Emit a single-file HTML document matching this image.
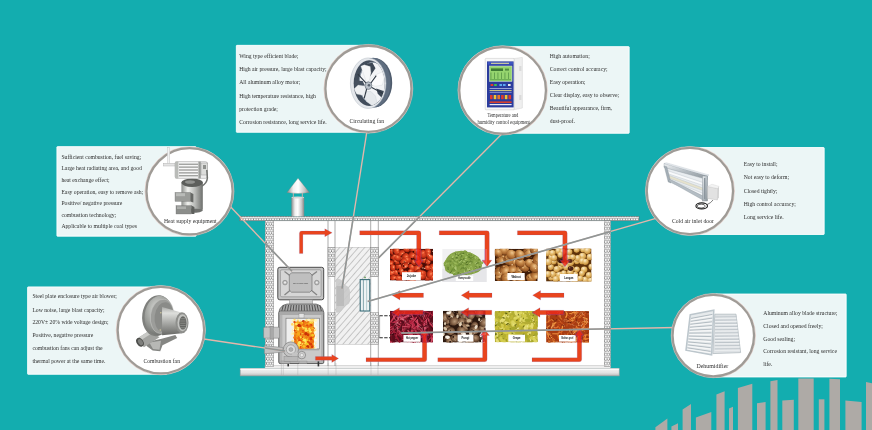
<!DOCTYPE html><html><head><meta charset="utf-8"><title>Drying room</title><style>html,body{margin:0;padding:0;background:#13adaf;overflow:hidden}svg{display:block;will-change:transform}text{font-family:"Liberation Serif",serif;fill:#2e2e2e}.s{font-family:"Liberation Sans",sans-serif;font-weight:bold;fill:#111}</style></head><body>
<svg width="872" height="430" viewBox="0 0 872 430">
<defs>
<pattern id="hc" width="2.6" height="4.5" patternUnits="userSpaceOnUse"><rect width="2.6" height="4.5" fill="#6a6a6a"/><circle cx="1.3" cy="1.125" r="1.1" fill="#fff"/><circle cx="0" cy="3.375" r="1.1" fill="#fff"/><circle cx="2.6" cy="3.375" r="1.1" fill="#fff"/></pattern>
<pattern id="diag" width="4.7" height="4.7" patternUnits="userSpaceOnUse" patternTransform="rotate(-49)"><rect width="4.7" height="4.7" fill="#f1f1f1"/><line x1="0" y1="0.3" x2="4.7" y2="0.3" stroke="#8f8f8f" stroke-width="0.55"/></pattern>
<linearGradient id="cyl" x1="0" x2="1" y1="0" y2="0"><stop offset="0" stop-color="#8a8a8a"/><stop offset=".28" stop-color="#f0f0f0"/><stop offset=".5" stop-color="#ffffff"/><stop offset=".8" stop-color="#c4c4c4"/><stop offset="1" stop-color="#858585"/></linearGradient>
<linearGradient id="cylv" x1="0" x2="0" y1="0" y2="1"><stop offset="0" stop-color="#9a9a9a"/><stop offset=".35" stop-color="#f2f2f2"/><stop offset="1" stop-color="#8a8a8a"/></linearGradient>
<linearGradient id="base" x1="0" x2="0" y1="0" y2="1"><stop offset="0" stop-color="#f4f4f4"/><stop offset=".6" stop-color="#e2e2e2"/><stop offset="1" stop-color="#b9b9b9"/></linearGradient>
<clipPath id="bld"><rect x="265" y="216" width="346" height="152"/></clipPath>
</defs>
<rect width="872" height="430" fill="#13adaf"/>
<polygon points="655.4,430 655.4,427.2 667.4,418.4 667.4,430" fill="#aeaaa6"/>
<polygon points="671.4,430 671.4,426.4 678,423.2 678,430" fill="#aeaaa6"/>
<polygon points="682.6,430 682.6,409.4 691,404 691,430" fill="#aeaaa6"/>
<polygon points="695.9,430 695.9,417.4 711.3,412 711.3,430" fill="#aeaaa6"/>
<polygon points="716.4,430 716.4,394.5 724.6,391.3 724.6,430" fill="#aeaaa6"/>
<polygon points="729,430 729,408.6 733,406.7 733,430" fill="#aeaaa6"/>
<polygon points="737.9,430 737.9,388 752.3,383.8 752.3,430" fill="#aeaaa6"/>
<polygon points="757,430 757,403.3 765.6,402 765.6,430" fill="#aeaaa6"/>
<polygon points="770.4,430 770.4,381.2 777.5,380 777.5,430" fill="#aeaaa6"/>
<polygon points="782.3,430 782.3,400.6 793.8,399.8 793.8,430" fill="#aeaaa6"/>
<polygon points="798.3,430 798.3,378.5 813.7,378.5 813.7,430" fill="#aeaaa6"/>
<polygon points="818.8,430 818.8,399.3 824.4,399.3 824.4,430" fill="#aeaaa6"/>
<polygon points="829.4,430 829.4,378.8 840,379.3 840,430" fill="#aeaaa6"/>
<polygon points="845.4,430 845.4,400.6 861.6,402 861.6,430" fill="#aeaaa6"/>
<polygon points="866,430 866,382 872,383.3 872,430" fill="#aeaaa6"/>
<rect x="236.35" y="45.35" width="139.1" height="86.89999999999999" rx="0.5" fill="#ecf6f6" stroke="#fff" stroke-width="0.9"/>
<rect x="500.45" y="46.650000000000006" width="128.7" height="86.6" rx="0.5" fill="#ecf6f6" stroke="#fff" stroke-width="0.9"/>
<rect x="56.95" y="146.64999999999998" width="139.1" height="89.5" rx="0.5" fill="#ecf6f6" stroke="#fff" stroke-width="0.9"/>
<rect x="27.65" y="286.95" width="139.1" height="87.3" rx="0.5" fill="#ecf6f6" stroke="#fff" stroke-width="0.9"/>
<rect x="690.45" y="147.54999999999998" width="133.7" height="86.89999999999999" rx="0.5" fill="#ecf6f6" stroke="#fff" stroke-width="0.9"/>
<rect x="715.45" y="294.05" width="130.7" height="82.89999999999999" rx="0.5" fill="#ecf6f6" stroke="#fff" stroke-width="0.9"/>
<text x="239.2" y="58.4" font-size="5.7">Wing type efficient blade;</text>
<text x="239.2" y="71.3" font-size="5.7">High air pressure, large blast capacity;</text>
<text x="239.2" y="84.1" font-size="5.7">All aluminum alloy motor;</text>
<text x="239.2" y="97.5" font-size="5.7">High temperature resistance, high</text>
<text x="239.2" y="110.7" font-size="5.7">protection grade;</text>
<text x="239.2" y="123.5" font-size="5.7">Corrosion resistance, long service life.</text>
<text x="549.8" y="57.6" font-size="5.7">High automation;</text>
<text x="549.8" y="70.7" font-size="5.7">Correct control accuracy;</text>
<text x="549.8" y="83.9" font-size="5.7">Easy operation;</text>
<text x="549.8" y="96.9" font-size="5.7">Clear display, easy to observe;</text>
<text x="549.8" y="110.1" font-size="5.7">Beautiful appearance, firm,</text>
<text x="549.8" y="122.9" font-size="5.7">dust-proof.</text>
<text x="61.4" y="158.5" font-size="5.7">Sufficient combustion, fuel saving;</text>
<text x="61.4" y="170.3" font-size="5.7">Large heat radiating area, and good</text>
<text x="61.4" y="181.8" font-size="5.7">heat exchange effect;</text>
<text x="61.4" y="193.6" font-size="5.7">Easy operation, easy to remove ash;</text>
<text x="61.4" y="205.1" font-size="5.7">Positive/ negative pressure</text>
<text x="61.4" y="216.8" font-size="5.7">combustion technology;</text>
<text x="61.4" y="228.3" font-size="5.7">Applicable to multiple coal types</text>
<text x="32.4" y="298.2" font-size="5.7">Steel plate enclosure type air blower;</text>
<text x="32.4" y="312.1" font-size="5.7">Low noise, large blast capacity;</text>
<text x="32.4" y="324.3" font-size="5.7">220V± 20% wide voltage design;</text>
<text x="32.4" y="336.9" font-size="5.7">Positive, negative pressure</text>
<text x="32.4" y="350.4" font-size="5.7">combustion fans can adjust the</text>
<text x="32.4" y="363" font-size="5.7">thermal power at the same time.</text>
<text x="743.7" y="166.1" font-size="5.7">Easy to install;</text>
<text x="743.7" y="179.4" font-size="5.7">Not easy to deform;</text>
<text x="743.7" y="192.5" font-size="5.7">Closed tightly;</text>
<text x="743.7" y="205.8" font-size="5.7">High control accuracy;</text>
<text x="743.7" y="218.8" font-size="5.7">Long service life.</text>
<text x="763.3" y="314.7" font-size="5.7">Aluminum alloy blade structure;</text>
<text x="763.3" y="327.7" font-size="5.7">Closed and opened freely;</text>
<text x="763.3" y="340.8" font-size="5.7">Good sealing;</text>
<text x="763.3" y="353.4" font-size="5.7">Corrosion resistant, long service</text>
<text x="763.3" y="366.4" font-size="5.7">life.</text>
<g id="building">
<rect x="265" y="220.5" width="345.5" height="146.5" fill="#fff"/>
<rect x="265" y="365.6" width="345.5" height="2.8" fill="#eee" stroke="#aaa" stroke-width="0.4"/>
<rect x="240.2" y="368.3" width="379" height="7.6" fill="url(#base)" stroke="#9c9c9c" stroke-width="0.6"/>
<rect x="240.5" y="368.6" width="378.4" height="1.4" fill="#fafafa"/>
<line x1="281.4" y1="363" x2="281.4" y2="375.6" stroke="#aaa" stroke-width="0.4"/>
<line x1="283.3" y1="363" x2="283.3" y2="375.6" stroke="#aaa" stroke-width="0.4"/>
<line x1="297.8" y1="363" x2="297.8" y2="375.6" stroke="#aaa" stroke-width="0.4"/>
<line x1="328.2" y1="363" x2="328.2" y2="375.6" stroke="#aaa" stroke-width="0.4"/>
<line x1="336" y1="363" x2="336" y2="375.6" stroke="#aaa" stroke-width="0.4"/>
<line x1="371" y1="363" x2="371" y2="375.6" stroke="#aaa" stroke-width="0.4"/>
<line x1="378" y1="363" x2="378" y2="375.6" stroke="#aaa" stroke-width="0.4"/>
<rect x="239.8" y="216.3" width="399.2" height="4.5" fill="url(#hc)" stroke="#666" stroke-width="0.5"/>
<rect x="265.2" y="220.8" width="8.6" height="145.4" fill="url(#hc)" stroke="#777" stroke-width="0.4"/>
<rect x="604.4" y="220.8" width="6" height="145.6" fill="url(#hc)" stroke="#777" stroke-width="0.4"/>
<line x1="328" y1="220.8" x2="328" y2="366" stroke="#747474" stroke-width="0.6"/>
<line x1="335" y1="220.8" x2="335" y2="366" stroke="#747474" stroke-width="0.6"/>
<line x1="370.7" y1="220.8" x2="370.7" y2="366" stroke="#747474" stroke-width="0.6"/>
<line x1="378.3" y1="220.8" x2="378.3" y2="366" stroke="#747474" stroke-width="0.6"/>
<rect x="335" y="247.2" width="35.7" height="97.1" fill="url(#diag)" stroke="#aaa" stroke-width="0.4"/>
<rect x="328" y="247.2" width="7" height="29.6" fill="url(#hc)" stroke="#777" stroke-width="0.4"/>
<rect x="328" y="312.8" width="7" height="31.5" fill="url(#hc)" stroke="#777" stroke-width="0.4"/>
<rect x="370.7" y="247.2" width="7.6" height="29.6" fill="url(#hc)" stroke="#777" stroke-width="0.4"/>
<rect x="370.7" y="312.8" width="7.6" height="31.5" fill="url(#hc)" stroke="#777" stroke-width="0.4"/>
<rect x="328.4" y="278" width="1.6" height="34.6" fill="#fff" stroke="#999" stroke-width="0.3"/>
<path d="M336 279 Q341 277.5 343 283 L346 285.5 Q350 287 350 292 L350 300 Q350 304 346 305.5 L343 308 Q341 313.5 336 312.5 Z" fill="#c9c9c9" opacity="0.9"/>
<path d="M336.5 286 L344 286 L344 306 L336.5 306 Z" fill="#b8b8b8" opacity="0.8"/>
<rect x="360.2" y="279.6" width="9.6" height="31.4" fill="#eef3f4" stroke="#3a6c78" stroke-width="1.1"/>
<line x1="363.4" y1="280" x2="363.4" y2="311" stroke="#3f7480" stroke-width="0.6"/><line x1="366.6" y1="280" x2="366.6" y2="311" stroke="#7fa9b1" stroke-width="0.5"/>
<circle cx="365" cy="277.4" r="0.9" fill="#6a9b5a"/>
<line x1="379.6" y1="315.7" x2="379.6" y2="337.8" stroke="#777" stroke-width="0.6"/>
<line x1="379.4" y1="315.7" x2="390.4" y2="315.7" stroke="#2a2a2a" stroke-width="1.1" stroke-dasharray="3.4 1.4"/><line x1="379.4" y1="337.8" x2="390.4" y2="337.8" stroke="#2a2a2a" stroke-width="1.1" stroke-dasharray="3.4 1.4"/>
<rect x="291.4" y="197.4" width="12.8" height="19" fill="url(#cyl)"/>
<ellipse cx="297.8" cy="197.5" rx="6.4" ry="0.9" fill="#d9d9d9"/>
<rect x="292.8" y="192.6" width="1.1" height="5" fill="#b5b0aa"/><rect x="301.8" y="192.6" width="1.1" height="5" fill="#b5b0aa"/>
<path d="M298 178.3 L309.4 192.4 Q298 194.6 287 192.4 Z" fill="url(#cyl)" stroke="#8a7f78" stroke-width="0.3"/>
<g id="furnace">
<rect x="277.8" y="267.3" width="45.9" height="32.5" rx="2" fill="#c4c4c4" stroke="#4a4a4a" stroke-width="1"/>
<rect x="280.4" y="269.8" width="40.7" height="27" rx="1.5" fill="#d6d6d6" stroke="#777" stroke-width="0.5"/>
<line x1="284.5" y1="271.5" x2="290.5" y2="276" stroke="#858585" stroke-width="1.3"/>
<line x1="317" y1="271.5" x2="311" y2="276" stroke="#858585" stroke-width="1.3"/>
<line x1="284.5" y1="295" x2="290.5" y2="290" stroke="#858585" stroke-width="1.3"/>
<line x1="317" y1="295" x2="311" y2="290" stroke="#858585" stroke-width="1.3"/>
<polygon points="291.5,272.8 309.8,272.8 312,275 312,290 309.8,292.2 291.5,292.2 289.3,290 289.3,275" fill="#bfbfbf" stroke="#666" stroke-width="0.6"/>
<circle cx="285" cy="282.6" r="2.3" fill="#bdbdbd" stroke="#6f6f6f" stroke-width="0.5"/><circle cx="285" cy="282.6" r="1" fill="#eee"/>
<circle cx="316.8" cy="282.6" r="2.3" fill="#bdbdbd" stroke="#6f6f6f" stroke-width="0.5"/><circle cx="316.8" cy="282.6" r="1" fill="#eee"/>
<text x="293.2" y="283.8" font-size="2.4" class="s" style="fill:#555" textLength="15" lengthAdjust="spacingAndGlyphs">BAOYUXIONG</text>
<rect x="289.5" y="299.8" width="23.2" height="4.4" fill="#c9c9c9" stroke="#7a7a7a" stroke-width="0.4"/>
<path d="M279 311.6 Q280 305.5 287 304 L316 304 Q322.5 305.5 323.6 311.6 Z" fill="#a8a8a8" stroke="#444" stroke-width="0.6"/>
<line x1="283.4" y1="305" x2="281.86" y2="310.8" stroke="#3c3c3c" stroke-width="0.8"/>
<line x1="286" y1="305" x2="284.68" y2="310.8" stroke="#3c3c3c" stroke-width="0.8"/>
<line x1="288.6" y1="305" x2="287.5" y2="310.8" stroke="#3c3c3c" stroke-width="0.8"/>
<line x1="291.2" y1="305" x2="290.32" y2="310.8" stroke="#3c3c3c" stroke-width="0.8"/>
<line x1="293.8" y1="305" x2="293.14" y2="310.8" stroke="#3c3c3c" stroke-width="0.8"/>
<line x1="296.4" y1="305" x2="295.96" y2="310.8" stroke="#3c3c3c" stroke-width="0.8"/>
<line x1="299" y1="305" x2="298.78" y2="310.8" stroke="#3c3c3c" stroke-width="0.8"/>
<line x1="301.6" y1="305" x2="301.6" y2="310.8" stroke="#3c3c3c" stroke-width="0.8"/>
<line x1="304.2" y1="305" x2="304.42" y2="310.8" stroke="#3c3c3c" stroke-width="0.8"/>
<line x1="306.8" y1="305" x2="307.24" y2="310.8" stroke="#3c3c3c" stroke-width="0.8"/>
<line x1="309.4" y1="305" x2="310.06" y2="310.8" stroke="#3c3c3c" stroke-width="0.8"/>
<line x1="312" y1="305" x2="312.88" y2="310.8" stroke="#3c3c3c" stroke-width="0.8"/>
<line x1="314.6" y1="305" x2="315.7" y2="310.8" stroke="#3c3c3c" stroke-width="0.8"/>
<line x1="317.2" y1="305" x2="318.52" y2="310.8" stroke="#3c3c3c" stroke-width="0.8"/>
<line x1="319.8" y1="305" x2="321.34" y2="310.8" stroke="#3c3c3c" stroke-width="0.8"/>
<rect x="278.8" y="311.2" width="45" height="52.4" rx="1.5" fill="#b4b4b4" stroke="#4a4a4a" stroke-width="0.9"/><rect x="282.4" y="315" width="38.6" height="46" fill="#cacaca"/>
<rect x="279.6" y="311.4" width="43.6" height="3.6" fill="#a9a9a9"/>
<rect x="299" y="313.6" width="5" height="4.4" fill="#e4e4e4" stroke="#777" stroke-width="0.3"/>
<rect x="286" y="318.2" width="33.3" height="30.7" fill="#efefef" stroke="#6f6f6f" stroke-width="0.6"/>
<clipPath id="fw"><rect x="286.4" y="318.6" width="32.5" height="30"/></clipPath><g clip-path="url(#fw)">
<circle cx="315.45" cy="338.06" r="1.45" fill="#fff3c0"/>
<circle cx="293.75" cy="344.37" r="1.42" fill="#fff3c0"/>
<circle cx="293.03" cy="330.78" r="0.78" fill="#ffe890"/>
<circle cx="293.1" cy="320.38" r="0.85" fill="#ffd868"/>
<circle cx="292.37" cy="324.63" r="1.19" fill="#ffe890"/>
<circle cx="292.57" cy="323.83" r="0.87" fill="#ffe890"/>
<circle cx="314.15" cy="345.3" r="0.86" fill="#ffe890"/>
<circle cx="294.61" cy="325.27" r="1.41" fill="#fffbe6"/>
<circle cx="313.75" cy="320.63" r="0.82" fill="#fff3c0"/>
<circle cx="293.61" cy="329.62" r="1.27" fill="#fff3c0"/>
<circle cx="314.6" cy="328.99" r="0.95" fill="#ffd868"/>
<circle cx="292.15" cy="333.7" r="1.48" fill="#fff3c0"/>
<circle cx="315.58" cy="347.53" r="0.71" fill="#ffd868"/>
<circle cx="293.22" cy="330.62" r="1.27" fill="#ffe890"/>
<circle cx="294.51" cy="323.45" r="1.45" fill="#fffbe6"/>
<circle cx="315.39" cy="334.86" r="0.79" fill="#fffbe6"/>
<circle cx="293.17" cy="344.93" r="1.48" fill="#ffe890"/>
<circle cx="315.78" cy="329.88" r="0.97" fill="#fff3c0"/>
<circle cx="314.13" cy="329.06" r="1.34" fill="#ffe890"/>
<circle cx="315.99" cy="340.91" r="0.83" fill="#fff3c0"/>
<circle cx="313.39" cy="322.35" r="1.29" fill="#fffbe6"/>
<circle cx="315.06" cy="343.96" r="0.82" fill="#fff3c0"/>
<circle cx="315.56" cy="343.25" r="0.8" fill="#ffe890"/>
<circle cx="313.59" cy="338.28" r="1.05" fill="#ffe890"/>
<circle cx="314.1" cy="321.7" r="1.06" fill="#ffe890"/>
<circle cx="315.89" cy="348.3" r="1.25" fill="#fffbe6"/>
<circle cx="314.57" cy="333.89" r="1.42" fill="#fff3c0"/>
<circle cx="293.69" cy="330.93" r="1.1" fill="#fffbe6"/>
<circle cx="314.04" cy="325.22" r="1.33" fill="#fffbe6"/>
<circle cx="315.18" cy="321.83" r="1.23" fill="#fffbe6"/>
<circle cx="315.56" cy="330.54" r="0.91" fill="#fffbe6"/>
<circle cx="315.05" cy="347.75" r="1.16" fill="#fff3c0"/>
<circle cx="314.18" cy="333.75" r="0.92" fill="#fffbe6"/>
<circle cx="314.24" cy="343.68" r="1.22" fill="#ffd868"/>
<circle cx="294.35" cy="330.15" r="1.25" fill="#fffbe6"/>
<circle cx="293.43" cy="347.74" r="0.83" fill="#fffbe6"/>
<circle cx="314.06" cy="347.18" r="0.76" fill="#ffd868"/>
<circle cx="314.12" cy="324.98" r="1.14" fill="#fffbe6"/>
<circle cx="292.53" cy="340.89" r="1.17" fill="#ffe890"/>
<circle cx="293.7" cy="326.35" r="0.73" fill="#ffd868"/>
<circle cx="292.15" cy="348.41" r="0.81" fill="#fffbe6"/>
<circle cx="313.82" cy="348.07" r="0.73" fill="#ffd868"/>
<circle cx="293.59" cy="330.18" r="0.89" fill="#fffbe6"/>
<circle cx="315.87" cy="320.02" r="1.38" fill="#fff3c0"/>
<circle cx="315.9" cy="339.98" r="1.14" fill="#fffbe6"/>
<circle cx="315.87" cy="322.75" r="0.93" fill="#fffbe6"/>
<circle cx="314.4" cy="343.74" r="1.15" fill="#fffbe6"/>
<circle cx="293.61" cy="333.56" r="1.15" fill="#ffe890"/>
<circle cx="292.95" cy="348.07" r="1.41" fill="#fff3c0"/>
<circle cx="314.83" cy="331.07" r="1.19" fill="#ffe890"/>
<circle cx="314.46" cy="329.44" r="1.48" fill="#ffd868"/>
<circle cx="314.34" cy="328.45" r="1.38" fill="#ffe890"/>
<circle cx="315.3" cy="337.28" r="0.94" fill="#fffbe6"/>
<circle cx="315.85" cy="332.05" r="0.95" fill="#fffbe6"/>
<circle cx="292.33" cy="324.16" r="1.2" fill="#ffd868"/>
<circle cx="294.11" cy="327.12" r="1.36" fill="#fff3c0"/>
<circle cx="313.96" cy="333.93" r="1.08" fill="#fff3c0"/>
<circle cx="315.58" cy="327.12" r="1.28" fill="#fffbe6"/>
<circle cx="314.7" cy="328.5" r="1.39" fill="#fff3c0"/>
<circle cx="292.81" cy="320.47" r="1.13" fill="#fffbe6"/>
<circle cx="306.81" cy="321.06" r="0.72" fill="#ffe890"/>
<circle cx="301.12" cy="321.09" r="1.11" fill="#fff3c0"/>
<circle cx="293.06" cy="320.71" r="1.18" fill="#fff3c0"/>
<circle cx="312.98" cy="320.69" r="0.71" fill="#ffe890"/>
<circle cx="306.39" cy="320.98" r="1.37" fill="#ffd868"/>
<circle cx="303.84" cy="321.42" r="0.97" fill="#ffe890"/>
<circle cx="308.35" cy="321.04" r="1.33" fill="#ffe890"/>
<circle cx="311.68" cy="319.73" r="1.29" fill="#ffd868"/>
<circle cx="310.53" cy="320.76" r="1.15" fill="#ffe890"/>
<circle cx="313.49" cy="319.89" r="1.03" fill="#ffd868"/>
<circle cx="313" cy="321.55" r="1.08" fill="#ffe890"/>
<circle cx="306.18" cy="321.22" r="0.75" fill="#fff3c0"/>
<circle cx="299.01" cy="319.77" r="0.74" fill="#fff3c0"/>
<circle cx="300.49" cy="320.46" r="0.75" fill="#ffe890"/>
<circle cx="308.78" cy="319.7" r="1.29" fill="#fff3c0"/>
<circle cx="306.83" cy="321.25" r="0.78" fill="#fff3c0"/>
<circle cx="315.37" cy="321.01" r="1.01" fill="#fff3c0"/>
<circle cx="306.74" cy="320.43" r="0.81" fill="#ffd868"/>
<circle cx="297.8" cy="320.71" r="1.16" fill="#ffd868"/>
<circle cx="294.62" cy="319.72" r="1.1" fill="#ffd868"/>
<rect x="294.2" y="321.6" width="19.6" height="27.6" fill="#f3961c"/>
<circle cx="306.42" cy="332.72" r="0.71" fill="#ee6a12"/>
<circle cx="305.96" cy="330.38" r="1.24" fill="#ffe860"/>
<circle cx="296.91" cy="347.12" r="1.02" fill="#c83006"/>
<circle cx="304.11" cy="339.21" r="1.7" fill="#f07a14"/>
<circle cx="298.52" cy="336.94" r="0.77" fill="#e24a0c"/>
<circle cx="308.91" cy="328.69" r="1.27" fill="#fbe04a"/>
<circle cx="311.12" cy="344.14" r="1.2" fill="#d93a08"/>
<circle cx="308.18" cy="326.6" r="1.42" fill="#ee6a12"/>
<circle cx="294.9" cy="337.59" r="1.65" fill="#f07a14"/>
<circle cx="298.88" cy="338.17" r="1.66" fill="#f58a18"/>
<circle cx="296.31" cy="348.48" r="1.28" fill="#f07a14"/>
<circle cx="295.25" cy="341.83" r="0.87" fill="#d93a08"/>
<circle cx="298.57" cy="340.6" r="0.83" fill="#f58a18"/>
<circle cx="296.94" cy="344.49" r="1.39" fill="#ffe860"/>
<circle cx="299.88" cy="344.92" r="1.72" fill="#ffe860"/>
<circle cx="301.61" cy="343.81" r="1.49" fill="#ffe860"/>
<circle cx="309.97" cy="339.68" r="1.18" fill="#ffe860"/>
<circle cx="305.82" cy="336.04" r="1.33" fill="#fbe04a"/>
<circle cx="296.1" cy="332.63" r="0.74" fill="#e24a0c"/>
<circle cx="303.8" cy="327.06" r="1.73" fill="#ffe860"/>
<circle cx="303.42" cy="321.61" r="1.68" fill="#c83006"/>
<circle cx="300.54" cy="347.32" r="1.21" fill="#e24a0c"/>
<circle cx="297.32" cy="325.92" r="1.11" fill="#d93a08"/>
<circle cx="303.41" cy="345.84" r="1.31" fill="#ee6a12"/>
<circle cx="297.37" cy="329.34" r="1.02" fill="#e24a0c"/>
<circle cx="311.77" cy="322.52" r="1.08" fill="#ffe860"/>
<circle cx="295.35" cy="330.42" r="0.72" fill="#f58a18"/>
<circle cx="312.73" cy="334.76" r="0.83" fill="#ffe860"/>
<circle cx="307.42" cy="329.72" r="1.5" fill="#fbe04a"/>
<circle cx="308.21" cy="322.54" r="1.33" fill="#ee6a12"/>
<circle cx="312.07" cy="338.83" r="1.48" fill="#f9a81c"/>
<circle cx="301.28" cy="326.75" r="0.77" fill="#f58a18"/>
<circle cx="298.91" cy="326.16" r="1.44" fill="#f7c325"/>
<circle cx="302.64" cy="339.62" r="1.77" fill="#f7c325"/>
<circle cx="303.08" cy="334.49" r="1.45" fill="#fbe04a"/>
<circle cx="304.95" cy="322.85" r="1.79" fill="#f07a14"/>
<circle cx="312.61" cy="337.37" r="1.49" fill="#e24a0c"/>
<circle cx="303.83" cy="346.68" r="1.73" fill="#f7c325"/>
<circle cx="306.83" cy="340.65" r="1.25" fill="#f7c325"/>
<circle cx="310.54" cy="322.94" r="1.19" fill="#f7c325"/>
<circle cx="312.82" cy="346.01" r="0.91" fill="#f07a14"/>
<circle cx="297.89" cy="339.47" r="0.96" fill="#ffe860"/>
<circle cx="295.9" cy="343.66" r="1.78" fill="#fbe04a"/>
<circle cx="310.99" cy="338.29" r="0.94" fill="#f7c325"/>
<circle cx="301.21" cy="333.91" r="1.17" fill="#d93a08"/>
<circle cx="296.8" cy="336.17" r="0.71" fill="#f9a81c"/>
<circle cx="311.67" cy="340.81" r="1.8" fill="#f07a14"/>
<circle cx="300.31" cy="324.83" r="0.8" fill="#f9a81c"/>
<circle cx="300.33" cy="344.46" r="0.84" fill="#ee6a12"/>
<circle cx="307.86" cy="334.76" r="1.58" fill="#c83006"/>
<circle cx="299.61" cy="340.19" r="1.24" fill="#e24a0c"/>
<circle cx="298.12" cy="322.94" r="1.01" fill="#ffe860"/>
<circle cx="295.61" cy="346.31" r="1.55" fill="#d93a08"/>
<circle cx="305.1" cy="342.59" r="1.69" fill="#fbe04a"/>
<circle cx="302.87" cy="337.63" r="1.6" fill="#f7c325"/>
<circle cx="307.94" cy="341.91" r="0.99" fill="#d93a08"/>
<circle cx="300.5" cy="337.28" r="1.04" fill="#fbe04a"/>
<circle cx="307.45" cy="328.93" r="1.01" fill="#ee6a12"/>
<circle cx="308.68" cy="336.73" r="0.73" fill="#ee6a12"/>
<circle cx="296.75" cy="323.01" r="1.09" fill="#f9a81c"/>
<circle cx="306.2" cy="348.08" r="0.95" fill="#d93a08"/>
<circle cx="298.14" cy="325.1" r="1.09" fill="#fbe04a"/>
<circle cx="310.41" cy="337.91" r="1.5" fill="#ee6a12"/>
<circle cx="306.08" cy="329.08" r="1.39" fill="#fbe04a"/>
<circle cx="312.6" cy="334.05" r="1.57" fill="#ee6a12"/>
<circle cx="302.94" cy="330.9" r="0.95" fill="#c83006"/>
<circle cx="302.85" cy="333.71" r="1.54" fill="#fbe04a"/>
<circle cx="313.21" cy="336.46" r="1.36" fill="#ee6a12"/>
<circle cx="310.87" cy="325.14" r="1.45" fill="#e24a0c"/>
<circle cx="294.84" cy="348.89" r="1.33" fill="#f58a18"/>
<circle cx="301.14" cy="341.27" r="1.21" fill="#e24a0c"/>
<circle cx="298.14" cy="329.33" r="1.32" fill="#ffe860"/>
<circle cx="309.59" cy="342.93" r="1.1" fill="#e24a0c"/>
<circle cx="307.2" cy="344.32" r="1.7" fill="#f7c325"/>
<circle cx="302.06" cy="338.85" r="0.86" fill="#e24a0c"/>
<circle cx="294.94" cy="335.27" r="0.89" fill="#ee6a12"/>
<circle cx="299.72" cy="342.63" r="1.71" fill="#ffe860"/>
<circle cx="303.41" cy="334.91" r="1.29" fill="#ee6a12"/>
<circle cx="301.58" cy="343.93" r="0.71" fill="#f07a14"/>
<circle cx="306.37" cy="338.49" r="1.59" fill="#f7c325"/>
<circle cx="294.73" cy="330.45" r="1.04" fill="#d93a08"/>
<circle cx="304.89" cy="335.58" r="1.46" fill="#f58a18"/>
<circle cx="310.18" cy="349.01" r="1.72" fill="#f07a14"/>
<circle cx="304.72" cy="340.3" r="1.58" fill="#ffe860"/>
<circle cx="294.6" cy="348.34" r="1.55" fill="#e24a0c"/>
<circle cx="295.72" cy="329.53" r="0.8" fill="#ffe860"/>
<circle cx="311.11" cy="338.64" r="1.74" fill="#d93a08"/>
<circle cx="312.41" cy="330.16" r="1" fill="#e24a0c"/>
<circle cx="308.97" cy="323.61" r="1.44" fill="#f9a81c"/>
<circle cx="307.68" cy="346.63" r="1.62" fill="#c83006"/>
<circle cx="298.29" cy="338.65" r="1.27" fill="#ee6a12"/>
<circle cx="313.3" cy="328.27" r="1.3" fill="#d93a08"/>
<circle cx="307.35" cy="348.64" r="1.12" fill="#f07a14"/>
<circle cx="312.04" cy="346.7" r="1.37" fill="#d93a08"/>
<circle cx="310.73" cy="330.65" r="1.68" fill="#ffe860"/>
<circle cx="296.16" cy="328.55" r="1.02" fill="#f9a81c"/>
<circle cx="295.73" cy="343.84" r="1.75" fill="#ee6a12"/>
<circle cx="309.22" cy="339.26" r="0.95" fill="#ee6a12"/>
<circle cx="306.48" cy="337.5" r="1.4" fill="#f07a14"/>
<circle cx="302.37" cy="341.91" r="1.17" fill="#f07a14"/>
<circle cx="298.99" cy="338.23" r="1.16" fill="#ee6a12"/>
<circle cx="313.14" cy="338.49" r="0.91" fill="#f7c325"/>
<circle cx="299.99" cy="325.76" r="1.31" fill="#c83006"/>
<circle cx="297.93" cy="326.73" r="1.35" fill="#ffe860"/>
<circle cx="295.4" cy="341.94" r="1.23" fill="#f07a14"/>
<circle cx="300.44" cy="348.31" r="1.64" fill="#d93a08"/>
<circle cx="298.69" cy="347.46" r="1.47" fill="#f58a18"/>
<circle cx="294.23" cy="345.03" r="1.44" fill="#ee6a12"/>
<circle cx="297.18" cy="324.19" r="1.38" fill="#ee6a12"/>
<circle cx="302.85" cy="337.64" r="1.06" fill="#fbe04a"/>
<circle cx="312.31" cy="341.5" r="1.75" fill="#ee6a12"/>
<circle cx="310.16" cy="331.79" r="0.92" fill="#ffe860"/>
<circle cx="303.19" cy="332.05" r="1.45" fill="#ee6a12"/>
<circle cx="312.65" cy="328.46" r="1.21" fill="#f7c325"/>
<circle cx="305.9" cy="324.88" r="1.11" fill="#f7c325"/>
<circle cx="313.07" cy="335.42" r="1.74" fill="#ee6a12"/>
<circle cx="312.58" cy="335.29" r="1.48" fill="#f7c325"/>
<circle cx="303.59" cy="324.86" r="1.09" fill="#e24a0c"/>
<circle cx="301.69" cy="347.22" r="1.02" fill="#f58a18"/>
<circle cx="309.22" cy="339.53" r="0.8" fill="#ee6a12"/>
<circle cx="300.8" cy="329.86" r="1.63" fill="#f07a14"/>
<circle cx="298.52" cy="333.66" r="1.78" fill="#f9a81c"/>
<circle cx="295.64" cy="340.19" r="1" fill="#ee6a12"/>
<circle cx="302.68" cy="337.04" r="0.9" fill="#d93a08"/>
<circle cx="299" cy="345.47" r="1.2" fill="#fbe04a"/>
<circle cx="294.3" cy="344.22" r="1.54" fill="#ffe860"/>
<circle cx="294.62" cy="344.22" r="1.32" fill="#d93a08"/>
<circle cx="295.74" cy="345.82" r="1.77" fill="#e24a0c"/>
<circle cx="302.88" cy="348.78" r="1.22" fill="#ee6a12"/>
<circle cx="305.93" cy="348.28" r="1.62" fill="#f58a18"/>
<circle cx="295.24" cy="335.77" r="1.13" fill="#f07a14"/>
<circle cx="305.83" cy="333.73" r="1.69" fill="#c83006"/>
<circle cx="294.91" cy="339.34" r="0.73" fill="#d93a08"/>
<circle cx="310.34" cy="344.27" r="1.18" fill="#d93a08"/>
<circle cx="310.19" cy="322.02" r="0.88" fill="#ffe860"/>
<circle cx="309.51" cy="325.74" r="1.16" fill="#ee6a12"/>
<circle cx="298.45" cy="349.34" r="1.16" fill="#f9a81c"/>
<circle cx="301.32" cy="325.49" r="0.7" fill="#ee6a12"/>
<circle cx="309.06" cy="343.06" r="0.78" fill="#d93a08"/>
<circle cx="302.23" cy="322.6" r="0.86" fill="#f7c325"/>
<circle cx="303.88" cy="342.45" r="1.05" fill="#f58a18"/>
<circle cx="298.84" cy="325.4" r="1.71" fill="#c83006"/>
<circle cx="297.82" cy="322.47" r="1.17" fill="#f9a81c"/>
<circle cx="307.02" cy="325.26" r="1.07" fill="#e24a0c"/>
<circle cx="304.36" cy="325.84" r="1.77" fill="#f07a14"/>
<circle cx="296.38" cy="324.11" r="1.41" fill="#ffe860"/>
<circle cx="311.97" cy="330.07" r="1.3" fill="#f58a18"/>
<circle cx="298.92" cy="348.55" r="1.33" fill="#f9a81c"/>
<circle cx="294.45" cy="322.09" r="1.12" fill="#e24a0c"/>
<circle cx="308.03" cy="335.02" r="0.71" fill="#e24a0c"/>
</g>
<rect x="286.8" y="349.6" width="32.4" height="0.6" fill="#8a8a8a"/>
<rect x="287.4" y="361.4" width="1.6" height="5" fill="#333"/><rect x="317.6" y="361.4" width="1.6" height="5" fill="#333"/>
<rect x="281" y="361" width="9" height="2.6" fill="#b5b5b5" stroke="#777" stroke-width="0.3"/><rect x="299" y="361" width="8" height="2.6" fill="#b5b5b5" stroke="#777" stroke-width="0.3"/>
<rect x="263.6" y="327.2" width="16" height="11" rx="1" fill="#c4c4c4" stroke="#777" stroke-width="0.5"/>
<rect x="270" y="326.4" width="3.2" height="12.6" fill="#a9a9a9" stroke="#777" stroke-width="0.3"/>
<polygon points="264.4,345.6 283,347.6 283,352 264.4,353.8" fill="#c2c2c2" stroke="#808080" stroke-width="0.5"/>
<circle cx="290.9" cy="349.5" r="7.6" fill="#c4c4c4" stroke="#7b7b7b" stroke-width="0.7"/>
<circle cx="290.9" cy="349.5" r="4.6" fill="#dcdcdc" stroke="#8a8a8a" stroke-width="0.6"/>
<circle cx="290.9" cy="349.5" r="2" fill="#b0b0b0" stroke="#808080" stroke-width="0.4"/>
<rect x="292" y="352.6" width="10" height="4.6" fill="#c4c4c4"/>
<circle cx="301.8" cy="355.1" r="3.8" fill="#cdcdcd" stroke="#7b7b7b" stroke-width="0.7"/>
<circle cx="301.8" cy="355.1" r="1.7" fill="#ececec" stroke="#8a8a8a" stroke-width="0.4"/>
<rect x="284" y="356.6" width="14" height="4.6" fill="#b9b9b9" stroke="#808080" stroke-width="0.4"/>
</g>
<path d="M299.4 253.6 L299.4 233.3 Q299.4 231 301.7 231 L324.8 231 L324.8 228.7 L332.2 232.7 L324.8 236.7 L324.8 234.5 L302.9 234.5 L302.9 253.6 Z" fill="#e9441d" stroke="#5a5ad0" stroke-opacity="0.45" stroke-width="0.35"/>
<path d="M359.7 230.7 L418.7 230.7 Q421 230.7 421 233 L421 260.2 L423 260.2 L418.8 266.8 L414.7 260.2 L416.6 260.2 L416.6 234.9 L359.7 234.9 Z" fill="#e9441d" stroke="#5a5ad0" stroke-opacity="0.45" stroke-width="0.35"/>
<path d="M439.2 230.7 L487 230.7 Q489.3 230.7 489.3 233 L489.3 260.2 L491.8 260.2 L487.05 266.8 L482 260.2 L484.8 260.2 L484.8 234.9 L439.2 234.9 Z" fill="#e9441d" stroke="#5a5ad0" stroke-opacity="0.45" stroke-width="0.35"/>
<path d="M517.4 230.7 L564.9 230.7 Q567.2 230.7 567.2 233 L567.2 260.2 L570 260.2 L564.95 266.8 L560 260.2 L562.7 260.2 L562.7 234.9 L517.4 234.9 Z" fill="#e9441d" stroke="#5a5ad0" stroke-opacity="0.45" stroke-width="0.35"/>
<polygon points="392,295.3 400,290.5 400,293.1 423.5,293.1 423.5,297.5 400,297.5 400,300.1" fill="#e9441d" stroke="#5a5ad0" stroke-opacity="0.45" stroke-width="0.35"/>
<polygon points="391.4,312.5 399.4,307.7 399.4,310.3 423.3,310.3 423.3,314.7 399.4,314.7 399.4,317.3" fill="#e9441d" stroke="#5a5ad0" stroke-opacity="0.45" stroke-width="0.35"/>
<polygon points="461.2,295.3 469.2,290.5 469.2,293.1 492,293.1 492,297.5 469.2,297.5 469.2,300.1" fill="#e9441d" stroke="#5a5ad0" stroke-opacity="0.45" stroke-width="0.35"/>
<polygon points="460.6,312.5 468.6,307.7 468.6,310.3 491.8,310.3 491.8,314.7 468.6,314.7 468.6,317.3" fill="#e9441d" stroke="#5a5ad0" stroke-opacity="0.45" stroke-width="0.35"/>
<polygon points="532.6,295.3 540.6,290.5 540.6,293.1 564,293.1 564,297.5 540.6,297.5 540.6,300.1" fill="#e9441d" stroke="#5a5ad0" stroke-opacity="0.45" stroke-width="0.35"/>
<polygon points="532,312.5 540,307.7 540,310.3 563.8,310.3 563.8,314.7 540,314.7 540,317.3" fill="#e9441d" stroke="#5a5ad0" stroke-opacity="0.45" stroke-width="0.35"/>
<path d="M366 357.8 L422.3 357.8 L422.3 335.4 L419.9 335.4 L424.55 329.6 L429 335.4 L426.8 335.4 L426.8 359.4 Q426.8 361.7 424.5 361.7 L366 361.7 Z" fill="#e9441d" stroke="#5a5ad0" stroke-opacity="0.45" stroke-width="0.35"/>
<path d="M437.8 357.8 L482.6 357.8 L482.6 335.4 L480.3 335.4 L484.85 329.6 L489.5 335.4 L487.1 335.4 L487.1 359.4 Q487.1 361.7 484.8 361.7 L437.8 361.7 Z" fill="#e9441d" stroke="#5a5ad0" stroke-opacity="0.45" stroke-width="0.35"/>
<path d="M532 357.8 L577.2 357.8 L577.2 335.4 L574.7 335.4 L579.45 329.6 L583.8 335.4 L581.7 335.4 L581.7 359.4 Q581.7 361.7 579.4 361.7 L532 361.7 Z" fill="#e9441d" stroke="#5a5ad0" stroke-opacity="0.45" stroke-width="0.35"/>
<polygon points="315.4,356.6 331.8,356.6 331.8,354.4 338.6,358.4 331.8,362.4 331.8,360.2 315.4,360.2" fill="#e9441d" stroke="#5a5ad0" stroke-opacity="0.45" stroke-width="0.35"/>
<defs>
<radialGradient id="g_juj" cx=".38" cy=".32" r=".75"><stop offset="0" stop-color="#ff9a6a"/><stop offset=".25" stop-color="#e8502a"/><stop offset=".7" stop-color="#b82a12"/><stop offset="1" stop-color="#4a0c05"/></radialGradient>
<radialGradient id="g_wal" cx=".4" cy=".3" r=".78"><stop offset="0" stop-color="#f0c890"/><stop offset=".35" stop-color="#c98c4c"/><stop offset=".75" stop-color="#9a5a26"/><stop offset="1" stop-color="#3c1a06"/></radialGradient>
<radialGradient id="g_lon" cx=".4" cy=".3" r=".78"><stop offset="0" stop-color="#fbeccc"/><stop offset=".35" stop-color="#e9c47c"/><stop offset=".75" stop-color="#cf9a44"/><stop offset="1" stop-color="#6a3a0c"/></radialGradient>
<radialGradient id="g_fun" cx=".45" cy=".4" r=".7"><stop offset="0" stop-color="#b89878"/><stop offset=".5" stop-color="#7e5c42"/><stop offset="1" stop-color="#2e190e"/></radialGradient>
</defs>
<clipPath id="c_jujube"><rect x="390" y="248.7" width="43" height="31.9"/></clipPath><g clip-path="url(#c_jujube)">
<rect x="390" y="248.7" width="43" height="31.9" fill="#4a0d06"/>
<ellipse cx="419.11" cy="265.77" rx="3.69" ry="2.95" fill="url(#g_juj)" transform="rotate(25.62 419.11 265.77)"/>
<ellipse cx="427.17" cy="252.23" rx="4.41" ry="3.53" fill="url(#g_juj)" transform="rotate(105.41 427.17 252.23)"/>
<ellipse cx="393.39" cy="276.86" rx="3.9" ry="3.12" fill="url(#g_juj)" transform="rotate(164.32 393.39 276.86)"/>
<ellipse cx="424.61" cy="260.69" rx="4.15" ry="3.32" fill="url(#g_juj)" transform="rotate(36.88 424.61 260.69)"/>
<ellipse cx="396.67" cy="273.15" rx="3.87" ry="3.1" fill="url(#g_juj)" transform="rotate(29.94 396.67 273.15)"/>
<ellipse cx="422.58" cy="273.85" rx="4.29" ry="3.43" fill="url(#g_juj)" transform="rotate(14.72 422.58 273.85)"/>
<ellipse cx="432.97" cy="277.72" rx="3.65" ry="2.92" fill="url(#g_juj)" transform="rotate(2.9 432.97 277.72)"/>
<ellipse cx="393.49" cy="256.26" rx="4.47" ry="3.57" fill="url(#g_juj)" transform="rotate(111.8 393.49 256.26)"/>
<ellipse cx="426.64" cy="277.92" rx="3.83" ry="3.07" fill="url(#g_juj)" transform="rotate(45.53 426.64 277.92)"/>
<ellipse cx="406.51" cy="278.41" rx="3.79" ry="3.03" fill="url(#g_juj)" transform="rotate(22.34 406.51 278.41)"/>
<ellipse cx="414.4" cy="276.86" rx="4.4" ry="3.52" fill="url(#g_juj)" transform="rotate(168.89 414.4 276.86)"/>
<ellipse cx="422.05" cy="276.96" rx="3.9" ry="3.12" fill="url(#g_juj)" transform="rotate(8.8 422.05 276.96)"/>
<ellipse cx="392.07" cy="252.2" rx="3.26" ry="2.6" fill="url(#g_juj)" transform="rotate(59.21 392.07 252.2)"/>
<ellipse cx="413.28" cy="250.09" rx="4.42" ry="3.54" fill="url(#g_juj)" transform="rotate(64.78 413.28 250.09)"/>
<ellipse cx="431.44" cy="267.58" rx="4.2" ry="3.36" fill="url(#g_juj)" transform="rotate(129.88 431.44 267.58)"/>
<ellipse cx="428" cy="255.45" rx="3.29" ry="2.63" fill="url(#g_juj)" transform="rotate(74.05 428 255.45)"/>
<ellipse cx="427.91" cy="261.49" rx="3.49" ry="2.79" fill="url(#g_juj)" transform="rotate(105.98 427.91 261.49)"/>
<ellipse cx="406.62" cy="249.75" rx="3.32" ry="2.66" fill="url(#g_juj)" transform="rotate(35.4 406.62 249.75)"/>
<ellipse cx="398.63" cy="266.06" rx="4.49" ry="3.59" fill="url(#g_juj)" transform="rotate(96.02 398.63 266.06)"/>
<ellipse cx="430.85" cy="258.01" rx="3.74" ry="2.99" fill="url(#g_juj)" transform="rotate(42.13 430.85 258.01)"/>
<ellipse cx="416.17" cy="268.18" rx="4.39" ry="3.51" fill="url(#g_juj)" transform="rotate(126.61 416.17 268.18)"/>
<ellipse cx="411.74" cy="254.94" rx="4.3" ry="3.44" fill="url(#g_juj)" transform="rotate(147.48 411.74 254.94)"/>
<ellipse cx="411.36" cy="267.6" rx="3.86" ry="3.09" fill="url(#g_juj)" transform="rotate(73.37 411.36 267.6)"/>
<ellipse cx="417.31" cy="251.85" rx="3.85" ry="3.08" fill="url(#g_juj)" transform="rotate(21.27 417.31 251.85)"/>
<ellipse cx="401.15" cy="252.91" rx="3.79" ry="3.03" fill="url(#g_juj)" transform="rotate(158.04 401.15 252.91)"/>
<ellipse cx="405.88" cy="274.17" rx="3.67" ry="2.94" fill="url(#g_juj)" transform="rotate(56.79 405.88 274.17)"/>
<ellipse cx="400.73" cy="271.69" rx="3.9" ry="3.12" fill="url(#g_juj)" transform="rotate(78.87 400.73 271.69)"/>
<ellipse cx="411.25" cy="271.8" rx="3.48" ry="2.79" fill="url(#g_juj)" transform="rotate(9.84 411.25 271.8)"/>
<ellipse cx="404.89" cy="256.65" rx="4.12" ry="3.29" fill="url(#g_juj)" transform="rotate(134.48 404.89 256.65)"/>
<ellipse cx="390.72" cy="271.52" rx="4.44" ry="3.55" fill="url(#g_juj)" transform="rotate(162.69 390.72 271.52)"/>
<ellipse cx="392.6" cy="267.8" rx="3.47" ry="2.78" fill="url(#g_juj)" transform="rotate(85.14 392.6 267.8)"/>
<ellipse cx="411.77" cy="279.67" rx="4.29" ry="3.43" fill="url(#g_juj)" transform="rotate(175.86 411.77 279.67)"/>
<ellipse cx="418.54" cy="272.39" rx="3.68" ry="2.95" fill="url(#g_juj)" transform="rotate(139.52 418.54 272.39)"/>
<ellipse cx="413.89" cy="262.63" rx="3.3" ry="2.64" fill="url(#g_juj)" transform="rotate(44.1 413.89 262.63)"/>
<ellipse cx="390.32" cy="262.35" rx="3.37" ry="2.7" fill="url(#g_juj)" transform="rotate(177.92 390.32 262.35)"/>
<ellipse cx="417.58" cy="262.02" rx="3.83" ry="3.06" fill="url(#g_juj)" transform="rotate(58.42 417.58 262.02)"/>
<ellipse cx="399.53" cy="279.04" rx="4.08" ry="3.26" fill="url(#g_juj)" transform="rotate(23.63 399.53 279.04)"/>
<ellipse cx="397.37" cy="261.85" rx="3.98" ry="3.19" fill="url(#g_juj)" transform="rotate(10.47 397.37 261.85)"/>
<ellipse cx="407.75" cy="260.5" rx="4.18" ry="3.34" fill="url(#g_juj)" transform="rotate(12.39 407.75 260.5)"/>
<ellipse cx="422.64" cy="255.13" rx="4.16" ry="3.33" fill="url(#g_juj)" transform="rotate(39 422.64 255.13)"/>
<ellipse cx="428.09" cy="268.07" rx="3.39" ry="2.71" fill="url(#g_juj)" transform="rotate(21.81 428.09 268.07)"/>
<ellipse cx="396" cy="250.88" rx="4.25" ry="3.4" fill="url(#g_juj)" transform="rotate(102.94 396 250.88)"/>
<ellipse cx="402.98" cy="261.58" rx="4.26" ry="3.41" fill="url(#g_juj)" transform="rotate(133.26 402.98 261.58)"/>
<ellipse cx="421.92" cy="252.54" rx="3.3" ry="2.64" fill="url(#g_juj)" transform="rotate(144.1 421.92 252.54)"/>
<ellipse cx="404.77" cy="265.53" rx="3.69" ry="2.95" fill="url(#g_juj)" transform="rotate(157.53 404.77 265.53)"/>
<ellipse cx="397.92" cy="258.27" rx="3.74" ry="2.99" fill="url(#g_juj)" transform="rotate(26.84 397.92 258.27)"/>
<ellipse cx="429.56" cy="274.2" rx="4.15" ry="3.32" fill="url(#g_juj)" transform="rotate(111.48 429.56 274.2)"/>
<ellipse cx="416.6" cy="257.74" rx="3.31" ry="2.65" fill="url(#g_juj)" transform="rotate(63.31 416.6 257.74)"/>
<circle cx="412.05" cy="279.67" r="0.67" fill="#f89068"/>
<circle cx="403.67" cy="264.45" r="0.43" fill="#ffc8a8"/>
<circle cx="429.7" cy="255.51" r="0.66" fill="#ffc8a8"/>
<circle cx="404.06" cy="248.87" r="0.57" fill="#f89068"/>
<circle cx="396.17" cy="278.37" r="0.48" fill="#f89068"/>
<circle cx="393.37" cy="267.37" r="0.34" fill="#ffc8a8"/>
<circle cx="394.55" cy="252.64" r="0.44" fill="#f89068"/>
<circle cx="410.52" cy="273.89" r="0.48" fill="#ffc8a8"/>
<circle cx="393.75" cy="271.52" r="0.55" fill="#f89068"/>
<circle cx="413.87" cy="276.85" r="0.59" fill="#ffb48a"/>
<circle cx="430.89" cy="268.46" r="0.43" fill="#ffb48a"/>
<circle cx="408.59" cy="249.56" r="0.36" fill="#f89068"/>
<circle cx="432.45" cy="251.23" r="0.5" fill="#ffc8a8"/>
<circle cx="404.37" cy="278.31" r="0.38" fill="#ffb48a"/>
<circle cx="421.95" cy="260.62" r="0.46" fill="#ffc8a8"/>
<circle cx="391.12" cy="250.22" r="0.5" fill="#f89068"/>
<circle cx="408.89" cy="275.89" r="0.66" fill="#f89068"/>
<circle cx="402.48" cy="269.93" r="0.5" fill="#ffb48a"/>
<circle cx="405.37" cy="266.67" r="0.53" fill="#ffc8a8"/>
<circle cx="401.69" cy="258.11" r="0.5" fill="#f89068"/>
<circle cx="426.65" cy="262.31" r="0.39" fill="#ffc8a8"/>
<circle cx="424.71" cy="268.33" r="0.7" fill="#ffc8a8"/>
<circle cx="422.9" cy="267.89" r="0.68" fill="#ffc8a8"/>
<circle cx="398.09" cy="252.58" r="0.41" fill="#ffb48a"/>
<circle cx="414.25" cy="262.24" r="0.63" fill="#f89068"/>
<circle cx="410.08" cy="272.06" r="0.46" fill="#ffc8a8"/>
<circle cx="395.21" cy="261.3" r="0.48" fill="#f89068"/>
<circle cx="411.83" cy="277.56" r="0.41" fill="#ffb48a"/>
<circle cx="403.84" cy="251.91" r="0.34" fill="#f89068"/>
<circle cx="408.41" cy="263.17" r="0.64" fill="#f89068"/>
<circle cx="416.43" cy="273.2" r="0.52" fill="#2c0603"/>
<circle cx="400.62" cy="263.36" r="0.67" fill="#2c0603"/>
<circle cx="403.57" cy="266.12" r="0.78" fill="#2c0603"/>
<circle cx="393.91" cy="252.95" r="0.74" fill="#3a0804"/>
<circle cx="394.81" cy="263.07" r="0.8" fill="#3a0804"/>
<circle cx="398.73" cy="268.88" r="0.47" fill="#3a0804"/>
<circle cx="406.26" cy="280.2" r="0.62" fill="#3a0804"/>
<circle cx="408.91" cy="268.74" r="0.74" fill="#2c0603"/>
<circle cx="398.89" cy="273.22" r="0.86" fill="#2c0603"/>
<circle cx="398.4" cy="269.53" r="0.69" fill="#3a0804"/>
<circle cx="391.74" cy="255.85" r="0.7" fill="#3a0804"/>
<circle cx="413.34" cy="251.86" r="0.85" fill="#2c0603"/>
<circle cx="424.08" cy="263.48" r="0.8" fill="#3a0804"/>
<circle cx="404.25" cy="261.87" r="0.54" fill="#2c0603"/>
<circle cx="426.28" cy="258.57" r="0.47" fill="#3a0804"/>
<circle cx="406.59" cy="280.59" r="0.48" fill="#3a0804"/>
<circle cx="411.61" cy="258.73" r="0.71" fill="#2c0603"/>
<circle cx="391.71" cy="259.78" r="0.77" fill="#2c0603"/>
</g>
<rect x="402" y="272.2" width="18.8" height="8" fill="#fff"/>
<text x="406.75" y="277.2" font-size="2.9" class="s" textLength="9.3" lengthAdjust="spacingAndGlyphs">Jujube</text>
<clipPath id="c_honey"><rect x="442.2" y="248.9" width="44.6" height="33.1"/></clipPath><g clip-path="url(#c_honey)">
<rect x="442.2" y="248.9" width="44.6" height="33.1" fill="#f1f1f2"/>
<rect x="442.2" y="268.76" width="44.6" height="13.24" fill="#e6e6e9"/>
<path d="M444.4 266 Q445 256 453 252.6 Q460 249.6 466 251.4 Q476 253 480.6 260 Q483.4 266 480.4 270.6 Q474 275.6 462 275 Q449 275 445.4 270.6 Z" fill="#86a347"/>
<circle cx="478.49" cy="266.33" r="1.15" fill="#92b052"/>
<circle cx="466.5" cy="270.42" r="1.07" fill="#92b052"/>
<circle cx="474.99" cy="266.88" r="1.57" fill="#86a347"/>
<circle cx="463.33" cy="252.91" r="1.39" fill="#86a347"/>
<circle cx="460.75" cy="273.57" r="1.45" fill="#92b052"/>
<circle cx="464.85" cy="258.28" r="1.15" fill="#86a347"/>
<circle cx="465.94" cy="251.84" r="1.18" fill="#86a347"/>
<circle cx="446.22" cy="261.3" r="1.25" fill="#86a347"/>
<circle cx="471.95" cy="255.31" r="1.36" fill="#86a347"/>
<circle cx="447.38" cy="267.3" r="0.91" fill="#7a9a3e"/>
<circle cx="445.25" cy="263.42" r="1.68" fill="#92b052"/>
<circle cx="458.66" cy="263.87" r="1.63" fill="#86a347"/>
<circle cx="452.14" cy="269.3" r="1.51" fill="#7a9a3e"/>
<circle cx="466.37" cy="256.72" r="1.63" fill="#92b052"/>
<circle cx="445.32" cy="262.97" r="1.12" fill="#86a347"/>
<circle cx="454.4" cy="255.12" r="1.33" fill="#86a347"/>
<circle cx="453.11" cy="256.78" r="1.12" fill="#92b052"/>
<circle cx="477.74" cy="270.74" r="1.09" fill="#7a9a3e"/>
<circle cx="454.13" cy="262.39" r="1.27" fill="#92b052"/>
<circle cx="468.4" cy="256.96" r="0.91" fill="#7a9a3e"/>
<circle cx="448.41" cy="269.96" r="1.21" fill="#92b052"/>
<circle cx="448.24" cy="263.33" r="1.22" fill="#92b052"/>
<circle cx="460.99" cy="259.48" r="1.11" fill="#7a9a3e"/>
<circle cx="459.78" cy="267.01" r="1.11" fill="#86a347"/>
<circle cx="464.66" cy="252.51" r="1.37" fill="#7a9a3e"/>
<circle cx="464.96" cy="271.39" r="1.04" fill="#92b052"/>
<circle cx="466.34" cy="252.34" r="1.02" fill="#7a9a3e"/>
<circle cx="472.97" cy="257.35" r="1.3" fill="#92b052"/>
<circle cx="456.07" cy="268.38" r="1.4" fill="#86a347"/>
<circle cx="454.4" cy="273.96" r="1.68" fill="#7a9a3e"/>
<circle cx="447.81" cy="261.43" r="1.3" fill="#7a9a3e"/>
<circle cx="464.8" cy="251.66" r="1.47" fill="#86a347"/>
<circle cx="455.8" cy="252.81" r="1.29" fill="#86a347"/>
<circle cx="471.57" cy="255.08" r="1.14" fill="#7a9a3e"/>
<circle cx="474.1" cy="272.11" r="1.1" fill="#92b052"/>
<circle cx="479.66" cy="263.49" r="0.91" fill="#86a347"/>
<circle cx="469.8" cy="270.45" r="1.66" fill="#92b052"/>
<circle cx="471.05" cy="273.35" r="1.06" fill="#86a347"/>
<circle cx="473.5" cy="259.45" r="1.24" fill="#86a347"/>
<circle cx="457.32" cy="265.82" r="1.66" fill="#7a9a3e"/>
<circle cx="481.89" cy="262.77" r="1.51" fill="#92b052"/>
<circle cx="463.24" cy="266.15" r="1.48" fill="#7a9a3e"/>
<circle cx="444.62" cy="264.96" r="0.99" fill="#7a9a3e"/>
<circle cx="449.62" cy="261.15" r="1.13" fill="#7a9a3e"/>
<circle cx="471.13" cy="270.19" r="1.33" fill="#86a347"/>
<circle cx="462.29" cy="266.74" r="1.1" fill="#86a347"/>
<circle cx="466.78" cy="253.34" r="1.17" fill="#86a347"/>
<circle cx="469.73" cy="253.95" r="1.68" fill="#86a347"/>
<circle cx="479.56" cy="265.31" r="1.52" fill="#86a347"/>
<circle cx="479.95" cy="266.61" r="0.93" fill="#7a9a3e"/>
<path d="M454.3 269.16l1.58 0.03" stroke="#c2d88c" stroke-width="0.48" stroke-linecap="round"/>
<path d="M471.26 268.33l1.56 0.82" stroke="#a4c262" stroke-width="0.41" stroke-linecap="round"/>
<path d="M456.57 254.5l-0.22 2.13" stroke="#a4c262" stroke-width="0.57" stroke-linecap="round"/>
<path d="M469.09 266.46l0.2 1.23" stroke="#96b654" stroke-width="0.77" stroke-linecap="round"/>
<path d="M455.68 266.67l0.6 2.01" stroke="#c2d88c" stroke-width="0.63" stroke-linecap="round"/>
<path d="M477.6 264.62l-0.91 1.21" stroke="#96b654" stroke-width="0.5" stroke-linecap="round"/>
<path d="M456.32 254.65l1.48 0.06" stroke="#688a32" stroke-width="0.74" stroke-linecap="round"/>
<path d="M461.7 273.15l-0.06 1.61" stroke="#a4c262" stroke-width="0.52" stroke-linecap="round"/>
<path d="M470.23 266.03l0.21 1.68" stroke="#96b654" stroke-width="0.8" stroke-linecap="round"/>
<path d="M459.13 252.72l-0.79 1.5" stroke="#a4c262" stroke-width="0.75" stroke-linecap="round"/>
<path d="M457.45 261.67l0.37 1.08" stroke="#688a32" stroke-width="0.75" stroke-linecap="round"/>
<path d="M469.37 263.03l-1 0.91" stroke="#a4c262" stroke-width="0.74" stroke-linecap="round"/>
<path d="M463.67 273.45l-0.57 1.46" stroke="#456220" stroke-width="0.76" stroke-linecap="round"/>
<path d="M460.47 274.71l-0.25 1.39" stroke="#b4cf78" stroke-width="0.61" stroke-linecap="round"/>
<path d="M474.86 256.7l0.85 0.99" stroke="#96b654" stroke-width="0.47" stroke-linecap="round"/>
<path d="M459.04 255.08l-1.05 0.62" stroke="#456220" stroke-width="0.68" stroke-linecap="round"/>
<path d="M457.27 273.62l-0.48 1.3" stroke="#5e7f2c" stroke-width="0.61" stroke-linecap="round"/>
<path d="M452.3 264.35l0.31 2.09" stroke="#b4cf78" stroke-width="0.56" stroke-linecap="round"/>
<path d="M456.18 268.7l-1.12 1.04" stroke="#a4c262" stroke-width="0.53" stroke-linecap="round"/>
<path d="M473.73 258.73l-1.49 1.56" stroke="#688a32" stroke-width="0.52" stroke-linecap="round"/>
<path d="M458.96 261.83l0.94 1.71" stroke="#b4cf78" stroke-width="0.5" stroke-linecap="round"/>
<path d="M452.19 266.12l1.04 0.4" stroke="#b4cf78" stroke-width="0.68" stroke-linecap="round"/>
<path d="M467.24 261.76l-1.3 0.92" stroke="#5e7f2c" stroke-width="0.72" stroke-linecap="round"/>
<path d="M465.4 273.43l0.98 1.43" stroke="#557628" stroke-width="0.5" stroke-linecap="round"/>
<path d="M462.03 273.71l-0.61 1.63" stroke="#688a32" stroke-width="0.56" stroke-linecap="round"/>
<path d="M452.4 260.62l1.55 1.5" stroke="#b4cf78" stroke-width="0.53" stroke-linecap="round"/>
<path d="M459.17 260.49l1.32 0.15" stroke="#557628" stroke-width="0.64" stroke-linecap="round"/>
<path d="M471.26 263.06l-1.57 0.38" stroke="#c2d88c" stroke-width="0.56" stroke-linecap="round"/>
<path d="M461.41 274.01l0.14 1.38" stroke="#b4cf78" stroke-width="0.46" stroke-linecap="round"/>
<path d="M454.48 272.66l-1.76 0.25" stroke="#96b654" stroke-width="0.72" stroke-linecap="round"/>
<path d="M451.32 271.47l-1.26 1.74" stroke="#456220" stroke-width="0.74" stroke-linecap="round"/>
<path d="M461.69 255.3l0.02 1.86" stroke="#456220" stroke-width="0.56" stroke-linecap="round"/>
<path d="M479.39 268.38l1.47 0.88" stroke="#688a32" stroke-width="0.56" stroke-linecap="round"/>
<path d="M461.71 267.28l-0.12 1.33" stroke="#557628" stroke-width="0.48" stroke-linecap="round"/>
<path d="M465.72 259.43l-1.5 0.62" stroke="#c2d88c" stroke-width="0.71" stroke-linecap="round"/>
<path d="M461.7 257.82l0.45 1" stroke="#a4c262" stroke-width="0.8" stroke-linecap="round"/>
<path d="M472.47 255.73l0.35 1.27" stroke="#96b654" stroke-width="0.42" stroke-linecap="round"/>
<path d="M463.22 254.69l1.17 0.43" stroke="#96b654" stroke-width="0.71" stroke-linecap="round"/>
<path d="M471.27 257.51l1.41 0.11" stroke="#688a32" stroke-width="0.66" stroke-linecap="round"/>
<path d="M453.37 267.31l-0.65 1.71" stroke="#5e7f2c" stroke-width="0.46" stroke-linecap="round"/>
<path d="M464.39 266.29l1.34 1.16" stroke="#557628" stroke-width="0.5" stroke-linecap="round"/>
<path d="M455.43 268.16l1.13 1.86" stroke="#c2d88c" stroke-width="0.67" stroke-linecap="round"/>
<path d="M478.31 268.34l0.15 1.03" stroke="#a4c262" stroke-width="0.68" stroke-linecap="round"/>
<path d="M463.62 267.77l1.47 0.07" stroke="#a4c262" stroke-width="0.67" stroke-linecap="round"/>
<path d="M467.29 258.66l-0.28 1.37" stroke="#96b654" stroke-width="0.65" stroke-linecap="round"/>
<path d="M465.41 265.53l-1.83 0.97" stroke="#a4c262" stroke-width="0.49" stroke-linecap="round"/>
<path d="M453.56 268.96l1.54 1.21" stroke="#688a32" stroke-width="0.71" stroke-linecap="round"/>
<path d="M454.89 254.47l1.29 0.82" stroke="#b4cf78" stroke-width="0.43" stroke-linecap="round"/>
<path d="M456.42 270.2l-0.15 2.18" stroke="#96b654" stroke-width="0.41" stroke-linecap="round"/>
<path d="M473.44 256.21l-0.54 0.92" stroke="#456220" stroke-width="0.46" stroke-linecap="round"/>
<path d="M469.35 268.35l0.83 1.15" stroke="#a4c262" stroke-width="0.64" stroke-linecap="round"/>
<path d="M448.78 261.29l0.91 1.07" stroke="#688a32" stroke-width="0.56" stroke-linecap="round"/>
<path d="M458.41 272.6l-0.58 1.56" stroke="#557628" stroke-width="0.64" stroke-linecap="round"/>
<path d="M452.73 266.93l-0.75 1.43" stroke="#96b654" stroke-width="0.61" stroke-linecap="round"/>
<path d="M465.7 253.09l1.88 0.88" stroke="#688a32" stroke-width="0.64" stroke-linecap="round"/>
<path d="M477.91 257.57l-0.99 0.81" stroke="#96b654" stroke-width="0.58" stroke-linecap="round"/>
<path d="M455.55 273.17l2.12 0.41" stroke="#c2d88c" stroke-width="0.49" stroke-linecap="round"/>
<path d="M471.52 267.19l1.16 0.83" stroke="#a4c262" stroke-width="0.6" stroke-linecap="round"/>
<path d="M459.64 273.57l-1.08 1.46" stroke="#688a32" stroke-width="0.49" stroke-linecap="round"/>
<path d="M468.99 256.3l0.59 1.14" stroke="#557628" stroke-width="0.67" stroke-linecap="round"/>
<path d="M476.25 266.45l-1.14 0" stroke="#456220" stroke-width="0.43" stroke-linecap="round"/>
<path d="M461.97 264.25l-2.02 0.73" stroke="#5e7f2c" stroke-width="0.56" stroke-linecap="round"/>
<path d="M457.11 268.16l-0.18 1.08" stroke="#688a32" stroke-width="0.44" stroke-linecap="round"/>
<path d="M451.37 255.09l-0.07 1" stroke="#a4c262" stroke-width="0.41" stroke-linecap="round"/>
<path d="M455.2 272.05l-1.84 1" stroke="#c2d88c" stroke-width="0.62" stroke-linecap="round"/>
<path d="M472.05 262.51l-0.49 1" stroke="#688a32" stroke-width="0.59" stroke-linecap="round"/>
<path d="M461.11 273.08l-1.38 1.48" stroke="#5e7f2c" stroke-width="0.68" stroke-linecap="round"/>
<path d="M462.39 268.48l-1.99 0.72" stroke="#5e7f2c" stroke-width="0.62" stroke-linecap="round"/>
<path d="M469.49 270.1l-0.36 1.07" stroke="#688a32" stroke-width="0.57" stroke-linecap="round"/>
<path d="M480.1 259.85l-1.48 0.05" stroke="#456220" stroke-width="0.48" stroke-linecap="round"/>
<path d="M459.86 256.66l1.52 1.08" stroke="#5e7f2c" stroke-width="0.64" stroke-linecap="round"/>
<path d="M458.04 265.03l1.49 0.33" stroke="#5e7f2c" stroke-width="0.54" stroke-linecap="round"/>
<path d="M463.22 258.97l-0.72 1.17" stroke="#557628" stroke-width="0.65" stroke-linecap="round"/>
<path d="M473.03 257.6l0.93 1.04" stroke="#5e7f2c" stroke-width="0.41" stroke-linecap="round"/>
<path d="M459.1 272.49l-1.81 0.93" stroke="#557628" stroke-width="0.53" stroke-linecap="round"/>
<path d="M466.15 268.76l-0.26 2.15" stroke="#456220" stroke-width="0.69" stroke-linecap="round"/>
<path d="M448.75 262.41l1.81 0.43" stroke="#96b654" stroke-width="0.56" stroke-linecap="round"/>
<path d="M458.27 256.39l-0.2 1.62" stroke="#96b654" stroke-width="0.57" stroke-linecap="round"/>
<path d="M475.22 256.7l0.14 1.95" stroke="#b4cf78" stroke-width="0.69" stroke-linecap="round"/>
<path d="M470.48 261.15l1.12 0.95" stroke="#456220" stroke-width="0.41" stroke-linecap="round"/>
<path d="M463.34 273.46l-1.28 0.11" stroke="#557628" stroke-width="0.7" stroke-linecap="round"/>
<path d="M454.35 261.5l-1.11 0.38" stroke="#557628" stroke-width="0.44" stroke-linecap="round"/>
<path d="M466.77 271.19l-0.63 1.74" stroke="#96b654" stroke-width="0.76" stroke-linecap="round"/>
<path d="M470.75 261.13l1.86 0.76" stroke="#5e7f2c" stroke-width="0.62" stroke-linecap="round"/>
<path d="M466.9 257.03l-1.47 0.41" stroke="#b4cf78" stroke-width="0.79" stroke-linecap="round"/>
<path d="M463.61 266.24l0.15 1.51" stroke="#688a32" stroke-width="0.76" stroke-linecap="round"/>
<path d="M471.83 254.83l-2.05 0.58" stroke="#688a32" stroke-width="0.52" stroke-linecap="round"/>
<path d="M460.96 266.11l-0.22 1.46" stroke="#96b654" stroke-width="0.47" stroke-linecap="round"/>
<path d="M446.84 263.52l-1.3 1.09" stroke="#b4cf78" stroke-width="0.5" stroke-linecap="round"/>
<path d="M478.92 265.28l0.71 1.27" stroke="#688a32" stroke-width="0.47" stroke-linecap="round"/>
<path d="M456.46 253.58l-0.96 1.04" stroke="#c2d88c" stroke-width="0.49" stroke-linecap="round"/>
<path d="M479.93 260.95l-1.19 0.78" stroke="#b4cf78" stroke-width="0.42" stroke-linecap="round"/>
<path d="M475.4 267.07l1.18 1.85" stroke="#b4cf78" stroke-width="0.52" stroke-linecap="round"/>
<path d="M476.46 257.1l1.36 1.51" stroke="#b4cf78" stroke-width="0.54" stroke-linecap="round"/>
<path d="M463.75 253.25l-0.97 0.31" stroke="#456220" stroke-width="0.79" stroke-linecap="round"/>
<path d="M465.52 266.37l-1.5 0.22" stroke="#b4cf78" stroke-width="0.53" stroke-linecap="round"/>
<path d="M479.26 266.09l0.38 1.38" stroke="#557628" stroke-width="0.77" stroke-linecap="round"/>
<path d="M457.49 273.03l-1.61 0.18" stroke="#5e7f2c" stroke-width="0.57" stroke-linecap="round"/>
<path d="M452.96 269.68l-1.63 1.15" stroke="#5e7f2c" stroke-width="0.64" stroke-linecap="round"/>
<path d="M460.28 255.06l-0.54 1.16" stroke="#a4c262" stroke-width="0.61" stroke-linecap="round"/>
<path d="M469.58 269.36l-1.08 0.32" stroke="#c2d88c" stroke-width="0.72" stroke-linecap="round"/>
<path d="M452.86 264.22l-1.24 0.12" stroke="#688a32" stroke-width="0.5" stroke-linecap="round"/>
<path d="M469.82 266.67l0.94 0.73" stroke="#688a32" stroke-width="0.59" stroke-linecap="round"/>
<path d="M451.86 258.53l1.24 0.15" stroke="#557628" stroke-width="0.68" stroke-linecap="round"/>
<path d="M460.71 259.38l0.94 0.66" stroke="#456220" stroke-width="0.7" stroke-linecap="round"/>
<path d="M464.57 270.9l-0.73 2.01" stroke="#688a32" stroke-width="0.53" stroke-linecap="round"/>
<path d="M467.66 253.43l-1.89 0.22" stroke="#a4c262" stroke-width="0.41" stroke-linecap="round"/>
<path d="M469.91 257.44l0.66 1.4" stroke="#5e7f2c" stroke-width="0.76" stroke-linecap="round"/>
<path d="M471.57 266.25l-1.55 0.91" stroke="#b4cf78" stroke-width="0.61" stroke-linecap="round"/>
<path d="M463.15 267.59l1.02 1.13" stroke="#456220" stroke-width="0.79" stroke-linecap="round"/>
<path d="M466.35 254.98l1.51 0.85" stroke="#688a32" stroke-width="0.61" stroke-linecap="round"/>
<path d="M454.5 263.57l1.25 0.02" stroke="#96b654" stroke-width="0.63" stroke-linecap="round"/>
<path d="M463.7 258.96l0.49 1.02" stroke="#456220" stroke-width="0.6" stroke-linecap="round"/>
<path d="M457.18 257.64l-1.53 0.32" stroke="#557628" stroke-width="0.59" stroke-linecap="round"/>
<path d="M452.5 265.98l1.97 0.26" stroke="#5e7f2c" stroke-width="0.43" stroke-linecap="round"/>
<path d="M466.21 265.43l-1.89 0.72" stroke="#a4c262" stroke-width="0.46" stroke-linecap="round"/>
<path d="M457.33 256.99l-1.21 1.49" stroke="#557628" stroke-width="0.71" stroke-linecap="round"/>
<path d="M469.54 270.81l0.01 1.04" stroke="#456220" stroke-width="0.71" stroke-linecap="round"/>
<path d="M467.9 254.29l1.81 0.26" stroke="#557628" stroke-width="0.47" stroke-linecap="round"/>
<path d="M450.42 260.8l0.59 0.93" stroke="#456220" stroke-width="0.42" stroke-linecap="round"/>
<path d="M458.95 263.64l1.61 0.65" stroke="#557628" stroke-width="0.51" stroke-linecap="round"/>
<path d="M446.47 264.06l-1.54 0.37" stroke="#96b654" stroke-width="0.56" stroke-linecap="round"/>
<path d="M469.71 259.15l0.59 0.96" stroke="#688a32" stroke-width="0.74" stroke-linecap="round"/>
<path d="M475.05 261.42l-0.26 1.94" stroke="#a4c262" stroke-width="0.48" stroke-linecap="round"/>
<path d="M455.27 263.15l1.76 0.94" stroke="#a4c262" stroke-width="0.77" stroke-linecap="round"/>
<path d="M455.38 253.64l0.12 1.71" stroke="#456220" stroke-width="0.66" stroke-linecap="round"/>
<path d="M467.65 264.54l-1.82 0.32" stroke="#456220" stroke-width="0.75" stroke-linecap="round"/>
<path d="M477.38 269.37l0.73 1.25" stroke="#b4cf78" stroke-width="0.48" stroke-linecap="round"/>
<path d="M447.63 269.19l1.38 0.72" stroke="#557628" stroke-width="0.65" stroke-linecap="round"/>
<path d="M448.29 267.24l-0.24 1.93" stroke="#456220" stroke-width="0.45" stroke-linecap="round"/>
<path d="M457.79 259.53l-2 0.48" stroke="#b4cf78" stroke-width="0.46" stroke-linecap="round"/>
<path d="M453.03 256.42l-0.72 1.39" stroke="#c2d88c" stroke-width="0.68" stroke-linecap="round"/>
<path d="M470.22 261.35l-1.06 1.1" stroke="#456220" stroke-width="0.52" stroke-linecap="round"/>
<path d="M458.38 263.22l2.1 0.48" stroke="#688a32" stroke-width="0.47" stroke-linecap="round"/>
<path d="M460.37 262.06l1.81 1.06" stroke="#c2d88c" stroke-width="0.63" stroke-linecap="round"/>
<path d="M472.44 254.57l1.19 0.5" stroke="#a4c262" stroke-width="0.54" stroke-linecap="round"/>
<path d="M467.53 268.73l-0.24 1.19" stroke="#c2d88c" stroke-width="0.56" stroke-linecap="round"/>
<path d="M462.21 273.47l1.19 0.37" stroke="#b4cf78" stroke-width="0.72" stroke-linecap="round"/>
<path d="M461.85 260.29l-1.19 0.94" stroke="#b4cf78" stroke-width="0.76" stroke-linecap="round"/>
<path d="M469.81 261.56l-1.44 0.18" stroke="#688a32" stroke-width="0.75" stroke-linecap="round"/>
<path d="M477.53 258.71l-1.35 1.43" stroke="#96b654" stroke-width="0.56" stroke-linecap="round"/>
<path d="M448.03 267.33l0.17 1.16" stroke="#688a32" stroke-width="0.55" stroke-linecap="round"/>
<path d="M453.31 259.45l1.64 1.44" stroke="#5e7f2c" stroke-width="0.44" stroke-linecap="round"/>
<path d="M462.73 262.09l-1.52 1.41" stroke="#557628" stroke-width="0.69" stroke-linecap="round"/>
<path d="M462.09 254.38l1.03 0.28" stroke="#b4cf78" stroke-width="0.65" stroke-linecap="round"/>
<path d="M463.15 261.23l1.76 0.38" stroke="#b4cf78" stroke-width="0.65" stroke-linecap="round"/>
<path d="M472.31 269.43l0.54 2.11" stroke="#b4cf78" stroke-width="0.53" stroke-linecap="round"/>
<path d="M468.44 263.51l0.54 0.89" stroke="#688a32" stroke-width="0.79" stroke-linecap="round"/>
<path d="M455.86 258.82l-1.56 0.33" stroke="#96b654" stroke-width="0.58" stroke-linecap="round"/>
<path d="M469.46 257.2l-1.38 0.39" stroke="#557628" stroke-width="0.42" stroke-linecap="round"/>
<path d="M464.56 272.82l-0.35 1.06" stroke="#b4cf78" stroke-width="0.45" stroke-linecap="round"/>
<path d="M455.52 255.83l1.92 0.44" stroke="#b4cf78" stroke-width="0.53" stroke-linecap="round"/>
<path d="M446.11 259.94l-1.25 1.2" stroke="#a4c262" stroke-width="0.73" stroke-linecap="round"/>
<path d="M464.58 270.98l-0.41 1.14" stroke="#c2d88c" stroke-width="0.72" stroke-linecap="round"/>
<path d="M478.15 264.08l-1.11 1.52" stroke="#b4cf78" stroke-width="0.53" stroke-linecap="round"/>
<path d="M450.94 261.59l-1.33 1.28" stroke="#5e7f2c" stroke-width="0.53" stroke-linecap="round"/>
<path d="M455.32 265.52l-1.66 0.77" stroke="#a4c262" stroke-width="0.53" stroke-linecap="round"/>
<path d="M464.87 258.23l-2.02 0.67" stroke="#688a32" stroke-width="0.71" stroke-linecap="round"/>
<path d="M461.31 253.08l-1.08 1.52" stroke="#456220" stroke-width="0.52" stroke-linecap="round"/>
<path d="M461.94 262.23l-1.22 0.34" stroke="#688a32" stroke-width="0.68" stroke-linecap="round"/>
<path d="M471.19 270.12l0.67 1.19" stroke="#c2d88c" stroke-width="0.41" stroke-linecap="round"/>
<path d="M467.16 261.79l-1.23 0.26" stroke="#688a32" stroke-width="0.43" stroke-linecap="round"/>
<path d="M469.2 271.47l-0.75 1.53" stroke="#688a32" stroke-width="0.46" stroke-linecap="round"/>
<path d="M480.38 265.56l-2.19 0.12" stroke="#a4c262" stroke-width="0.55" stroke-linecap="round"/>
<path d="M471 257.91l0.54 1.21" stroke="#557628" stroke-width="0.55" stroke-linecap="round"/>
<path d="M474.41 256.25l-0.84 0.84" stroke="#557628" stroke-width="0.45" stroke-linecap="round"/>
<path d="M478.12 262.84l-2.05 0.53" stroke="#456220" stroke-width="0.62" stroke-linecap="round"/>
<path d="M450.27 264.55l0.26 1.25" stroke="#557628" stroke-width="0.69" stroke-linecap="round"/>
<path d="M463.85 263.28l1.96 0.81" stroke="#688a32" stroke-width="0.48" stroke-linecap="round"/>
<path d="M459.25 262.51l-0.74 1.35" stroke="#b4cf78" stroke-width="0.59" stroke-linecap="round"/>
<path d="M478.12 268.02l0.99 0.67" stroke="#557628" stroke-width="0.57" stroke-linecap="round"/>
<path d="M456.68 257.07l0.54 1.25" stroke="#456220" stroke-width="0.43" stroke-linecap="round"/>
<path d="M454.58 269.51l-0.6 1" stroke="#557628" stroke-width="0.53" stroke-linecap="round"/>
<path d="M456.91 259.94l-1.18 0.7" stroke="#b4cf78" stroke-width="0.41" stroke-linecap="round"/>
<path d="M470.49 270.86l0.92 1.09" stroke="#96b654" stroke-width="0.69" stroke-linecap="round"/>
<path d="M476.51 262.28l-1.12 1.3" stroke="#c2d88c" stroke-width="0.63" stroke-linecap="round"/>
<path d="M465.94 258.73l1.04 1.03" stroke="#c2d88c" stroke-width="0.43" stroke-linecap="round"/>
<path d="M456.16 267.13l-1.89 0.78" stroke="#b4cf78" stroke-width="0.6" stroke-linecap="round"/>
<path d="M465.18 267.03l0.18 1.32" stroke="#688a32" stroke-width="0.53" stroke-linecap="round"/>
<path d="M453.07 255.32l-0.81 1.79" stroke="#a4c262" stroke-width="0.6" stroke-linecap="round"/>
<path d="M476.81 267.72l-1.33 0.93" stroke="#5e7f2c" stroke-width="0.7" stroke-linecap="round"/>
<path d="M453.57 254.72l1.36 0.31" stroke="#a4c262" stroke-width="0.44" stroke-linecap="round"/>
<path d="M467.25 261.57l-1.08 1.46" stroke="#456220" stroke-width="0.74" stroke-linecap="round"/>
<path d="M454.89 260.97l1.02 0.38" stroke="#688a32" stroke-width="0.42" stroke-linecap="round"/>
<path d="M453.01 262.77l0.77 1.2" stroke="#688a32" stroke-width="0.47" stroke-linecap="round"/>
<path d="M468.09 253.2l-0.71 1.43" stroke="#a4c262" stroke-width="0.77" stroke-linecap="round"/>
<path d="M458.77 263.42l0.17 1.45" stroke="#5e7f2c" stroke-width="0.47" stroke-linecap="round"/>
<path d="M478.24 262.26l-0.01 1.55" stroke="#688a32" stroke-width="0.77" stroke-linecap="round"/>
<path d="M452.2 254.5l-1.63 1.36" stroke="#a4c262" stroke-width="0.51" stroke-linecap="round"/>
<path d="M474.92 260.59l-1.05 1.45" stroke="#96b654" stroke-width="0.65" stroke-linecap="round"/>
</g>
<rect x="455.8" y="275.6" width="17.4" height="5.4" fill="#fff"/>
<text x="458.3" y="279.3" font-size="2.9" class="s" textLength="12.4" lengthAdjust="spacingAndGlyphs">Honeysuckle</text>
<clipPath id="c_walnut"><rect x="494.8" y="248.8" width="42.9" height="32.2"/></clipPath><g clip-path="url(#c_walnut)">
<rect x="494.8" y="248.8" width="42.9" height="32.2" fill="#3e1b07"/>
<ellipse cx="531.19" cy="278.25" rx="5.2" ry="4.53" fill="url(#g_wal)" transform="rotate(27.81 531.19 278.25)"/>
<ellipse cx="500.53" cy="277.3" rx="5.04" ry="4.38" fill="url(#g_wal)" transform="rotate(3.16 500.53 277.3)"/>
<ellipse cx="501.35" cy="259.23" rx="5.44" ry="4.73" fill="url(#g_wal)" transform="rotate(156.05 501.35 259.23)"/>
<ellipse cx="504.17" cy="250.85" rx="4.98" ry="4.33" fill="url(#g_wal)" transform="rotate(21.43 504.17 250.85)"/>
<ellipse cx="497.85" cy="253.12" rx="4.63" ry="4.03" fill="url(#g_wal)" transform="rotate(44.6 497.85 253.12)"/>
<ellipse cx="515.57" cy="278.13" rx="5.28" ry="4.59" fill="url(#g_wal)" transform="rotate(87.91 515.57 278.13)"/>
<ellipse cx="527.68" cy="252.03" rx="5.79" ry="5.03" fill="url(#g_wal)" transform="rotate(114.43 527.68 252.03)"/>
<ellipse cx="499.05" cy="271.28" rx="5.1" ry="4.44" fill="url(#g_wal)" transform="rotate(143.11 499.05 271.28)"/>
<ellipse cx="513.76" cy="262.27" rx="4.79" ry="4.17" fill="url(#g_wal)" transform="rotate(48.8 513.76 262.27)"/>
<ellipse cx="518.08" cy="270.59" rx="5.01" ry="4.36" fill="url(#g_wal)" transform="rotate(121.03 518.08 270.59)"/>
<ellipse cx="535.08" cy="275.01" rx="4.76" ry="4.14" fill="url(#g_wal)" transform="rotate(173.27 535.08 275.01)"/>
<ellipse cx="523.99" cy="266.37" rx="5.92" ry="5.15" fill="url(#g_wal)" transform="rotate(46.1 523.99 266.37)"/>
<ellipse cx="511.76" cy="268.59" rx="4.87" ry="4.23" fill="url(#g_wal)" transform="rotate(158.84 511.76 268.59)"/>
<ellipse cx="529.63" cy="263.31" rx="5.13" ry="4.46" fill="url(#g_wal)" transform="rotate(22.83 529.63 263.31)"/>
<ellipse cx="508.41" cy="260.2" rx="5.51" ry="4.79" fill="url(#g_wal)" transform="rotate(61.14 508.41 260.2)"/>
<ellipse cx="511.77" cy="255.04" rx="5.68" ry="4.94" fill="url(#g_wal)" transform="rotate(37.69 511.77 255.04)"/>
<ellipse cx="534.64" cy="250.18" rx="5.42" ry="4.71" fill="url(#g_wal)" transform="rotate(63.34 534.64 250.18)"/>
<ellipse cx="505.59" cy="277.6" rx="5.61" ry="4.88" fill="url(#g_wal)" transform="rotate(94.37 505.59 277.6)"/>
<ellipse cx="519.94" cy="262.64" rx="5.2" ry="4.52" fill="url(#g_wal)" transform="rotate(46.87 519.94 262.64)"/>
<ellipse cx="536.97" cy="259.7" rx="5.35" ry="4.65" fill="url(#g_wal)" transform="rotate(119.92 536.97 259.7)"/>
<ellipse cx="520.74" cy="279.6" rx="5.07" ry="4.41" fill="url(#g_wal)" transform="rotate(69.23 520.74 279.6)"/>
<ellipse cx="504.33" cy="269.54" rx="5.23" ry="4.55" fill="url(#g_wal)" transform="rotate(139.54 504.33 269.54)"/>
<ellipse cx="534.08" cy="268.09" rx="5.09" ry="4.43" fill="url(#g_wal)" transform="rotate(42.62 534.08 268.09)"/>
<ellipse cx="519.58" cy="255.05" rx="5.54" ry="4.81" fill="url(#g_wal)" transform="rotate(58.91 519.58 255.05)"/>
<path d="M503.11 255.39q0.91 1.43 1.52 3.02" stroke="#6e3a14" stroke-width="0.46" fill="none" stroke-linecap="round"/>
<path d="M500.03 278.16q0.74 1.81 -0.31 3.46" stroke="#44200a" stroke-width="0.59" fill="none" stroke-linecap="round"/>
<path d="M537.27 265.15q0.71 1.06 1.93 1.46" stroke="#6e3a14" stroke-width="0.39" fill="none" stroke-linecap="round"/>
<path d="M505.08 258.49q0.74 0.28 1.4 0.71" stroke="#5a2c0e" stroke-width="0.52" fill="none" stroke-linecap="round"/>
<path d="M522.69 274.49q0.1 1.75 -0.23 3.47" stroke="#6e3a14" stroke-width="0.58" fill="none" stroke-linecap="round"/>
<path d="M500.67 278.63q-1.47 -0.56 -2.93 0.05" stroke="#5a2c0e" stroke-width="0.44" fill="none" stroke-linecap="round"/>
<path d="M512.69 281.01q1.12 0.34 1.79 1.3" stroke="#5a2c0e" stroke-width="0.58" fill="none" stroke-linecap="round"/>
<path d="M523.16 248.28q0.97 0.82 2.23 0.88" stroke="#5a2c0e" stroke-width="0.4" fill="none" stroke-linecap="round"/>
<path d="M508.15 263.2q-0.22 0.9 -0.36 1.82" stroke="#5a2c0e" stroke-width="0.45" fill="none" stroke-linecap="round"/>
<path d="M501.12 267.17q0.98 0.44 1.81 1.11" stroke="#6e3a14" stroke-width="0.5" fill="none" stroke-linecap="round"/>
<path d="M514.35 257.44q-0.93 1.32 -0.86 2.93" stroke="#5a2c0e" stroke-width="0.48" fill="none" stroke-linecap="round"/>
<path d="M499.76 262.83q-0.5 1.19 -1.47 2.05" stroke="#6e3a14" stroke-width="0.34" fill="none" stroke-linecap="round"/>
<path d="M526.83 250.44q-1.85 0.22 -2.53 1.95" stroke="#5a2c0e" stroke-width="0.44" fill="none" stroke-linecap="round"/>
<path d="M515.58 263.99q0.65 1.54 1.14 3.14" stroke="#5a2c0e" stroke-width="0.58" fill="none" stroke-linecap="round"/>
<path d="M532.59 249.41q-1.14 1.43 -0.9 3.25" stroke="#6e3a14" stroke-width="0.3" fill="none" stroke-linecap="round"/>
<path d="M501.96 267.07q1.36 -0.42 2.67 0.15" stroke="#6e3a14" stroke-width="0.51" fill="none" stroke-linecap="round"/>
<path d="M505.34 259.64q0.34 1.15 0.41 2.35" stroke="#5a2c0e" stroke-width="0.49" fill="none" stroke-linecap="round"/>
<path d="M498.36 270.71q-1.39 0.03 -2.64 0.62" stroke="#5a2c0e" stroke-width="0.32" fill="none" stroke-linecap="round"/>
<path d="M507.82 279.55q1.48 0 2.7 0.82" stroke="#5a2c0e" stroke-width="0.57" fill="none" stroke-linecap="round"/>
<path d="M507.31 258.08q0.62 1.08 1.1 2.23" stroke="#6e3a14" stroke-width="0.41" fill="none" stroke-linecap="round"/>
<path d="M525.73 263.15q-0.81 0.87 -0.69 2.05" stroke="#6e3a14" stroke-width="0.39" fill="none" stroke-linecap="round"/>
<path d="M525.44 281.94q-1.86 0.17 -2.66 1.85" stroke="#5a2c0e" stroke-width="0.43" fill="none" stroke-linecap="round"/>
<path d="M523.35 257.06q0.79 0.48 1.53 1.04" stroke="#6e3a14" stroke-width="0.4" fill="none" stroke-linecap="round"/>
<path d="M527.56 259.07q-0.91 1 -1.66 2.12" stroke="#44200a" stroke-width="0.42" fill="none" stroke-linecap="round"/>
<path d="M514.82 259.14q-0.84 -0.01 -1.55 0.46" stroke="#44200a" stroke-width="0.53" fill="none" stroke-linecap="round"/>
<path d="M503.71 273.93q-1.01 1.35 -2.37 2.33" stroke="#5a2c0e" stroke-width="0.33" fill="none" stroke-linecap="round"/>
<path d="M514.93 249.29q-0.39 1.24 -1.66 1.52" stroke="#5a2c0e" stroke-width="0.38" fill="none" stroke-linecap="round"/>
<path d="M508.93 248.68q0.77 0.52 1.7 0.61" stroke="#44200a" stroke-width="0.53" fill="none" stroke-linecap="round"/>
<path d="M527.85 275.82q-0.11 1.39 1.04 2.19" stroke="#5a2c0e" stroke-width="0.57" fill="none" stroke-linecap="round"/>
<path d="M527.64 271.8q0.79 0.91 0.79 2.11" stroke="#44200a" stroke-width="0.49" fill="none" stroke-linecap="round"/>
<path d="M535.27 260.67q1.01 0.25 1.38 1.22" stroke="#6e3a14" stroke-width="0.43" fill="none" stroke-linecap="round"/>
<path d="M501.58 263.99q0.99 0.36 2.01 0.1" stroke="#44200a" stroke-width="0.53" fill="none" stroke-linecap="round"/>
<path d="M520.25 271.25q-1.23 0.58 -2.48 0.04" stroke="#44200a" stroke-width="0.47" fill="none" stroke-linecap="round"/>
<path d="M496.89 254.92q-0.28 1.73 0.92 3.01" stroke="#5a2c0e" stroke-width="0.57" fill="none" stroke-linecap="round"/>
<path d="M529.82 267.13q-0.65 0.57 -0.77 1.42" stroke="#44200a" stroke-width="0.5" fill="none" stroke-linecap="round"/>
<path d="M526.56 265.61q1.2 0.72 1.97 1.87" stroke="#6e3a14" stroke-width="0.4" fill="none" stroke-linecap="round"/>
<path d="M503.13 261.7q0.32 1.18 1.49 1.56" stroke="#6e3a14" stroke-width="0.46" fill="none" stroke-linecap="round"/>
<path d="M502.79 257.32q0.81 0.87 0.47 2.01" stroke="#6e3a14" stroke-width="0.5" fill="none" stroke-linecap="round"/>
<path d="M495.82 281.68q-1.24 0.5 -2.56 0.61" stroke="#44200a" stroke-width="0.51" fill="none" stroke-linecap="round"/>
<path d="M506.43 276.14q-0.92 -0.01 -1.83 0.09" stroke="#6e3a14" stroke-width="0.32" fill="none" stroke-linecap="round"/>
<circle cx="499.61" cy="257.37" r="0.32" fill="#edc48c"/>
<circle cx="507.87" cy="249.45" r="0.68" fill="#edc48c"/>
<circle cx="499.32" cy="272.61" r="0.68" fill="#f4d4a4"/>
<circle cx="531.07" cy="257.39" r="0.31" fill="#f4d4a4"/>
<circle cx="523.15" cy="256.62" r="0.55" fill="#edc48c"/>
<circle cx="503.24" cy="256.31" r="0.8" fill="#edc48c"/>
<circle cx="532.4" cy="260.16" r="0.69" fill="#f4d4a4"/>
<circle cx="529.04" cy="259.96" r="0.31" fill="#f4d4a4"/>
<circle cx="496.96" cy="259.37" r="0.49" fill="#f4d4a4"/>
<circle cx="523.02" cy="267.82" r="0.76" fill="#edc48c"/>
<circle cx="512.13" cy="264.78" r="0.79" fill="#f4d4a4"/>
<circle cx="499.71" cy="277.43" r="0.41" fill="#edc48c"/>
<circle cx="528.93" cy="271.28" r="0.62" fill="#edc48c"/>
<circle cx="503.95" cy="266.42" r="0.58" fill="#edc48c"/>
<circle cx="534.79" cy="250.37" r="0.65" fill="#f4d4a4"/>
<circle cx="501.43" cy="272.93" r="0.45" fill="#f4d4a4"/>
<circle cx="522.27" cy="256.3" r="0.37" fill="#edc48c"/>
<circle cx="535.5" cy="268.37" r="0.67" fill="#f4d4a4"/>
<circle cx="517.25" cy="257.87" r="0.44" fill="#edc48c"/>
<circle cx="495.8" cy="266.9" r="0.52" fill="#f4d4a4"/>
<circle cx="514.13" cy="280.5" r="0.52" fill="#f4d4a4"/>
<circle cx="506.41" cy="258.5" r="0.34" fill="#edc48c"/>
<circle cx="530.93" cy="253.66" r="0.38" fill="#f4d4a4"/>
<circle cx="520.87" cy="269.56" r="0.34" fill="#f4d4a4"/>
</g>
<rect x="507.4" y="273" width="17.3" height="7.1" fill="#fff"/>
<text x="511.4" y="277.55" font-size="2.9" class="s" textLength="9.3" lengthAdjust="spacingAndGlyphs">Walnut</text>
<clipPath id="c_longan"><rect x="546.1" y="248.6" width="45.4" height="33"/></clipPath><g clip-path="url(#c_longan)">
<rect x="546.1" y="248.6" width="45.4" height="33" fill="#5e330b"/>
<circle cx="584.14" cy="269.73" r="3.34" fill="url(#g_lon)"/>
<circle cx="560.44" cy="267.03" r="2.94" fill="url(#g_lon)"/>
<circle cx="551.48" cy="277.55" r="3.28" fill="url(#g_lon)"/>
<circle cx="550.79" cy="267.12" r="3.09" fill="url(#g_lon)"/>
<circle cx="571.75" cy="268.99" r="2.98" fill="url(#g_lon)"/>
<circle cx="574.99" cy="280.42" r="3.4" fill="url(#g_lon)"/>
<circle cx="559.18" cy="274.89" r="3.42" fill="url(#g_lon)"/>
<circle cx="563.88" cy="273.22" r="2.93" fill="url(#g_lon)"/>
<circle cx="552.79" cy="274.42" r="3.35" fill="url(#g_lon)"/>
<circle cx="582" cy="273.44" r="2.93" fill="url(#g_lon)"/>
<circle cx="560.71" cy="262.69" r="3.3" fill="url(#g_lon)"/>
<circle cx="582.57" cy="256.32" r="3.53" fill="url(#g_lon)"/>
<circle cx="570.49" cy="262.85" r="3.55" fill="url(#g_lon)"/>
<circle cx="562.74" cy="263.94" r="2.95" fill="url(#g_lon)"/>
<circle cx="585.22" cy="279.93" r="3.49" fill="url(#g_lon)"/>
<circle cx="558.43" cy="251.01" r="3.17" fill="url(#g_lon)"/>
<circle cx="576.9" cy="269.38" r="2.92" fill="url(#g_lon)"/>
<circle cx="577.01" cy="261.26" r="3.05" fill="url(#g_lon)"/>
<circle cx="553.79" cy="261.67" r="3.06" fill="url(#g_lon)"/>
<circle cx="566.37" cy="267.15" r="3.28" fill="url(#g_lon)"/>
<circle cx="562.69" cy="251.88" r="3.15" fill="url(#g_lon)"/>
<circle cx="589.99" cy="256.95" r="3.42" fill="url(#g_lon)"/>
<circle cx="576.77" cy="249.87" r="3.06" fill="url(#g_lon)"/>
<circle cx="547.07" cy="252.98" r="3.52" fill="url(#g_lon)"/>
<circle cx="591.53" cy="266.76" r="3.12" fill="url(#g_lon)"/>
<circle cx="551.57" cy="257.2" r="3.14" fill="url(#g_lon)"/>
<circle cx="548.44" cy="262.05" r="3.56" fill="url(#g_lon)"/>
<circle cx="575.33" cy="274.78" r="2.98" fill="url(#g_lon)"/>
<circle cx="577.84" cy="258.34" r="3.28" fill="url(#g_lon)"/>
<circle cx="583.28" cy="249.6" r="3.04" fill="url(#g_lon)"/>
<circle cx="587.46" cy="250.71" r="3.49" fill="url(#g_lon)"/>
<circle cx="568.9" cy="257.24" r="3.51" fill="url(#g_lon)"/>
<circle cx="569.25" cy="252.12" r="3.21" fill="url(#g_lon)"/>
<circle cx="570.28" cy="272.26" r="3.22" fill="url(#g_lon)"/>
<circle cx="560.41" cy="254.95" r="3" fill="url(#g_lon)"/>
<circle cx="590.87" cy="280.45" r="3.32" fill="url(#g_lon)"/>
<circle cx="572.72" cy="257.26" r="3.07" fill="url(#g_lon)"/>
<circle cx="560.96" cy="278.2" r="3.12" fill="url(#g_lon)"/>
<circle cx="582.41" cy="261.28" r="3.32" fill="url(#g_lon)"/>
<circle cx="547.95" cy="274.23" r="3.35" fill="url(#g_lon)"/>
<circle cx="552.51" cy="253.13" r="3.15" fill="url(#g_lon)"/>
<circle cx="585.6" cy="261.89" r="3.16" fill="url(#g_lon)"/>
<circle cx="554.12" cy="258.04" r="3.1" fill="url(#g_lon)"/>
<circle cx="555.89" cy="279.21" r="3.17" fill="url(#g_lon)"/>
<circle cx="568.23" cy="278.43" r="3.37" fill="url(#g_lon)"/>
<circle cx="556.76" cy="269.26" r="3.25" fill="url(#g_lon)"/>
<circle cx="589" cy="275.14" r="3.13" fill="url(#g_lon)"/>
<circle cx="580.35" cy="278.48" r="2.99" fill="url(#g_lon)"/>
<ellipse cx="561.6" cy="261.1" rx="3.6" ry="2.2" fill="#3a160c"/><ellipse cx="570.6" cy="268.6" rx="2.8" ry="2.4" fill="#4a2014"/><ellipse cx="570.1" cy="261.1" rx="2.6" ry="2" fill="#5a2a14"/><circle cx="569.7" cy="267.8" r="0.7" fill="#a87858"/>
</g>
<rect x="560" y="274" width="17.6" height="7" fill="#fff"/>
<text x="564.15" y="278.5" font-size="2.9" class="s" textLength="9.3" lengthAdjust="spacingAndGlyphs">Longan</text>
<clipPath id="c_pepper"><rect x="390" y="310.8" width="43" height="31.6"/></clipPath><g clip-path="url(#c_pepper)">
<rect x="390" y="310.8" width="43" height="31.6" fill="#5a0d1c"/>
<path d="M395.47 329.25q-2.57 4.24 -7.32 5.66" stroke="#9a1a32" stroke-width="1.18" fill="none" stroke-linecap="round"/>
<path d="M420.75 310.95q-3.29 2.87 -7.45 4.18" stroke="#9a1a32" stroke-width="1.25" fill="none" stroke-linecap="round"/>
<path d="M391.52 331.3q-2.73 2.68 -3.8 6.35" stroke="#a51e38" stroke-width="1.07" fill="none" stroke-linecap="round"/>
<path d="M410 326.99q5.38 1.45 8.63 5.99" stroke="#74101f" stroke-width="1.1" fill="none" stroke-linecap="round"/>
<path d="M393.39 328.84q-3.02 0.22 -5.26 2.26" stroke="#d04e66" stroke-width="1.14" fill="none" stroke-linecap="round"/>
<path d="M391.89 312.85q2.73 4.05 7.35 5.61" stroke="#8c162c" stroke-width="1.5" fill="none" stroke-linecap="round"/>
<path d="M411.79 318.72q3.84 0.42 6.04 3.59" stroke="#c83a54" stroke-width="1.23" fill="none" stroke-linecap="round"/>
<path d="M398.5 315.86q-1.65 2.92 -0.89 6.19" stroke="#8c162c" stroke-width="1.02" fill="none" stroke-linecap="round"/>
<path d="M397.85 326.1q-0.21 6.4 -1.87 12.58" stroke="#c83a54" stroke-width="0.92" fill="none" stroke-linecap="round"/>
<path d="M430.58 312.26q-1.56 3.23 -3.89 5.96" stroke="#a51e38" stroke-width="1.41" fill="none" stroke-linecap="round"/>
<path d="M394.8 334.44q3.8 4.55 5.63 10.18" stroke="#9a1a32" stroke-width="1.4" fill="none" stroke-linecap="round"/>
<path d="M407.05 320.82q1.92 2.96 2.02 6.48" stroke="#a51e38" stroke-width="1.26" fill="none" stroke-linecap="round"/>
<path d="M393.09 326.86q-2.75 0.44 -5.22 1.72" stroke="#d04e66" stroke-width="1.54" fill="none" stroke-linecap="round"/>
<path d="M417.27 327.33q3.92 1.25 6.04 4.77" stroke="#a51e38" stroke-width="1.12" fill="none" stroke-linecap="round"/>
<path d="M410.68 321.43q-5.42 3.9 -7.26 10.31" stroke="#b92a46" stroke-width="1.64" fill="none" stroke-linecap="round"/>
<path d="M403.43 323.92q1.77 3.14 5.13 4.46" stroke="#8c162c" stroke-width="1.51" fill="none" stroke-linecap="round"/>
<path d="M420.34 338.65q-1.92 4.42 -0.58 9.05" stroke="#c83a54" stroke-width="1.03" fill="none" stroke-linecap="round"/>
<path d="M426.86 338.74q2.07 5.38 2.12 11.14" stroke="#b92a46" stroke-width="1.12" fill="none" stroke-linecap="round"/>
<path d="M423.3 323.99q1.03 2.36 2.73 4.29" stroke="#b92a46" stroke-width="1.6" fill="none" stroke-linecap="round"/>
<path d="M410.65 315.71q-5.41 0.88 -10.12 3.67" stroke="#d04e66" stroke-width="1.47" fill="none" stroke-linecap="round"/>
<path d="M418.75 325.44q-3.28 1.18 -6.11 3.24" stroke="#c83a54" stroke-width="1.61" fill="none" stroke-linecap="round"/>
<path d="M407.25 312.08q-3.08 2.35 -5.6 5.31" stroke="#74101f" stroke-width="1.5" fill="none" stroke-linecap="round"/>
<path d="M389.81 310.88q0.76 2.58 1.71 5.09" stroke="#74101f" stroke-width="1.45" fill="none" stroke-linecap="round"/>
<path d="M416.49 317.37q-3.19 5.66 -9.37 7.63" stroke="#c83a54" stroke-width="1.28" fill="none" stroke-linecap="round"/>
<path d="M414.01 331.87q0.52 2.91 -0.3 5.76" stroke="#a51e38" stroke-width="1.03" fill="none" stroke-linecap="round"/>
<path d="M416.77 321.75q1.5 2.56 4.24 3.72" stroke="#d04e66" stroke-width="1" fill="none" stroke-linecap="round"/>
<path d="M397.41 317.05q1.08 3.31 3.5 5.81" stroke="#c83a54" stroke-width="1.25" fill="none" stroke-linecap="round"/>
<path d="M426.65 317.86q-1.37 5.1 1.56 9.48" stroke="#d04e66" stroke-width="1.41" fill="none" stroke-linecap="round"/>
<path d="M391.16 328.22q2.36 2.56 3.55 5.83" stroke="#a51e38" stroke-width="0.97" fill="none" stroke-linecap="round"/>
<path d="M414 324.55q2.91 4.45 2.1 9.71" stroke="#a51e38" stroke-width="1.13" fill="none" stroke-linecap="round"/>
<path d="M404.38 317.39q3.15 4.63 8.54 6.17" stroke="#a51e38" stroke-width="1.12" fill="none" stroke-linecap="round"/>
<path d="M411.23 333.58q-0.15 5.68 2.46 10.73" stroke="#8c162c" stroke-width="0.96" fill="none" stroke-linecap="round"/>
<path d="M402.92 333.44q5.42 0.82 9.79 4.13" stroke="#74101f" stroke-width="1.31" fill="none" stroke-linecap="round"/>
<path d="M424.95 314.85q-1.8 2.88 -0.99 6.18" stroke="#d04e66" stroke-width="1.02" fill="none" stroke-linecap="round"/>
<path d="M418.31 329.95q5.36 2.1 8.12 7.16" stroke="#9a1a32" stroke-width="0.98" fill="none" stroke-linecap="round"/>
<path d="M390.81 324.67q-3.97 2.73 -7.4 6.11" stroke="#9a1a32" stroke-width="1.39" fill="none" stroke-linecap="round"/>
<path d="M431 335.46q1.08 3.09 2.35 6.1" stroke="#9a1a32" stroke-width="1.68" fill="none" stroke-linecap="round"/>
<path d="M416.12 332.7q2.17 2.07 4.81 3.49" stroke="#b92a46" stroke-width="1.36" fill="none" stroke-linecap="round"/>
<path d="M409.66 321.14q2.73 1.04 4.73 3.17" stroke="#c83a54" stroke-width="0.98" fill="none" stroke-linecap="round"/>
<path d="M406.62 336q4.87 -0.07 8.12 3.57" stroke="#74101f" stroke-width="1.27" fill="none" stroke-linecap="round"/>
<path d="M411.97 310.85q4.26 0.74 6.98 4.09" stroke="#a51e38" stroke-width="1.06" fill="none" stroke-linecap="round"/>
<path d="M408.11 332.26q-3.16 1.44 -6.22 3.08" stroke="#8c162c" stroke-width="1.32" fill="none" stroke-linecap="round"/>
<path d="M424.25 335.37q0.77 4.01 2.88 7.5" stroke="#d04e66" stroke-width="1.01" fill="none" stroke-linecap="round"/>
<path d="M409.34 313.28q-2.03 2.37 -3 5.34" stroke="#9a1a32" stroke-width="1.33" fill="none" stroke-linecap="round"/>
<path d="M432.2 338.38q1.94 4.23 3.49 8.62" stroke="#d04e66" stroke-width="1.17" fill="none" stroke-linecap="round"/>
<path d="M408.51 313.27q-1.98 1.61 -4.24 2.78" stroke="#74101f" stroke-width="1.55" fill="none" stroke-linecap="round"/>
<path d="M391.06 322.79q-3.81 1.12 -6.57 3.98" stroke="#a51e38" stroke-width="0.92" fill="none" stroke-linecap="round"/>
<path d="M406.72 319.34q-4.8 -0.34 -8.58 2.64" stroke="#74101f" stroke-width="1.33" fill="none" stroke-linecap="round"/>
<path d="M422.73 336.6q-3.14 1.27 -5.6 3.6" stroke="#b92a46" stroke-width="1.45" fill="none" stroke-linecap="round"/>
<path d="M390.63 342.55q2.94 3.1 6.14 5.94" stroke="#c83a54" stroke-width="1.37" fill="none" stroke-linecap="round"/>
<path d="M411.55 320.36q-0 3.54 -2.19 6.32" stroke="#b92a46" stroke-width="1.65" fill="none" stroke-linecap="round"/>
<path d="M407.84 326.78q-5.03 4 -10.77 6.91" stroke="#8c162c" stroke-width="1.32" fill="none" stroke-linecap="round"/>
<path d="M398.85 330.94q0.57 2.76 2.68 4.63" stroke="#b92a46" stroke-width="1.65" fill="none" stroke-linecap="round"/>
<path d="M398.73 312.09q-4.85 4.21 -7.83 9.9" stroke="#c83a54" stroke-width="1.58" fill="none" stroke-linecap="round"/>
<path d="M413.47 322.89q0.32 3.11 2.43 5.41" stroke="#b92a46" stroke-width="1.43" fill="none" stroke-linecap="round"/>
<path d="M402.89 337.74q3.62 0.19 6.85 1.84" stroke="#8c162c" stroke-width="1.34" fill="none" stroke-linecap="round"/>
<path d="M399.51 314.34q4.57 4.57 6.16 10.84" stroke="#b92a46" stroke-width="1.54" fill="none" stroke-linecap="round"/>
<path d="M421.36 320.77q2.3 1.54 4.97 2.28" stroke="#d04e66" stroke-width="1.39" fill="none" stroke-linecap="round"/>
<path d="M391.47 334.08q-1.28 3.23 -4.27 4.99" stroke="#74101f" stroke-width="0.96" fill="none" stroke-linecap="round"/>
<path d="M413.87 329.09q-2.2 5.18 -7.12 7.93" stroke="#b92a46" stroke-width="1.67" fill="none" stroke-linecap="round"/>
<path d="M402.88 326.38q-1.05 3.71 0.72 7.14" stroke="#c83a54" stroke-width="0.95" fill="none" stroke-linecap="round"/>
<path d="M397.25 321.38q-3.08 5.78 -9.06 8.46" stroke="#8c162c" stroke-width="1.29" fill="none" stroke-linecap="round"/>
<path d="M408.26 334.55q1.52 3.03 4.41 4.8" stroke="#b92a46" stroke-width="1.23" fill="none" stroke-linecap="round"/>
<path d="M409.4 320.35q3.77 2.36 4.3 6.77" stroke="#b92a46" stroke-width="1.07" fill="none" stroke-linecap="round"/>
<path d="M414.97 335.53q-1.24 4.5 1.16 8.5" stroke="#a51e38" stroke-width="1.2" fill="none" stroke-linecap="round"/>
<path d="M422.38 343.34q-6.11 3.41 -7.35 10.31" stroke="#8c162c" stroke-width="1.51" fill="none" stroke-linecap="round"/>
<path d="M429.01 327.77q-1.51 6.02 -0.92 12.2" stroke="#74101f" stroke-width="1.43" fill="none" stroke-linecap="round"/>
<path d="M432.83 335.29q-2.03 3.19 -5.22 5.22" stroke="#b92a46" stroke-width="1.07" fill="none" stroke-linecap="round"/>
<path d="M393.86 331.53q4.74 4.04 10.53 6.3" stroke="#a51e38" stroke-width="1.46" fill="none" stroke-linecap="round"/>
<path d="M394.33 321.82q1.83 3.82 5.78 5.35" stroke="#c83a54" stroke-width="1.4" fill="none" stroke-linecap="round"/>
<path d="M432.95 334.92q-1.59 5.63 -2.31 11.44" stroke="#d04e66" stroke-width="1.46" fill="none" stroke-linecap="round"/>
<path d="M427.92 313.55q-3.62 4.73 -5.8 10.27" stroke="#74101f" stroke-width="1.27" fill="none" stroke-linecap="round"/>
<path d="M414.65 329.62q0.02 3.5 -2.28 6.14" stroke="#74101f" stroke-width="1.47" fill="none" stroke-linecap="round"/>
<path d="M407.94 336.13q-5.35 1.81 -8.67 6.39" stroke="#8c162c" stroke-width="1.15" fill="none" stroke-linecap="round"/>
<path d="M424.15 336.63q-0.16 4.3 -0.79 8.55" stroke="#a51e38" stroke-width="1.42" fill="none" stroke-linecap="round"/>
<path d="M429.9 343.32q2.8 5.4 0.83 11.15" stroke="#74101f" stroke-width="1.01" fill="none" stroke-linecap="round"/>
<path d="M425.78 319.05q-1.71 5.09 -0.98 10.4" stroke="#d04e66" stroke-width="1.62" fill="none" stroke-linecap="round"/>
<path d="M430.54 334.35q3.25 4.57 8.12 7.36" stroke="#a51e38" stroke-width="1.36" fill="none" stroke-linecap="round"/>
<path d="M413.19 341.84q-0.54 4.02 -2.59 7.51" stroke="#74101f" stroke-width="1.3" fill="none" stroke-linecap="round"/>
<path d="M397.38 333.61q3.22 2.39 5.37 5.77" stroke="#8c162c" stroke-width="1.3" fill="none" stroke-linecap="round"/>
<path d="M411.27 314.31q-5.16 1.94 -10.02 4.57" stroke="#d04e66" stroke-width="1.54" fill="none" stroke-linecap="round"/>
<path d="M390.65 341.2q1.07 4.36 1.44 8.84" stroke="#c83a54" stroke-width="1" fill="none" stroke-linecap="round"/>
<path d="M407.99 330.64q1.84 2.65 3.95 5.1" stroke="#d04e66" stroke-width="1.5" fill="none" stroke-linecap="round"/>
<path d="M432.42 310.97q0.75 3.78 -1.78 6.7" stroke="#8c162c" stroke-width="1.15" fill="none" stroke-linecap="round"/>
<path d="M433.67 330.02q4.15 4.11 9.84 5.45" stroke="#9a1a32" stroke-width="1.67" fill="none" stroke-linecap="round"/>
<path d="M427.9 341.12q-4 1.7 -6 5.56" stroke="#c83a54" stroke-width="1.59" fill="none" stroke-linecap="round"/>
<path d="M433.11 343.05q3.06 2.51 6.94 3.27" stroke="#9a1a32" stroke-width="1.68" fill="none" stroke-linecap="round"/>
<path d="M389.46 341.24q5.55 1.16 9.35 5.35" stroke="#b92a46" stroke-width="1.26" fill="none" stroke-linecap="round"/>
<path d="M412.33 334.36q-0.53 5.04 2.24 9.28" stroke="#c83a54" stroke-width="1.3" fill="none" stroke-linecap="round"/>
<path d="M407.5 322.47q-2.15 5.82 -2.45 12.02" stroke="#74101f" stroke-width="0.92" fill="none" stroke-linecap="round"/>
<path d="M412.54 337.17q-2.63 2.44 -6.21 2.66" stroke="#9a1a32" stroke-width="1.54" fill="none" stroke-linecap="round"/>
<path d="M415.84 312.39q2.43 5.75 7.6 9.25" stroke="#9a1a32" stroke-width="1.02" fill="none" stroke-linecap="round"/>
<path d="M421.98 311.55q6.29 -0.16 11.01 4" stroke="#b92a46" stroke-width="1.02" fill="none" stroke-linecap="round"/>
<path d="M412.26 324.91q0.65 6.59 -3.57 11.68" stroke="#c83a54" stroke-width="1.67" fill="none" stroke-linecap="round"/>
<path d="M396.82 323q5.19 4.65 12.13 4.01" stroke="#d04e66" stroke-width="0.98" fill="none" stroke-linecap="round"/>
<path d="M411.64 314.02q1.97 6.54 7.53 10.52" stroke="#c83a54" stroke-width="1.21" fill="none" stroke-linecap="round"/>
<path d="M402.65 339.45q4.71 -0.04 8.56 2.67" stroke="#c83a54" stroke-width="1.11" fill="none" stroke-linecap="round"/>
<path d="M413.51 327.44q1.17 2.31 2.54 4.5" stroke="#c83a54" stroke-width="1.34" fill="none" stroke-linecap="round"/>
<path d="M414.46 318q-2.09 4.33 -6.65 5.84" stroke="#a51e38" stroke-width="1.01" fill="none" stroke-linecap="round"/>
<path d="M424.08 341.71q-2.09 2.7 -2.03 6.11" stroke="#a51e38" stroke-width="1.36" fill="none" stroke-linecap="round"/>
<path d="M394.66 343.03q-0.98 2.73 -0.23 5.53" stroke="#8c162c" stroke-width="1.31" fill="none" stroke-linecap="round"/>
<path d="M428.05 318.6q1.52 5.79 6.26 9.45" stroke="#c83a54" stroke-width="1.49" fill="none" stroke-linecap="round"/>
<path d="M392.66 314.92q2.04 6.13 7.44 9.68" stroke="#d04e66" stroke-width="0.91" fill="none" stroke-linecap="round"/>
<path d="M401.9 325.13q-2.55 2.13 -4.56 4.77" stroke="#9a1a32" stroke-width="1.55" fill="none" stroke-linecap="round"/>
<path d="M399.63 317.06q4.75 3.47 8.99 7.54" stroke="#d04e66" stroke-width="1.44" fill="none" stroke-linecap="round"/>
<path d="M426.9 315.09q-2.51 5.08 -0.81 10.49" stroke="#b92a46" stroke-width="1.17" fill="none" stroke-linecap="round"/>
<path d="M419.58 329.64q2.14 3.7 6.25 4.88" stroke="#d04e66" stroke-width="1" fill="none" stroke-linecap="round"/>
<path d="M397.58 320.44q-1.97 2.06 -4.82 2.09" stroke="#b92a46" stroke-width="1.2" fill="none" stroke-linecap="round"/>
<path d="M417.5 319.45q0.06 5.01 0.46 10.01" stroke="#d04e66" stroke-width="1.08" fill="none" stroke-linecap="round"/>
<path d="M391.73 335.44q-0.73 5.49 2.55 9.96" stroke="#74101f" stroke-width="1.15" fill="none" stroke-linecap="round"/>
<path d="M431.89 322.74q1.93 1.61 3.48 3.6" stroke="#f0b0bc" stroke-width="0.49" fill="none" stroke-linecap="round"/>
<path d="M424.32 312.73q-0.92 2.04 -1.73 4.13" stroke="#e890a0" stroke-width="0.42" fill="none" stroke-linecap="round"/>
<path d="M420.11 342.84q-1.79 1.18 -2.78 3.07" stroke="#e890a0" stroke-width="0.4" fill="none" stroke-linecap="round"/>
<path d="M431.36 343.25q2.1 0.7 3.65 2.28" stroke="#dc6c82" stroke-width="0.47" fill="none" stroke-linecap="round"/>
<path d="M395.71 326.3q1.94 1.74 2.51 4.28" stroke="#dc6c82" stroke-width="0.48" fill="none" stroke-linecap="round"/>
<path d="M420.72 313.16q0.53 1.39 0.09 2.81" stroke="#f0b0bc" stroke-width="0.41" fill="none" stroke-linecap="round"/>
<path d="M403.28 311.38q-0.92 0.84 -1.72 1.79" stroke="#f0b0bc" stroke-width="0.35" fill="none" stroke-linecap="round"/>
<path d="M406.44 337.65q-0.23 2.86 1.63 5.04" stroke="#dc6c82" stroke-width="0.35" fill="none" stroke-linecap="round"/>
<path d="M400.89 332.18q-1.09 1.15 -2.03 2.43" stroke="#f0b0bc" stroke-width="0.27" fill="none" stroke-linecap="round"/>
<path d="M398.33 321.8q-1.84 0.93 -3.23 2.46" stroke="#e890a0" stroke-width="0.47" fill="none" stroke-linecap="round"/>
<path d="M427.02 325.83q-0.7 1.39 -1.66 2.62" stroke="#e890a0" stroke-width="0.47" fill="none" stroke-linecap="round"/>
<path d="M400.54 327.58q-0.7 1.35 -1.96 2.2" stroke="#f0b0bc" stroke-width="0.32" fill="none" stroke-linecap="round"/>
<path d="M427.01 332.56q-2.42 0.31 -4.06 2.1" stroke="#f0b0bc" stroke-width="0.28" fill="none" stroke-linecap="round"/>
<path d="M413.25 338.34q1.33 0.36 2.34 1.31" stroke="#e890a0" stroke-width="0.38" fill="none" stroke-linecap="round"/>
<path d="M429.52 319.52q-0.79 0.68 -1.34 1.57" stroke="#e890a0" stroke-width="0.26" fill="none" stroke-linecap="round"/>
<path d="M390.54 342.31q-2.29 0.3 -4.18 1.64" stroke="#dc6c82" stroke-width="0.44" fill="none" stroke-linecap="round"/>
<path d="M406.23 328.86q-2.44 -0.44 -4.27 1.23" stroke="#e890a0" stroke-width="0.31" fill="none" stroke-linecap="round"/>
<path d="M431.86 324.18q0.39 1 1.27 1.6" stroke="#e890a0" stroke-width="0.41" fill="none" stroke-linecap="round"/>
<path d="M397.52 327.53q0.53 3.24 3.29 5" stroke="#e890a0" stroke-width="0.42" fill="none" stroke-linecap="round"/>
<path d="M395.99 342.73q0.91 0.97 2.16 1.43" stroke="#dc6c82" stroke-width="0.33" fill="none" stroke-linecap="round"/>
<path d="M394.37 324.23q1.52 0.12 2.83 0.91" stroke="#dc6c82" stroke-width="0.4" fill="none" stroke-linecap="round"/>
<path d="M398.71 317.46q-0.32 2.25 -2.18 3.54" stroke="#f0b0bc" stroke-width="0.47" fill="none" stroke-linecap="round"/>
<path d="M389.29 319.44q-0.92 1.56 -0.45 3.31" stroke="#f0b0bc" stroke-width="0.32" fill="none" stroke-linecap="round"/>
<path d="M392.86 333.01q-1.68 0.97 -2.25 2.82" stroke="#f0b0bc" stroke-width="0.35" fill="none" stroke-linecap="round"/>
<path d="M422.81 327.36q-0.39 2.19 -0.82 4.38" stroke="#dc6c82" stroke-width="0.47" fill="none" stroke-linecap="round"/>
<path d="M396.81 328.4q-2.97 0.78 -5.09 3.01" stroke="#dc6c82" stroke-width="0.29" fill="none" stroke-linecap="round"/>
<path d="M410.6 318.54q1.29 0.24 2.52 0.71" stroke="#f0b0bc" stroke-width="0.47" fill="none" stroke-linecap="round"/>
<path d="M395.81 340.57q2.66 1.31 4.13 3.88" stroke="#f0b0bc" stroke-width="0.36" fill="none" stroke-linecap="round"/>
<path d="M415.46 338q-1.65 0.29 -2.96 1.32" stroke="#e890a0" stroke-width="0.48" fill="none" stroke-linecap="round"/>
<path d="M415.46 335.99q0.56 1.86 1.58 3.51" stroke="#e890a0" stroke-width="0.29" fill="none" stroke-linecap="round"/>
<path d="M433.57 328.31q1.31 1.65 1.2 3.76" stroke="#e890a0" stroke-width="0.31" fill="none" stroke-linecap="round"/>
<path d="M407.42 341.13q-0.44 1.23 0.28 2.33" stroke="#dc6c82" stroke-width="0.38" fill="none" stroke-linecap="round"/>
<path d="M401.85 318.95q1.79 0.52 3.46 1.35" stroke="#f0b0bc" stroke-width="0.47" fill="none" stroke-linecap="round"/>
<path d="M424.93 342.18q-2.25 0.9 -4.12 2.44" stroke="#f0b0bc" stroke-width="0.48" fill="none" stroke-linecap="round"/>
<path d="M418.56 326.22q2.29 0.63 3.37 2.73" stroke="#f0b0bc" stroke-width="0.5" fill="none" stroke-linecap="round"/>
<path d="M404.55 313.5q-1.84 1.89 -2.41 4.47" stroke="#dc6c82" stroke-width="0.4" fill="none" stroke-linecap="round"/>
<path d="M405.02 311.22q-0.11 1.63 -1.38 2.65" stroke="#f0b0bc" stroke-width="0.36" fill="none" stroke-linecap="round"/>
<path d="M412.68 342.22q-0.1 1.15 -0.31 2.28" stroke="#e890a0" stroke-width="0.36" fill="none" stroke-linecap="round"/>
<path d="M397.68 322.07q-1.3 1.39 -1.32 3.29" stroke="#e890a0" stroke-width="0.44" fill="none" stroke-linecap="round"/>
<path d="M412.49 339.64q1.45 0.93 2.19 2.48" stroke="#f0b0bc" stroke-width="0.41" fill="none" stroke-linecap="round"/>
<path d="M410.18 328.04q2.11 1.75 4.85 1.85" stroke="#30050c" stroke-width="0.41" fill="none" stroke-linecap="round"/>
<path d="M420.02 330.32q0.1 1.16 -0.51 2.14" stroke="#3e0812" stroke-width="0.57" fill="none" stroke-linecap="round"/>
<path d="M427.57 315.91q-0.64 2.95 -3.12 4.67" stroke="#30050c" stroke-width="0.74" fill="none" stroke-linecap="round"/>
<path d="M403.11 321.04q0.7 2.15 1.58 4.23" stroke="#3e0812" stroke-width="0.72" fill="none" stroke-linecap="round"/>
<path d="M401.47 330.03q1.17 2.71 2.85 5.13" stroke="#3e0812" stroke-width="0.45" fill="none" stroke-linecap="round"/>
<path d="M409.28 314.47q0.72 1.14 1.9 1.79" stroke="#30050c" stroke-width="0.61" fill="none" stroke-linecap="round"/>
<path d="M416.15 310.48q-2.07 2.18 -2.8 5.1" stroke="#30050c" stroke-width="0.55" fill="none" stroke-linecap="round"/>
<path d="M413.78 313.47q0.63 0.93 0.51 2.05" stroke="#30050c" stroke-width="0.7" fill="none" stroke-linecap="round"/>
<path d="M417.32 342.89q-0.4 1.09 0.14 2.11" stroke="#30050c" stroke-width="0.78" fill="none" stroke-linecap="round"/>
<path d="M406.21 322.39q3.21 0.36 5.21 2.9" stroke="#30050c" stroke-width="0.52" fill="none" stroke-linecap="round"/>
<path d="M429.54 321.76q-1.03 1.67 -1.9 3.42" stroke="#30050c" stroke-width="0.57" fill="none" stroke-linecap="round"/>
<path d="M404.25 319.71q-0.25 2.09 1.17 3.64" stroke="#3e0812" stroke-width="0.54" fill="none" stroke-linecap="round"/>
<path d="M428.74 324.01q-1.61 2.3 -4.4 2.6" stroke="#3e0812" stroke-width="0.78" fill="none" stroke-linecap="round"/>
<path d="M431.53 327.09q1.23 2.22 2.51 4.41" stroke="#30050c" stroke-width="0.68" fill="none" stroke-linecap="round"/>
<path d="M424.06 322.07q1.14 1.35 2.8 1.95" stroke="#30050c" stroke-width="0.46" fill="none" stroke-linecap="round"/>
<path d="M428.56 338.51q-0.67 1.32 -0.89 2.78" stroke="#30050c" stroke-width="0.69" fill="none" stroke-linecap="round"/>
<path d="M415.21 326.1q-2.49 1.18 -3.67 3.67" stroke="#3e0812" stroke-width="0.42" fill="none" stroke-linecap="round"/>
<path d="M424.88 325.11q2.05 0.89 3.99 1.99" stroke="#3e0812" stroke-width="0.61" fill="none" stroke-linecap="round"/>
<path d="M413.35 336.72q-1.22 2.01 -3.17 3.32" stroke="#3e0812" stroke-width="0.71" fill="none" stroke-linecap="round"/>
<path d="M410.34 314.06q-1.56 2.06 -0.98 4.58" stroke="#3e0812" stroke-width="0.55" fill="none" stroke-linecap="round"/>
<path d="M389.58 320.11q-1.32 0.97 -1.6 2.58" stroke="#3e0812" stroke-width="0.57" fill="none" stroke-linecap="round"/>
<path d="M423.02 340.73q0.85 1.26 2.16 2.05" stroke="#3e0812" stroke-width="0.6" fill="none" stroke-linecap="round"/>
<path d="M398.65 310.58q2.16 0.57 4.27 1.27" stroke="#3e0812" stroke-width="0.63" fill="none" stroke-linecap="round"/>
<path d="M395.56 333.59q-2.82 0.85 -5.69 1.53" stroke="#30050c" stroke-width="0.68" fill="none" stroke-linecap="round"/>
<path d="M407.6 336.68q-0.06 1.3 0.92 2.15" stroke="#30050c" stroke-width="0.56" fill="none" stroke-linecap="round"/>
<path d="M401.96 325.24q-0.93 3.05 -3.66 4.69" stroke="#30050c" stroke-width="0.76" fill="none" stroke-linecap="round"/>
<path d="M406.69 320.9q0.87 0.72 1.98 0.96" stroke="#3e0812" stroke-width="0.75" fill="none" stroke-linecap="round"/>
<path d="M393.99 323.52q2.54 0.46 4.64 1.96" stroke="#30050c" stroke-width="0.5" fill="none" stroke-linecap="round"/>
<path d="M412.27 341.13q1.98 1.5 2.34 3.96" stroke="#3e0812" stroke-width="0.49" fill="none" stroke-linecap="round"/>
<path d="M419 316.63q-1.65 2.45 -3.92 4.34" stroke="#3e0812" stroke-width="0.63" fill="none" stroke-linecap="round"/>
</g>
<rect x="403.4" y="335" width="17.2" height="6.8" fill="#fff"/>
<text x="405.9" y="339.4" font-size="2.9" class="s" textLength="12.2" lengthAdjust="spacingAndGlyphs">Hot pepper</text>
<clipPath id="c_fungi"><rect x="443" y="310.8" width="42.4" height="31.6"/></clipPath><g clip-path="url(#c_fungi)">
<rect x="443" y="310.8" width="42.4" height="31.6" fill="#2c180e"/>
<ellipse cx="449.59" cy="339.98" rx="4.04" ry="3.68" fill="url(#g_fun)" transform="rotate(178.64 449.59 339.98)"/>
<ellipse cx="461.43" cy="337.79" rx="4.89" ry="4.44" fill="url(#g_fun)" transform="rotate(37.34 461.43 337.79)"/>
<ellipse cx="454.89" cy="338.44" rx="4.17" ry="3.79" fill="url(#g_fun)" transform="rotate(37.14 454.89 338.44)"/>
<ellipse cx="447.03" cy="328.76" rx="4.05" ry="3.68" fill="url(#g_fun)" transform="rotate(117.26 447.03 328.76)"/>
<ellipse cx="474.29" cy="325.26" rx="3.8" ry="3.45" fill="url(#g_fun)" transform="rotate(139.5 474.29 325.26)"/>
<ellipse cx="460.32" cy="313.09" rx="4.32" ry="3.93" fill="url(#g_fun)" transform="rotate(35.18 460.32 313.09)"/>
<ellipse cx="464.23" cy="315.94" rx="3.81" ry="3.46" fill="url(#g_fun)" transform="rotate(126.44 464.23 315.94)"/>
<ellipse cx="481.96" cy="328.75" rx="3.96" ry="3.6" fill="url(#g_fun)" transform="rotate(74.61 481.96 328.75)"/>
<ellipse cx="449" cy="321.02" rx="4.52" ry="4.11" fill="url(#g_fun)" transform="rotate(156.78 449 321.02)"/>
<ellipse cx="444.41" cy="317.5" rx="4.57" ry="4.16" fill="url(#g_fun)" transform="rotate(116.42 444.41 317.5)"/>
<ellipse cx="468.26" cy="320.15" rx="4.51" ry="4.1" fill="url(#g_fun)" transform="rotate(43.7 468.26 320.15)"/>
<ellipse cx="478.81" cy="312.86" rx="4.94" ry="4.49" fill="url(#g_fun)" transform="rotate(122.41 478.81 312.86)"/>
<ellipse cx="463.76" cy="327.79" rx="4.74" ry="4.31" fill="url(#g_fun)" transform="rotate(36.38 463.76 327.79)"/>
<ellipse cx="460.84" cy="321.46" rx="4.22" ry="3.84" fill="url(#g_fun)" transform="rotate(119.03 460.84 321.46)"/>
<ellipse cx="483.69" cy="322.24" rx="4.81" ry="4.37" fill="url(#g_fun)" transform="rotate(128.42 483.69 322.24)"/>
<ellipse cx="470.88" cy="315.44" rx="4.37" ry="3.97" fill="url(#g_fun)" transform="rotate(136.64 470.88 315.44)"/>
<ellipse cx="450.65" cy="330.93" rx="4.43" ry="4.03" fill="url(#g_fun)" transform="rotate(171.01 450.65 330.93)"/>
<ellipse cx="474.11" cy="329.87" rx="5" ry="4.54" fill="url(#g_fun)" transform="rotate(163.04 474.11 329.87)"/>
<ellipse cx="475.71" cy="338.73" rx="4.11" ry="3.74" fill="url(#g_fun)" transform="rotate(14.04 475.71 338.73)"/>
<ellipse cx="450.43" cy="316.02" rx="4.53" ry="4.12" fill="url(#g_fun)" transform="rotate(86.95 450.43 316.02)"/>
<ellipse cx="469.84" cy="340.49" rx="4.77" ry="4.34" fill="url(#g_fun)" transform="rotate(152.59 469.84 340.49)"/>
<ellipse cx="453.78" cy="320.91" rx="4.95" ry="4.5" fill="url(#g_fun)" transform="rotate(146.7 453.78 320.91)"/>
<ellipse cx="460.95" cy="330.87" rx="5.04" ry="4.59" fill="url(#g_fun)" transform="rotate(98.12 460.95 330.87)"/>
<ellipse cx="484.39" cy="336.8" rx="4.9" ry="4.45" fill="url(#g_fun)" transform="rotate(130.42 484.39 336.8)"/>
<ellipse cx="484.75" cy="333.81" rx="1.8" ry="1.2" fill="#f6efe4" transform="rotate(160.38 484.75 333.81)"/>
<ellipse cx="482.92" cy="341.63" rx="2.52" ry="1.68" fill="#f6efe4" transform="rotate(62.44 482.92 341.63)"/>
<ellipse cx="460.48" cy="324.09" rx="2.28" ry="1.52" fill="#d9c6aa" transform="rotate(122.71 460.48 324.09)"/>
<ellipse cx="468.96" cy="320.81" rx="2.35" ry="1.57" fill="#cbb292" transform="rotate(169.02 468.96 320.81)"/>
<ellipse cx="445.25" cy="328.61" rx="2.06" ry="1.38" fill="#d9c6aa" transform="rotate(48.12 445.25 328.61)"/>
<ellipse cx="476.1" cy="326.95" rx="2.07" ry="1.38" fill="#eadcc8" transform="rotate(121.78 476.1 326.95)"/>
<ellipse cx="470.68" cy="333.43" rx="2.4" ry="1.6" fill="#d9c6aa" transform="rotate(81.71 470.68 333.43)"/>
<ellipse cx="463.62" cy="333.9" rx="2.46" ry="1.64" fill="#f6efe4" transform="rotate(9.31 463.62 333.9)"/>
<ellipse cx="451.99" cy="316.62" rx="1.27" ry="0.84" fill="#d9c6aa" transform="rotate(27.89 451.99 316.62)"/>
<ellipse cx="467.04" cy="342.32" rx="1.36" ry="0.91" fill="#eadcc8" transform="rotate(22.48 467.04 342.32)"/>
<ellipse cx="467.85" cy="325.6" rx="1.9" ry="1.27" fill="#cbb292" transform="rotate(20.38 467.85 325.6)"/>
<ellipse cx="445.05" cy="323.56" rx="1.61" ry="1.07" fill="#d9c6aa" transform="rotate(92.63 445.05 323.56)"/>
<ellipse cx="479.2" cy="319.54" rx="1.59" ry="1.06" fill="#d9c6aa" transform="rotate(95.82 479.2 319.54)"/>
<ellipse cx="460.69" cy="341.33" rx="2.32" ry="1.54" fill="#eadcc8" transform="rotate(124.45 460.69 341.33)"/>
<ellipse cx="450.32" cy="311.36" rx="1.78" ry="1.19" fill="#eadcc8" transform="rotate(89.25 450.32 311.36)"/>
<ellipse cx="448.52" cy="313.01" rx="2.32" ry="1.55" fill="#f6efe4" transform="rotate(1.82 448.52 313.01)"/>
<ellipse cx="449.44" cy="330.98" rx="1.27" ry="0.85" fill="#d9c6aa" transform="rotate(65.28 449.44 330.98)"/>
<ellipse cx="480.82" cy="335.3" rx="1.88" ry="1.26" fill="#f6efe4" transform="rotate(92.46 480.82 335.3)"/>
<ellipse cx="457.52" cy="316.38" rx="1.86" ry="1.24" fill="#d9c6aa" transform="rotate(92.01 457.52 316.38)"/>
<ellipse cx="447.48" cy="337.24" rx="2.47" ry="1.65" fill="#f6efe4" transform="rotate(4.73 447.48 337.24)"/>
<ellipse cx="482.18" cy="333.97" rx="1.8" ry="1.2" fill="#f6efe4" transform="rotate(62.57 482.18 333.97)"/>
<ellipse cx="443.41" cy="334.62" rx="1.8" ry="1.2" fill="#eadcc8" transform="rotate(114.38 443.41 334.62)"/>
<path d="M442.05 330.94q0.25 0.5 0.48 1.01" stroke="#f0e6d6" stroke-width="0.47" fill="none" stroke-linecap="round"/>
<path d="M466.35 312.17q-0.34 1.1 -0.94 2.09" stroke="#c8b090" stroke-width="0.39" fill="none" stroke-linecap="round"/>
<path d="M443.37 317.91q0.86 0.69 1.4 1.65" stroke="#e4d4bc" stroke-width="0.34" fill="none" stroke-linecap="round"/>
<path d="M459.12 331.85q-0.69 0.56 -0.83 1.44" stroke="#e4d4bc" stroke-width="0.49" fill="none" stroke-linecap="round"/>
<path d="M452.42 339.81q1.08 0.12 2.15 0.28" stroke="#c8b090" stroke-width="0.42" fill="none" stroke-linecap="round"/>
<path d="M445.96 338.11q-0.89 0.39 -1.68 0.96" stroke="#c8b090" stroke-width="0.43" fill="none" stroke-linecap="round"/>
<path d="M478.79 341.5q0.06 0.89 0.78 1.43" stroke="#e4d4bc" stroke-width="0.52" fill="none" stroke-linecap="round"/>
<path d="M465.96 327.92q0.99 0.24 1.54 1.1" stroke="#c8b090" stroke-width="0.57" fill="none" stroke-linecap="round"/>
<path d="M452.82 310.61q0.44 1.04 1.19 1.88" stroke="#e4d4bc" stroke-width="0.53" fill="none" stroke-linecap="round"/>
<path d="M460.71 316.04q0.57 0.72 1.09 1.48" stroke="#c8b090" stroke-width="0.59" fill="none" stroke-linecap="round"/>
<path d="M477.72 342.7q0.08 0.67 0.14 1.34" stroke="#e4d4bc" stroke-width="0.44" fill="none" stroke-linecap="round"/>
<path d="M454.79 339.69q0.29 0.71 1.02 0.92" stroke="#e4d4bc" stroke-width="0.49" fill="none" stroke-linecap="round"/>
<path d="M474.67 332.6q-0.05 1.17 -1 1.85" stroke="#e4d4bc" stroke-width="0.42" fill="none" stroke-linecap="round"/>
<path d="M462.3 332.21q0.43 1.06 0.4 2.2" stroke="#c8b090" stroke-width="0.51" fill="none" stroke-linecap="round"/>
<path d="M481.06 327.32q0.34 0.59 0.63 1.21" stroke="#c8b090" stroke-width="0.42" fill="none" stroke-linecap="round"/>
<path d="M466.48 337.76q0.06 1.24 -0.1 2.47" stroke="#e4d4bc" stroke-width="0.33" fill="none" stroke-linecap="round"/>
<path d="M464.1 313.56q0.11 0.71 0.04 1.43" stroke="#e4d4bc" stroke-width="0.53" fill="none" stroke-linecap="round"/>
<path d="M464.37 317.45q1.21 0.15 2.23 0.84" stroke="#c8b090" stroke-width="0.42" fill="none" stroke-linecap="round"/>
<path d="M458.7 321.51q-0.5 0.75 -0.4 1.64" stroke="#e4d4bc" stroke-width="0.33" fill="none" stroke-linecap="round"/>
<path d="M484.15 326.89q0.91 0.31 1.56 1.03" stroke="#f0e6d6" stroke-width="0.37" fill="none" stroke-linecap="round"/>
<path d="M479.23 342.79q0.58 0.13 1.03 0.52" stroke="#f0e6d6" stroke-width="0.41" fill="none" stroke-linecap="round"/>
<path d="M480.38 313.38q-0.93 0.86 -2.19 0.73" stroke="#e4d4bc" stroke-width="0.43" fill="none" stroke-linecap="round"/>
<path d="M481.94 320.39q-0.48 0.88 -1.42 1.2" stroke="#f0e6d6" stroke-width="0.57" fill="none" stroke-linecap="round"/>
<path d="M458.9 322.27q-1 0.32 -1.44 1.27" stroke="#e4d4bc" stroke-width="0.32" fill="none" stroke-linecap="round"/>
<path d="M475.37 311.15q0.24 0.61 0.13 1.25" stroke="#e4d4bc" stroke-width="0.43" fill="none" stroke-linecap="round"/>
<path d="M463.16 321.75q-0.8 0.49 -1.46 1.16" stroke="#e4d4bc" stroke-width="0.43" fill="none" stroke-linecap="round"/>
<path d="M480.61 310.91q-0.91 0.75 -1.1 1.91" stroke="#e4d4bc" stroke-width="0.33" fill="none" stroke-linecap="round"/>
<path d="M464.55 334.9q0.51 0.95 1.57 1.13" stroke="#e4d4bc" stroke-width="0.32" fill="none" stroke-linecap="round"/>
<path d="M460.44 323.82q-0.06 1.02 0.21 2.01" stroke="#f0e6d6" stroke-width="0.49" fill="none" stroke-linecap="round"/>
<path d="M479.85 315.73q1.23 0.44 2.37 1.06" stroke="#f0e6d6" stroke-width="0.37" fill="none" stroke-linecap="round"/>
<circle cx="471.94" cy="329.75" r="0.57" fill="#180c06"/>
<circle cx="449.25" cy="316.49" r="1.08" fill="#180c06"/>
<circle cx="453.31" cy="336.88" r="0.88" fill="#22120a"/>
<circle cx="483.43" cy="341.12" r="0.88" fill="#22120a"/>
<circle cx="450.17" cy="341.99" r="1.06" fill="#180c06"/>
<circle cx="473.48" cy="331.01" r="1.08" fill="#22120a"/>
<circle cx="462.32" cy="322.9" r="0.73" fill="#180c06"/>
<circle cx="457.18" cy="312.15" r="0.89" fill="#22120a"/>
<circle cx="465.67" cy="318.92" r="0.51" fill="#22120a"/>
<circle cx="483.78" cy="339.09" r="0.83" fill="#22120a"/>
<circle cx="449.19" cy="324.09" r="0.93" fill="#180c06"/>
<circle cx="461.88" cy="326.61" r="1.01" fill="#22120a"/>
<circle cx="468.22" cy="327.29" r="0.84" fill="#180c06"/>
<circle cx="446.9" cy="324.43" r="0.72" fill="#22120a"/>
<circle cx="470.3" cy="323.77" r="1.09" fill="#22120a"/>
<circle cx="485.2" cy="329.1" r="0.99" fill="#180c06"/>
<circle cx="450.26" cy="331.15" r="1.02" fill="#22120a"/>
<circle cx="467.25" cy="312.38" r="0.54" fill="#22120a"/>
</g>
<rect x="457.6" y="334.6" width="15.8" height="7" fill="#fff"/>
<text x="461.62" y="339.1" font-size="2.9" class="s" textLength="7.75" lengthAdjust="spacingAndGlyphs">Fungi</text>
<clipPath id="c_grape"><rect x="494.8" y="311.1" width="42.9" height="31.2"/></clipPath><g clip-path="url(#c_grape)">
<rect x="494.8" y="311.1" width="42.9" height="31.2" fill="#b3ac34"/>
<ellipse cx="499.06" cy="317.49" rx="3.07" ry="1.7" fill="#c0b838" transform="rotate(84.44 499.06 317.49)"/>
<ellipse cx="530.97" cy="326.06" rx="2.62" ry="1.46" fill="#cec644" transform="rotate(16.75 530.97 326.06)"/>
<ellipse cx="523.8" cy="317.25" rx="3.24" ry="1.8" fill="#d3cc4c" transform="rotate(99.4 523.8 317.25)"/>
<ellipse cx="513.88" cy="323.38" rx="3.28" ry="1.82" fill="#dcd560" transform="rotate(54.95 513.88 323.38)"/>
<ellipse cx="528.05" cy="335.2" rx="3.28" ry="1.82" fill="#bcb02c" transform="rotate(52.41 528.05 335.2)"/>
<ellipse cx="508.58" cy="321.02" rx="3.18" ry="1.76" fill="#cec644" transform="rotate(55.7 508.58 321.02)"/>
<ellipse cx="504.77" cy="332.12" rx="2.89" ry="1.6" fill="#d3cc4c" transform="rotate(32.53 504.77 332.12)"/>
<ellipse cx="530.77" cy="321.16" rx="2.39" ry="1.33" fill="#a8a82c" transform="rotate(27.55 530.77 321.16)"/>
<ellipse cx="497.37" cy="340.76" rx="2.41" ry="1.34" fill="#e4dc72" transform="rotate(61.68 497.37 340.76)"/>
<ellipse cx="499.95" cy="316.97" rx="2.84" ry="1.58" fill="#a8a82c" transform="rotate(156.2 499.95 316.97)"/>
<ellipse cx="527.39" cy="311.88" rx="2.6" ry="1.44" fill="#d3cc4c" transform="rotate(6.28 527.39 311.88)"/>
<ellipse cx="511.2" cy="337.37" rx="2.57" ry="1.43" fill="#b4b030" transform="rotate(88.4 511.2 337.37)"/>
<ellipse cx="525.3" cy="319.64" rx="3.34" ry="1.86" fill="#dcd560" transform="rotate(154.81 525.3 319.64)"/>
<ellipse cx="516.45" cy="338.08" rx="2.64" ry="1.47" fill="#d3cc4c" transform="rotate(83.47 516.45 338.08)"/>
<ellipse cx="506.86" cy="327.38" rx="3.41" ry="1.89" fill="#c8bc38" transform="rotate(37.6 506.86 327.38)"/>
<ellipse cx="534.89" cy="337.66" rx="2.89" ry="1.61" fill="#cec644" transform="rotate(14.42 534.89 337.66)"/>
<ellipse cx="518.71" cy="324.47" rx="2.37" ry="1.31" fill="#bcb02c" transform="rotate(98.15 518.71 324.47)"/>
<ellipse cx="503.67" cy="315.89" rx="3.12" ry="1.73" fill="#e4dc72" transform="rotate(63.36 503.67 315.89)"/>
<ellipse cx="504.06" cy="325.19" rx="2.73" ry="1.52" fill="#bcb02c" transform="rotate(142.61 504.06 325.19)"/>
<ellipse cx="531.6" cy="328.11" rx="2.92" ry="1.62" fill="#d3cc4c" transform="rotate(46.5 531.6 328.11)"/>
<ellipse cx="515.11" cy="333.04" rx="2.65" ry="1.47" fill="#b4b030" transform="rotate(69.02 515.11 333.04)"/>
<ellipse cx="523.48" cy="332.97" rx="2.48" ry="1.38" fill="#bcb02c" transform="rotate(90.26 523.48 332.97)"/>
<ellipse cx="498.19" cy="336.22" rx="2.49" ry="1.38" fill="#a8a82c" transform="rotate(13.71 498.19 336.22)"/>
<ellipse cx="508.22" cy="338.79" rx="3.23" ry="1.79" fill="#cec644" transform="rotate(79.26 508.22 338.79)"/>
<ellipse cx="530.88" cy="311.8" rx="2.42" ry="1.34" fill="#c8bc38" transform="rotate(14.75 530.88 311.8)"/>
<ellipse cx="518.91" cy="341.46" rx="2.34" ry="1.3" fill="#b4b030" transform="rotate(32.32 518.91 341.46)"/>
<ellipse cx="510.49" cy="334.1" rx="3.21" ry="1.78" fill="#d3cc4c" transform="rotate(25.19 510.49 334.1)"/>
<ellipse cx="523.07" cy="313.92" rx="2.35" ry="1.31" fill="#cec644" transform="rotate(126.02 523.07 313.92)"/>
<ellipse cx="532.19" cy="325.61" rx="2.79" ry="1.55" fill="#e4dc72" transform="rotate(85 532.19 325.61)"/>
<ellipse cx="508.88" cy="328.56" rx="2.48" ry="1.38" fill="#c0b838" transform="rotate(173.71 508.88 328.56)"/>
<ellipse cx="502.57" cy="328.33" rx="2.86" ry="1.59" fill="#d3cc4c" transform="rotate(24.72 502.57 328.33)"/>
<ellipse cx="516.8" cy="330.12" rx="2.51" ry="1.4" fill="#d3cc4c" transform="rotate(113.12 516.8 330.12)"/>
<ellipse cx="524.72" cy="341.42" rx="3.37" ry="1.87" fill="#c0b838" transform="rotate(15.39 524.72 341.42)"/>
<ellipse cx="517.74" cy="331.72" rx="3.08" ry="1.71" fill="#b4b030" transform="rotate(118.11 517.74 331.72)"/>
<ellipse cx="520.52" cy="319.58" rx="2.41" ry="1.34" fill="#e4dc72" transform="rotate(106.96 520.52 319.58)"/>
<ellipse cx="531.86" cy="317.95" rx="2.68" ry="1.49" fill="#cec644" transform="rotate(39.94 531.86 317.95)"/>
<ellipse cx="536.33" cy="340.32" rx="2.44" ry="1.35" fill="#b4b030" transform="rotate(15.22 536.33 340.32)"/>
<ellipse cx="501.97" cy="334.05" rx="2.71" ry="1.51" fill="#c0b838" transform="rotate(58.67 501.97 334.05)"/>
<ellipse cx="519.83" cy="313.41" rx="2.95" ry="1.64" fill="#dcd560" transform="rotate(152.91 519.83 313.41)"/>
<ellipse cx="508.97" cy="331.35" rx="3.36" ry="1.87" fill="#d3cc4c" transform="rotate(159.79 508.97 331.35)"/>
<ellipse cx="507.62" cy="320.82" rx="3.07" ry="1.7" fill="#b4b030" transform="rotate(71.37 507.62 320.82)"/>
<ellipse cx="514.53" cy="312.62" rx="2.73" ry="1.51" fill="#b4b030" transform="rotate(48.01 514.53 312.62)"/>
<ellipse cx="524.98" cy="336.28" rx="3.33" ry="1.85" fill="#a8a82c" transform="rotate(13.3 524.98 336.28)"/>
<ellipse cx="516.52" cy="341.62" rx="2.66" ry="1.48" fill="#cec644" transform="rotate(13.16 516.52 341.62)"/>
<ellipse cx="526.31" cy="327.68" rx="3.31" ry="1.84" fill="#dcd560" transform="rotate(87.39 526.31 327.68)"/>
<ellipse cx="506.91" cy="337.58" rx="3.37" ry="1.87" fill="#c8bc38" transform="rotate(80.97 506.91 337.58)"/>
<ellipse cx="526.8" cy="332.26" rx="2.82" ry="1.56" fill="#bcb02c" transform="rotate(20.46 526.8 332.26)"/>
<ellipse cx="512.47" cy="328.68" rx="2.98" ry="1.65" fill="#a8a82c" transform="rotate(154.18 512.47 328.68)"/>
<ellipse cx="535.24" cy="327.02" rx="3.35" ry="1.86" fill="#bcb02c" transform="rotate(114.92 535.24 327.02)"/>
<ellipse cx="513.33" cy="320.99" rx="2.64" ry="1.47" fill="#cec644" transform="rotate(170.84 513.33 320.99)"/>
<ellipse cx="521.05" cy="336.7" rx="2.67" ry="1.48" fill="#e4dc72" transform="rotate(165.03 521.05 336.7)"/>
<ellipse cx="527.56" cy="320.2" rx="2.96" ry="1.64" fill="#a8a82c" transform="rotate(3.6 527.56 320.2)"/>
<ellipse cx="529.19" cy="333.25" rx="2.37" ry="1.32" fill="#e4dc72" transform="rotate(145.83 529.19 333.25)"/>
<ellipse cx="533.25" cy="331.94" rx="2.47" ry="1.37" fill="#bcb02c" transform="rotate(67.41 533.25 331.94)"/>
<ellipse cx="511.5" cy="317.16" rx="2.5" ry="1.39" fill="#c0b838" transform="rotate(110.39 511.5 317.16)"/>
<ellipse cx="500.61" cy="325.58" rx="3.42" ry="1.9" fill="#d3cc4c" transform="rotate(1.21 500.61 325.58)"/>
<ellipse cx="521.57" cy="339.09" rx="3.04" ry="1.69" fill="#c0b838" transform="rotate(175.92 521.57 339.09)"/>
<ellipse cx="494.68" cy="314.3" rx="3.36" ry="1.87" fill="#b4b030" transform="rotate(29.54 494.68 314.3)"/>
<ellipse cx="507.56" cy="314.59" rx="2.37" ry="1.32" fill="#e4dc72" transform="rotate(135.29 507.56 314.59)"/>
<ellipse cx="494.45" cy="337.12" rx="2.81" ry="1.56" fill="#d3cc4c" transform="rotate(136.75 494.45 337.12)"/>
<ellipse cx="498.11" cy="320.1" rx="3.12" ry="1.74" fill="#c0b838" transform="rotate(34.95 498.11 320.1)"/>
<ellipse cx="507.57" cy="315.35" rx="2.54" ry="1.41" fill="#e4dc72" transform="rotate(59.12 507.57 315.35)"/>
<ellipse cx="503.66" cy="336.92" rx="2.95" ry="1.64" fill="#b4b030" transform="rotate(142.77 503.66 336.92)"/>
<ellipse cx="515.97" cy="312.94" rx="2.76" ry="1.53" fill="#e4dc72" transform="rotate(70.27 515.97 312.94)"/>
<ellipse cx="536.34" cy="321.88" rx="2.99" ry="1.66" fill="#c8bc38" transform="rotate(131.52 536.34 321.88)"/>
<ellipse cx="502.54" cy="320.29" rx="3.16" ry="1.75" fill="#e4dc72" transform="rotate(144.42 502.54 320.29)"/>
<ellipse cx="525.02" cy="327.65" rx="2.38" ry="1.32" fill="#e4dc72" transform="rotate(102.87 525.02 327.65)"/>
<ellipse cx="495.5" cy="320.13" rx="2.89" ry="1.6" fill="#d3cc4c" transform="rotate(30.35 495.5 320.13)"/>
<ellipse cx="518.07" cy="316.65" rx="2.56" ry="1.42" fill="#e4dc72" transform="rotate(76.72 518.07 316.65)"/>
<ellipse cx="512.15" cy="341.65" rx="2.68" ry="1.49" fill="#bcb02c" transform="rotate(12.98 512.15 341.65)"/>
<ellipse cx="534.61" cy="340.37" rx="3.18" ry="1.77" fill="#dcd560" transform="rotate(49.39 534.61 340.37)"/>
<ellipse cx="514.11" cy="337.72" rx="2.9" ry="1.61" fill="#c8bc38" transform="rotate(129.18 514.11 337.72)"/>
<ellipse cx="501.53" cy="339.25" rx="3.19" ry="1.77" fill="#d3cc4c" transform="rotate(61.91 501.53 339.25)"/>
<ellipse cx="531.13" cy="338.06" rx="2.54" ry="1.41" fill="#d3cc4c" transform="rotate(139.45 531.13 338.06)"/>
<ellipse cx="537.79" cy="318.25" rx="2.79" ry="1.55" fill="#b4b030" transform="rotate(89.35 537.79 318.25)"/>
<ellipse cx="527.61" cy="326.43" rx="2.73" ry="1.52" fill="#dcd560" transform="rotate(120.97 527.61 326.43)"/>
<ellipse cx="501.91" cy="314.27" rx="3.31" ry="1.84" fill="#bcb02c" transform="rotate(125.5 501.91 314.27)"/>
<ellipse cx="500.12" cy="327.58" rx="2.67" ry="1.48" fill="#bcb02c" transform="rotate(82.19 500.12 327.58)"/>
<ellipse cx="516.07" cy="318.15" rx="2.84" ry="1.58" fill="#dcd560" transform="rotate(172.39 516.07 318.15)"/>
<ellipse cx="495.61" cy="326.93" rx="3.17" ry="1.76" fill="#c8bc38" transform="rotate(52.85 495.61 326.93)"/>
<ellipse cx="533.53" cy="311.52" rx="2.53" ry="1.4" fill="#a8a82c" transform="rotate(98.76 533.53 311.52)"/>
<ellipse cx="537.36" cy="324.05" rx="3.12" ry="1.73" fill="#a8a82c" transform="rotate(75.83 537.36 324.05)"/>
<ellipse cx="496.85" cy="334.07" rx="2.36" ry="1.31" fill="#e4dc72" transform="rotate(69.48 496.85 334.07)"/>
<ellipse cx="498.05" cy="323.83" rx="3.15" ry="1.75" fill="#a8a82c" transform="rotate(27.76 498.05 323.83)"/>
<ellipse cx="529.26" cy="317.09" rx="2.51" ry="1.39" fill="#b4b030" transform="rotate(58.74 529.26 317.09)"/>
<ellipse cx="499.24" cy="313.07" rx="2.92" ry="1.62" fill="#c0b838" transform="rotate(56.37 499.24 313.07)"/>
<ellipse cx="508.73" cy="313.26" rx="3.17" ry="1.76" fill="#c0b838" transform="rotate(169.12 508.73 313.26)"/>
<ellipse cx="536.41" cy="334.05" rx="2.39" ry="1.33" fill="#a8a82c" transform="rotate(162.92 536.41 334.05)"/>
<ellipse cx="506.94" cy="323.08" rx="2.75" ry="1.53" fill="#e4dc72" transform="rotate(20.61 506.94 323.08)"/>
<ellipse cx="517.8" cy="320.35" rx="2.44" ry="1.36" fill="#bcb02c" transform="rotate(125.14 517.8 320.35)"/>
<ellipse cx="512.88" cy="323.66" rx="3.1" ry="1.72" fill="#dcd560" transform="rotate(87.97 512.88 323.66)"/>
<ellipse cx="524.79" cy="316.6" rx="2.67" ry="1.48" fill="#d3cc4c" transform="rotate(119.51 524.79 316.6)"/>
<ellipse cx="530.43" cy="341.37" rx="3.23" ry="1.8" fill="#a8a82c" transform="rotate(174.93 530.43 341.37)"/>
<ellipse cx="503.43" cy="340.79" rx="2.94" ry="1.63" fill="#d3cc4c" transform="rotate(44.11 503.43 340.79)"/>
<ellipse cx="522.42" cy="325.18" rx="2.96" ry="1.64" fill="#cec644" transform="rotate(175.45 522.42 325.18)"/>
<ellipse cx="519.85" cy="327.8" rx="2.53" ry="1.4" fill="#c0b838" transform="rotate(122.71 519.85 327.8)"/>
<ellipse cx="513.07" cy="323.94" rx="0.77" ry="0.39" fill="#e4dc78" transform="rotate(10.24 513.07 323.94)"/>
<ellipse cx="494.8" cy="337.03" rx="0.84" ry="0.42" fill="#ece68e" transform="rotate(125.63 494.8 337.03)"/>
<ellipse cx="499.89" cy="333.47" rx="0.69" ry="0.34" fill="#e4dc78" transform="rotate(156.39 499.89 333.47)"/>
<ellipse cx="506.52" cy="325.49" rx="0.71" ry="0.35" fill="#e4dc78" transform="rotate(99.87 506.52 325.49)"/>
<ellipse cx="521.78" cy="322.25" rx="0.8" ry="0.4" fill="#e4dc78" transform="rotate(122.13 521.78 322.25)"/>
<ellipse cx="514.35" cy="338.97" rx="0.82" ry="0.41" fill="#f0eaa0" transform="rotate(98.31 514.35 338.97)"/>
<ellipse cx="530.65" cy="340.21" rx="1.12" ry="0.56" fill="#f0eaa0" transform="rotate(97.18 530.65 340.21)"/>
<ellipse cx="535.63" cy="313.74" rx="0.71" ry="0.35" fill="#ece68e" transform="rotate(91.99 535.63 313.74)"/>
<ellipse cx="513.05" cy="331.82" rx="1.08" ry="0.54" fill="#e4dc78" transform="rotate(34.99 513.05 331.82)"/>
<ellipse cx="533.97" cy="336.61" rx="1.12" ry="0.56" fill="#ece68e" transform="rotate(172.08 533.97 336.61)"/>
<ellipse cx="514.51" cy="333.13" rx="0.87" ry="0.43" fill="#e4dc78" transform="rotate(26.41 514.51 333.13)"/>
<ellipse cx="522.51" cy="341.69" rx="0.65" ry="0.33" fill="#e4dc78" transform="rotate(74.41 522.51 341.69)"/>
<ellipse cx="530.4" cy="326.22" rx="1.07" ry="0.54" fill="#e4dc78" transform="rotate(130.43 530.4 326.22)"/>
<ellipse cx="523.53" cy="313.75" rx="0.9" ry="0.45" fill="#ece68e" transform="rotate(104.11 523.53 313.75)"/>
<ellipse cx="509.65" cy="334.68" rx="1.16" ry="0.58" fill="#ece68e" transform="rotate(170.99 509.65 334.68)"/>
<ellipse cx="532.78" cy="321.5" rx="0.7" ry="0.35" fill="#e4dc78" transform="rotate(52.33 532.78 321.5)"/>
<ellipse cx="506.81" cy="322.5" rx="0.61" ry="0.3" fill="#e4dc78" transform="rotate(70.92 506.81 322.5)"/>
<ellipse cx="508.91" cy="312.97" rx="0.77" ry="0.38" fill="#f0eaa0" transform="rotate(68.92 508.91 312.97)"/>
<ellipse cx="533.59" cy="320.36" rx="1.08" ry="0.54" fill="#e4dc78" transform="rotate(108.91 533.59 320.36)"/>
<ellipse cx="520.48" cy="316.01" rx="1.02" ry="0.51" fill="#ece68e" transform="rotate(164.56 520.48 316.01)"/>
<ellipse cx="534.4" cy="323.24" rx="0.67" ry="0.33" fill="#ece68e" transform="rotate(34.93 534.4 323.24)"/>
<ellipse cx="527.27" cy="326.44" rx="1.04" ry="0.52" fill="#ece68e" transform="rotate(75.94 527.27 326.44)"/>
<ellipse cx="534.98" cy="311.83" rx="0.62" ry="0.31" fill="#f0eaa0" transform="rotate(92.34 534.98 311.83)"/>
<ellipse cx="502" cy="321.28" rx="0.7" ry="0.35" fill="#e4dc78" transform="rotate(175.19 502 321.28)"/>
<ellipse cx="529.41" cy="314.35" rx="0.81" ry="0.4" fill="#e4dc78" transform="rotate(92.1 529.41 314.35)"/>
<ellipse cx="501.84" cy="328.08" rx="0.97" ry="0.48" fill="#ece68e" transform="rotate(157.12 501.84 328.08)"/>
<ellipse cx="510.43" cy="312.43" rx="1.14" ry="0.57" fill="#ece68e" transform="rotate(158.74 510.43 312.43)"/>
<ellipse cx="532.45" cy="319.66" rx="0.77" ry="0.39" fill="#f0eaa0" transform="rotate(68.9 532.45 319.66)"/>
<ellipse cx="530.63" cy="321.21" rx="0.68" ry="0.34" fill="#e4dc78" transform="rotate(161.26 530.63 321.21)"/>
<ellipse cx="527.22" cy="325.84" rx="0.8" ry="0.4" fill="#ece68e" transform="rotate(114.82 527.22 325.84)"/>
<ellipse cx="513.78" cy="324.66" rx="0.83" ry="0.41" fill="#ece68e" transform="rotate(55.46 513.78 324.66)"/>
<ellipse cx="497.29" cy="336.22" rx="0.74" ry="0.37" fill="#ece68e" transform="rotate(166.48 497.29 336.22)"/>
<ellipse cx="519.95" cy="323.97" rx="0.97" ry="0.48" fill="#e4dc78" transform="rotate(111.14 519.95 323.97)"/>
<ellipse cx="512.99" cy="333.14" rx="1.02" ry="0.51" fill="#ece68e" transform="rotate(13.04 512.99 333.14)"/>
<ellipse cx="497.33" cy="331.1" rx="1.03" ry="0.52" fill="#ece68e" transform="rotate(54.91 497.33 331.1)"/>
<ellipse cx="518.2" cy="328.19" rx="1.16" ry="0.58" fill="#f0eaa0" transform="rotate(157.2 518.2 328.19)"/>
<ellipse cx="496.72" cy="322.95" rx="1.08" ry="0.54" fill="#f0eaa0" transform="rotate(162.16 496.72 322.95)"/>
<ellipse cx="519.48" cy="330.41" rx="0.65" ry="0.33" fill="#e4dc78" transform="rotate(121.59 519.48 330.41)"/>
<ellipse cx="500.11" cy="328.16" rx="0.9" ry="0.45" fill="#ece68e" transform="rotate(25.14 500.11 328.16)"/>
<ellipse cx="497.62" cy="338.47" rx="0.63" ry="0.31" fill="#f0eaa0" transform="rotate(157.1 497.62 338.47)"/>
<ellipse cx="516.05" cy="328.31" rx="0.78" ry="0.39" fill="#6a6e16" transform="rotate(84.09 516.05 328.31)"/>
<ellipse cx="499.28" cy="311.9" rx="0.75" ry="0.37" fill="#6a6e16" transform="rotate(152.51 499.28 311.9)"/>
<ellipse cx="523.37" cy="318.41" rx="0.94" ry="0.47" fill="#6a6e16" transform="rotate(82.77 523.37 318.41)"/>
<ellipse cx="506.73" cy="340.04" rx="0.72" ry="0.36" fill="#6a6e16" transform="rotate(78.64 506.73 340.04)"/>
<ellipse cx="523.15" cy="337.23" rx="1.3" ry="0.65" fill="#6a6e16" transform="rotate(120.34 523.15 337.23)"/>
<ellipse cx="515.2" cy="325.68" rx="1.07" ry="0.53" fill="#78761a" transform="rotate(44.66 515.2 325.68)"/>
<ellipse cx="510.24" cy="338.73" rx="0.65" ry="0.32" fill="#78761a" transform="rotate(140.93 510.24 338.73)"/>
<ellipse cx="527.1" cy="312.03" rx="0.76" ry="0.38" fill="#5c6012" transform="rotate(82.92 527.1 312.03)"/>
<ellipse cx="503.62" cy="317.9" rx="1.39" ry="0.69" fill="#6a6e16" transform="rotate(18.55 503.62 317.9)"/>
<ellipse cx="516.46" cy="341.47" rx="1.28" ry="0.64" fill="#78761a" transform="rotate(57.62 516.46 341.47)"/>
<ellipse cx="534.14" cy="321.66" rx="0.9" ry="0.45" fill="#78761a" transform="rotate(25.26 534.14 321.66)"/>
<ellipse cx="495.76" cy="325.54" rx="1.13" ry="0.57" fill="#5c6012" transform="rotate(140.55 495.76 325.54)"/>
<ellipse cx="533.89" cy="335.38" rx="0.76" ry="0.38" fill="#78761a" transform="rotate(112.62 533.89 335.38)"/>
<ellipse cx="501.88" cy="322.8" rx="0.99" ry="0.49" fill="#78761a" transform="rotate(65.27 501.88 322.8)"/>
<ellipse cx="501.97" cy="334.34" rx="0.94" ry="0.47" fill="#5c6012" transform="rotate(140.32 501.97 334.34)"/>
<ellipse cx="521.74" cy="338.42" rx="1.23" ry="0.62" fill="#6a6e16" transform="rotate(2.68 521.74 338.42)"/>
<ellipse cx="508.45" cy="323.78" rx="1.32" ry="0.66" fill="#6a6e16" transform="rotate(27.17 508.45 323.78)"/>
<ellipse cx="520.71" cy="335.85" rx="1.3" ry="0.65" fill="#78761a" transform="rotate(33.44 520.71 335.85)"/>
<ellipse cx="501.77" cy="331.5" rx="1.29" ry="0.64" fill="#78761a" transform="rotate(10.22 501.77 331.5)"/>
<ellipse cx="503.15" cy="338.56" rx="0.87" ry="0.43" fill="#78761a" transform="rotate(63.35 503.15 338.56)"/>
<ellipse cx="512.35" cy="333.24" rx="1.08" ry="0.54" fill="#6a6e16" transform="rotate(176.72 512.35 333.24)"/>
<ellipse cx="495.69" cy="334.08" rx="1.36" ry="0.68" fill="#6a6e16" transform="rotate(106.43 495.69 334.08)"/>
<ellipse cx="502.02" cy="330.02" rx="1.13" ry="0.56" fill="#6a6e16" transform="rotate(126.91 502.02 330.02)"/>
<ellipse cx="497.51" cy="337.91" rx="0.65" ry="0.33" fill="#5c6012" transform="rotate(65.19 497.51 337.91)"/>
<ellipse cx="532.38" cy="318.69" rx="0.73" ry="0.37" fill="#5c6012" transform="rotate(69.13 532.38 318.69)"/>
<ellipse cx="533.35" cy="315.34" rx="0.97" ry="0.48" fill="#78761a" transform="rotate(144.35 533.35 315.34)"/>
<ellipse cx="496.47" cy="334.09" rx="0.91" ry="0.46" fill="#6a6e16" transform="rotate(36.98 496.47 334.09)"/>
<ellipse cx="507.72" cy="315.32" rx="0.78" ry="0.39" fill="#78761a" transform="rotate(24.57 507.72 315.32)"/>
<ellipse cx="518.3" cy="314.73" rx="0.97" ry="0.48" fill="#5c6012" transform="rotate(109.62 518.3 314.73)"/>
<ellipse cx="529.4" cy="334.24" rx="0.79" ry="0.4" fill="#78761a" transform="rotate(50.56 529.4 334.24)"/>
<ellipse cx="521.45" cy="330.59" rx="1.27" ry="0.63" fill="#6a6e16" transform="rotate(164.76 521.45 330.59)"/>
<ellipse cx="509.35" cy="311.33" rx="1.18" ry="0.59" fill="#5c6012" transform="rotate(125.45 509.35 311.33)"/>
<ellipse cx="506.24" cy="313.33" rx="1.3" ry="0.65" fill="#5c6012" transform="rotate(17.6 506.24 313.33)"/>
<ellipse cx="510.1" cy="328.89" rx="0.65" ry="0.32" fill="#5c6012" transform="rotate(152.88 510.1 328.89)"/>
<ellipse cx="507.09" cy="324.2" rx="1.28" ry="0.64" fill="#5c6012" transform="rotate(141.69 507.09 324.2)"/>
<ellipse cx="515.88" cy="324.65" rx="0.94" ry="0.47" fill="#5c6012" transform="rotate(138.66 515.88 324.65)"/>
<ellipse cx="516.98" cy="320.19" rx="1.08" ry="0.54" fill="#6a6e16" transform="rotate(151.41 516.98 320.19)"/>
<ellipse cx="523.41" cy="334.51" rx="1.24" ry="0.62" fill="#6a6e16" transform="rotate(142.6 523.41 334.51)"/>
<ellipse cx="523.58" cy="326.39" rx="1.34" ry="0.67" fill="#78761a" transform="rotate(127.97 523.58 326.39)"/>
<ellipse cx="515.96" cy="336.72" rx="1.02" ry="0.51" fill="#6a6e16" transform="rotate(87.5 515.96 336.72)"/>
</g>
<rect x="508.3" y="334.7" width="16.7" height="6.9" fill="#fff"/>
<text x="512.77" y="339.15" font-size="2.9" class="s" textLength="7.75" lengthAdjust="spacingAndGlyphs">Grape</text>
<clipPath id="c_boletus"><rect x="546.1" y="311.1" width="42.9" height="31.5"/></clipPath><g clip-path="url(#c_boletus)">
<rect x="546.1" y="311.1" width="42.9" height="31.5" fill="#a83c12"/>
<path d="M557.6 336.86q-0.05 2.18 1.87 3.22" stroke="#cc541e" stroke-width="0.89" fill="none" stroke-linecap="round"/>
<path d="M587.58 321.58q-1.03 2.64 -3.65 3.72" stroke="#f0943c" stroke-width="1.07" fill="none" stroke-linecap="round"/>
<path d="M587.46 342.07q1.38 1.27 3.15 0.65" stroke="#e87c30" stroke-width="0.72" fill="none" stroke-linecap="round"/>
<path d="M549.87 320.02q2.12 -0.99 3.75 0.7" stroke="#f0943c" stroke-width="0.93" fill="none" stroke-linecap="round"/>
<path d="M558.31 319.68q2.23 0.96 3.03 3.24" stroke="#de6c2c" stroke-width="0.71" fill="none" stroke-linecap="round"/>
<path d="M580.64 325.81q2.03 0.86 1.83 3.05" stroke="#b84214" stroke-width="0.85" fill="none" stroke-linecap="round"/>
<path d="M548.58 343.19q2.11 2.06 4.33 0.13" stroke="#d8601f" stroke-width="0.75" fill="none" stroke-linecap="round"/>
<path d="M569.95 329.04q-1.2 3.34 1.69 5.39" stroke="#f0a050" stroke-width="1.07" fill="none" stroke-linecap="round"/>
<path d="M565.68 321.14q2.46 1.97 1.34 4.91" stroke="#d8601f" stroke-width="0.77" fill="none" stroke-linecap="round"/>
<path d="M585.93 312.41q-2.39 1.48 -0.99 3.92" stroke="#cc541e" stroke-width="1.22" fill="none" stroke-linecap="round"/>
<path d="M558.51 324.27q1.87 0.65 3.44 1.87" stroke="#cc541e" stroke-width="0.86" fill="none" stroke-linecap="round"/>
<path d="M552.19 338.91q1.67 -0.62 2.51 0.95" stroke="#ea8a3a" stroke-width="0.99" fill="none" stroke-linecap="round"/>
<path d="M558.35 326.02q-1.01 2.47 -3.57 1.72" stroke="#de6c2c" stroke-width="1.29" fill="none" stroke-linecap="round"/>
<path d="M582.8 310.19q1.51 2.22 0.02 4.46" stroke="#b84214" stroke-width="0.93" fill="none" stroke-linecap="round"/>
<path d="M547.51 312.79q-0.16 3.16 -2.97 4.62" stroke="#f0a050" stroke-width="1.1" fill="none" stroke-linecap="round"/>
<path d="M565.66 311.66q2.69 2.66 0.15 5.47" stroke="#f0943c" stroke-width="1.07" fill="none" stroke-linecap="round"/>
<path d="M565.11 341.25q-1.94 2.43 -1.43 5.5" stroke="#de6c2c" stroke-width="0.95" fill="none" stroke-linecap="round"/>
<path d="M576.27 325.99q0.87 2.28 2.99 3.51" stroke="#ea8a3a" stroke-width="1" fill="none" stroke-linecap="round"/>
<path d="M584.64 335.42q3.43 -1.57 5.62 1.49" stroke="#e87c30" stroke-width="1.23" fill="none" stroke-linecap="round"/>
<path d="M558.73 339.98q2.82 -1.4 5.42 0.37" stroke="#b84214" stroke-width="0.87" fill="none" stroke-linecap="round"/>
<path d="M569.69 340.56q2.58 1.56 1.97 4.51" stroke="#cc541e" stroke-width="1.03" fill="none" stroke-linecap="round"/>
<path d="M580.14 321.91q-2.33 1.01 -1.67 3.46" stroke="#ea8a3a" stroke-width="0.75" fill="none" stroke-linecap="round"/>
<path d="M553.08 323.01q0.3 2.88 -1.73 4.93" stroke="#f0a050" stroke-width="1.18" fill="none" stroke-linecap="round"/>
<path d="M557.95 335.3q1.08 1.82 1.47 3.9" stroke="#f0943c" stroke-width="1.15" fill="none" stroke-linecap="round"/>
<path d="M560.69 312.05q-1.53 1.94 -1.67 4.41" stroke="#de6c2c" stroke-width="0.88" fill="none" stroke-linecap="round"/>
<path d="M585.52 321.96q-0.88 1.66 -2.76 1.55" stroke="#f0943c" stroke-width="1.03" fill="none" stroke-linecap="round"/>
<path d="M562.45 322.72q-1.33 3.56 -5 2.6" stroke="#b84214" stroke-width="0.91" fill="none" stroke-linecap="round"/>
<path d="M585.64 321.23q-2.03 -0.03 -3.81 0.95" stroke="#f0943c" stroke-width="0.83" fill="none" stroke-linecap="round"/>
<path d="M581.13 314.92q-1.37 1.31 -2.24 2.99" stroke="#ea8a3a" stroke-width="0.98" fill="none" stroke-linecap="round"/>
<path d="M583.53 323.73q1.01 2.95 -1.93 4.01" stroke="#cc541e" stroke-width="1.04" fill="none" stroke-linecap="round"/>
<path d="M578.46 336.32q-0.68 1.07 -1.23 2.21" stroke="#f0a050" stroke-width="1.18" fill="none" stroke-linecap="round"/>
<path d="M568.93 341.24q2.04 -0.5 3.97 0.31" stroke="#e87c30" stroke-width="1.26" fill="none" stroke-linecap="round"/>
<path d="M582.8 329.25q0.31 1.67 1.92 2.19" stroke="#de6c2c" stroke-width="0.97" fill="none" stroke-linecap="round"/>
<path d="M548.76 316.84q1.1 2.54 0.01 5.09" stroke="#e87c30" stroke-width="1.26" fill="none" stroke-linecap="round"/>
<path d="M585.61 335.64q-1.32 2.08 0.21 4" stroke="#ea8a3a" stroke-width="1.19" fill="none" stroke-linecap="round"/>
<path d="M581.97 328.83q-0.22 1.77 -1.37 3.14" stroke="#d8601f" stroke-width="0.99" fill="none" stroke-linecap="round"/>
<path d="M576.43 343.55q-1.56 2.71 -4.6 1.95" stroke="#e87c30" stroke-width="1.16" fill="none" stroke-linecap="round"/>
<path d="M574.97 321.77q-1.72 2.57 -4.74 3.22" stroke="#cc541e" stroke-width="0.88" fill="none" stroke-linecap="round"/>
<path d="M558.97 327.1q2.23 3.17 -0.77 5.63" stroke="#d8601f" stroke-width="1.14" fill="none" stroke-linecap="round"/>
<path d="M568.01 332.87q-0.58 1.16 -0.48 2.46" stroke="#e87c30" stroke-width="0.82" fill="none" stroke-linecap="round"/>
<path d="M583.78 342.44q-2.19 1.72 -2.36 4.5" stroke="#f0a050" stroke-width="1.02" fill="none" stroke-linecap="round"/>
<path d="M576.06 321.49q2.28 -0.13 2.45 2.14" stroke="#f0a050" stroke-width="0.8" fill="none" stroke-linecap="round"/>
<path d="M579.73 342.83q-2.15 1.46 -4.68 2.05" stroke="#de6c2c" stroke-width="1.09" fill="none" stroke-linecap="round"/>
<path d="M589.34 337.72q-2.24 2.04 -5.24 1.6" stroke="#ea8a3a" stroke-width="0.79" fill="none" stroke-linecap="round"/>
<path d="M584.27 343.06q2.49 -1.03 4.58 0.68" stroke="#b84214" stroke-width="1.06" fill="none" stroke-linecap="round"/>
<path d="M576.03 327.11q2.45 0.58 2.74 3.08" stroke="#e87c30" stroke-width="1.12" fill="none" stroke-linecap="round"/>
<path d="M576.23 310.21q0.73 1.74 2.4 2.6" stroke="#d8601f" stroke-width="0.81" fill="none" stroke-linecap="round"/>
<path d="M585.68 341.62q2.68 1.13 5.56 0.73" stroke="#f0943c" stroke-width="0.79" fill="none" stroke-linecap="round"/>
<path d="M561.52 334.87q1.31 2.59 4.12 1.86" stroke="#e87c30" stroke-width="0.91" fill="none" stroke-linecap="round"/>
<path d="M548.85 341.81q1.11 1.06 1.59 2.51" stroke="#e87c30" stroke-width="1.18" fill="none" stroke-linecap="round"/>
<path d="M547.64 336.81q2.73 0.79 3.22 3.58" stroke="#de6c2c" stroke-width="1.16" fill="none" stroke-linecap="round"/>
<path d="M562.61 325.89q0.07 1.6 -0.77 2.97" stroke="#f0943c" stroke-width="1.19" fill="none" stroke-linecap="round"/>
<path d="M569.32 319.8q2.15 -0.4 2.72 1.71" stroke="#ea8a3a" stroke-width="1.29" fill="none" stroke-linecap="round"/>
<path d="M549.53 339.98q-0.44 3.14 -3.14 4.81" stroke="#cc541e" stroke-width="0.83" fill="none" stroke-linecap="round"/>
<path d="M546.68 331.48q0.76 2.51 1.94 4.85" stroke="#f0943c" stroke-width="1.27" fill="none" stroke-linecap="round"/>
<path d="M576.86 327.81q1.48 0.12 2.9 0.51" stroke="#d8601f" stroke-width="1.21" fill="none" stroke-linecap="round"/>
<path d="M576.57 338.01q0.87 1.59 -0.25 3.01" stroke="#f0943c" stroke-width="1.29" fill="none" stroke-linecap="round"/>
<path d="M552.92 340.73q2.77 1.72 3.18 4.95" stroke="#f0943c" stroke-width="1.02" fill="none" stroke-linecap="round"/>
<path d="M549.54 325.75q-2.23 0.7 -2.44 3.03" stroke="#ea8a3a" stroke-width="1.04" fill="none" stroke-linecap="round"/>
<path d="M574.74 310.16q1.62 1.88 4.1 1.99" stroke="#cc541e" stroke-width="0.9" fill="none" stroke-linecap="round"/>
<path d="M560.87 339.1q1.5 1.62 3.71 1.74" stroke="#cc541e" stroke-width="0.83" fill="none" stroke-linecap="round"/>
<path d="M574.68 318.21q-2.88 -0.61 -3.99 2.11" stroke="#b84214" stroke-width="0.94" fill="none" stroke-linecap="round"/>
<path d="M584.29 329.94q-2.45 -0.28 -4.85 0.26" stroke="#b84214" stroke-width="0.73" fill="none" stroke-linecap="round"/>
<path d="M562.34 342.24q0.11 3.27 2.98 4.83" stroke="#de6c2c" stroke-width="1.03" fill="none" stroke-linecap="round"/>
<path d="M577.6 320.09q1.96 0.76 4.05 1.01" stroke="#b84214" stroke-width="1.01" fill="none" stroke-linecap="round"/>
<path d="M576.58 330.39q-2.65 1.09 -5.43 0.4" stroke="#f0943c" stroke-width="1.2" fill="none" stroke-linecap="round"/>
<path d="M551.93 337.23q-2.13 0.52 -3.49 2.24" stroke="#f0a050" stroke-width="0.97" fill="none" stroke-linecap="round"/>
<path d="M548.87 340.97q2.63 1.22 4.94 2.97" stroke="#f0943c" stroke-width="0.91" fill="none" stroke-linecap="round"/>
<path d="M582.33 327.09q0.05 1.91 0.97 3.59" stroke="#b84214" stroke-width="1.13" fill="none" stroke-linecap="round"/>
<path d="M578.77 338.41q0.87 2.3 3.3 2.7" stroke="#e87c30" stroke-width="0.85" fill="none" stroke-linecap="round"/>
<path d="M573.13 310.81q1.81 1.77 2.76 4.11" stroke="#e87c30" stroke-width="1.21" fill="none" stroke-linecap="round"/>
<path d="M572.01 312.2q2.04 1.27 4.26 0.35" stroke="#f0943c" stroke-width="0.96" fill="none" stroke-linecap="round"/>
<path d="M576.66 315.97q-2.91 1.36 -2.96 4.57" stroke="#f0943c" stroke-width="0.71" fill="none" stroke-linecap="round"/>
<path d="M547.14 332.56q1.54 2.09 4 2.88" stroke="#ea8a3a" stroke-width="1.09" fill="none" stroke-linecap="round"/>
<path d="M548.92 321.35q-1.38 1.36 -3.23 0.81" stroke="#e87c30" stroke-width="0.92" fill="none" stroke-linecap="round"/>
<path d="M570.73 329.55q0.1 1.68 1.62 2.41" stroke="#cc541e" stroke-width="1.04" fill="none" stroke-linecap="round"/>
<path d="M577.68 335.52q-1.62 0.83 -3.29 0.11" stroke="#b84214" stroke-width="1.19" fill="none" stroke-linecap="round"/>
<path d="M568.6 320.53q-1.55 -0.02 -2.64 1.08" stroke="#d8601f" stroke-width="0.73" fill="none" stroke-linecap="round"/>
<path d="M581.59 333.14q-2.09 2.19 -2.56 5.17" stroke="#cc541e" stroke-width="0.82" fill="none" stroke-linecap="round"/>
<path d="M545.58 336.94q1.39 1.76 3.41 2.74" stroke="#de6c2c" stroke-width="0.82" fill="none" stroke-linecap="round"/>
<path d="M573.47 328.02q1.5 3.44 5.22 2.9" stroke="#f0a050" stroke-width="0.71" fill="none" stroke-linecap="round"/>
<path d="M562.1 330.49q-1.23 1.58 -0.65 3.49" stroke="#cc541e" stroke-width="1.07" fill="none" stroke-linecap="round"/>
<path d="M584.97 342.9q2.08 0.09 3.37 1.73" stroke="#f0a050" stroke-width="1.23" fill="none" stroke-linecap="round"/>
<path d="M581.96 324.95q1.31 2.26 0.86 4.84" stroke="#cc541e" stroke-width="0.84" fill="none" stroke-linecap="round"/>
<path d="M573.85 311.45q-1.23 2.8 -4.24 2.24" stroke="#f0943c" stroke-width="0.93" fill="none" stroke-linecap="round"/>
<path d="M545.14 329.45q-1.39 -0.43 -2.63 0.33" stroke="#e87c30" stroke-width="1.21" fill="none" stroke-linecap="round"/>
<path d="M572.83 337.44q-2.4 1.66 -2.32 4.58" stroke="#ea8a3a" stroke-width="1.05" fill="none" stroke-linecap="round"/>
<path d="M567.19 313.25q-0.29 2.17 -1.23 4.15" stroke="#f0943c" stroke-width="0.88" fill="none" stroke-linecap="round"/>
<path d="M557.52 343.32q1.03 1.63 2.96 1.64" stroke="#f0943c" stroke-width="1.26" fill="none" stroke-linecap="round"/>
<path d="M550.38 342.56q-2.2 -0.69 -2.99 1.47" stroke="#b84214" stroke-width="0.73" fill="none" stroke-linecap="round"/>
<path d="M573.74 319.21q-1.86 0.24 -1.92 2.12" stroke="#cc541e" stroke-width="1.05" fill="none" stroke-linecap="round"/>
<path d="M577.19 312.91q-0.8 2.22 -2.74 3.57" stroke="#f0a050" stroke-width="0.94" fill="none" stroke-linecap="round"/>
<path d="M574.27 338.99q-1.95 0.64 -1.37 2.6" stroke="#de6c2c" stroke-width="1.1" fill="none" stroke-linecap="round"/>
<path d="M584.28 326.2q-1.62 2.72 -4.59 3.79" stroke="#f0a050" stroke-width="1.19" fill="none" stroke-linecap="round"/>
<path d="M550.18 335.87q-0.44 1.95 0.78 3.53" stroke="#de6c2c" stroke-width="0.81" fill="none" stroke-linecap="round"/>
<path d="M557.3 322.96q2.75 -1.75 5.18 0.42" stroke="#cc541e" stroke-width="0.71" fill="none" stroke-linecap="round"/>
<path d="M583.44 336q1.55 1.59 0.35 3.46" stroke="#d8601f" stroke-width="1.19" fill="none" stroke-linecap="round"/>
<path d="M584.61 318.27q2.3 0.74 2.09 3.14" stroke="#de6c2c" stroke-width="1.11" fill="none" stroke-linecap="round"/>
<path d="M581.87 339.9q0.64 1.78 2.08 3.02" stroke="#e87c30" stroke-width="0.72" fill="none" stroke-linecap="round"/>
<path d="M552.61 333.69q2.7 0.1 5.4 0.17" stroke="#ea8a3a" stroke-width="1.06" fill="none" stroke-linecap="round"/>
<path d="M562.21 331.67q-1.29 0.45 -2.55 0.97" stroke="#e87c30" stroke-width="0.78" fill="none" stroke-linecap="round"/>
<path d="M568.66 318.14q2.72 2.47 0.62 5.49" stroke="#d8601f" stroke-width="1.06" fill="none" stroke-linecap="round"/>
<path d="M589.18 327.95q-2.77 -0.24 -4.92 1.52" stroke="#ea8a3a" stroke-width="1.05" fill="none" stroke-linecap="round"/>
<path d="M546.55 322.71q-1.1 1.46 -2.89 1.85" stroke="#ea8a3a" stroke-width="1" fill="none" stroke-linecap="round"/>
<path d="M548.94 318.76q1.85 0.46 2.93 2.04" stroke="#b84214" stroke-width="0.84" fill="none" stroke-linecap="round"/>
<path d="M560.11 315.36q-1.16 2.87 1.7 4.03" stroke="#f0943c" stroke-width="0.79" fill="none" stroke-linecap="round"/>
<path d="M575.69 341.38q-0.92 1.32 0.09 2.58" stroke="#e87c30" stroke-width="0.89" fill="none" stroke-linecap="round"/>
<path d="M588.33 333.51q1.73 1.25 1.32 3.34" stroke="#e87c30" stroke-width="1.1" fill="none" stroke-linecap="round"/>
<path d="M574.44 317.42q-2.19 0.41 -2.74 2.57" stroke="#f0a050" stroke-width="1.3" fill="none" stroke-linecap="round"/>
<path d="M585.12 327.94q-1.85 0.68 -2.47 2.55" stroke="#e87c30" stroke-width="1.24" fill="none" stroke-linecap="round"/>
<path d="M555.95 322.67q-2.24 0.44 -2.12 2.72" stroke="#f0943c" stroke-width="1.12" fill="none" stroke-linecap="round"/>
<path d="M567.78 315.05q2.34 1.41 4.31 3.3" stroke="#cc541e" stroke-width="0.81" fill="none" stroke-linecap="round"/>
<path d="M583.1 317.41q2.24 0.47 4.31 1.42" stroke="#f0a050" stroke-width="0.92" fill="none" stroke-linecap="round"/>
<path d="M571.29 317.98q-0.19 2.2 1.96 2.71" stroke="#f0943c" stroke-width="1.01" fill="none" stroke-linecap="round"/>
<path d="M561.88 339.88q1.54 0.55 3.17 0.63" stroke="#f0943c" stroke-width="0.82" fill="none" stroke-linecap="round"/>
<path d="M576.28 331.16q-1.68 0.52 -2.52 2.06" stroke="#e87c30" stroke-width="1.17" fill="none" stroke-linecap="round"/>
<path d="M582.97 324.09q0.69 2.29 1.95 4.33" stroke="#d8601f" stroke-width="0.78" fill="none" stroke-linecap="round"/>
<path d="M589.61 337.72q-2.57 1.84 -5.51 0.67" stroke="#e87c30" stroke-width="1.11" fill="none" stroke-linecap="round"/>
<path d="M547.86 313.28q-1.45 0.4 -2.46 1.53" stroke="#b84214" stroke-width="1.02" fill="none" stroke-linecap="round"/>
<path d="M582.93 314.6q-1.75 1.37 -3.03 3.19" stroke="#de6c2c" stroke-width="0.99" fill="none" stroke-linecap="round"/>
<path d="M565.83 320.65q-0.28 1.09 0.8 1.42" stroke="#f2ae6a" stroke-width="0.28" fill="none" stroke-linecap="round"/>
<path d="M545.26 326.21q0.29 0.58 0.74 1.05" stroke="#f9d8a8" stroke-width="0.34" fill="none" stroke-linecap="round"/>
<path d="M589.06 311.48q0.9 0.69 0.39 1.7" stroke="#f6c488" stroke-width="0.42" fill="none" stroke-linecap="round"/>
<path d="M569.96 335.97q0.78 0.65 1.78 0.87" stroke="#f2ae6a" stroke-width="0.28" fill="none" stroke-linecap="round"/>
<path d="M582.84 324.21q-1.67 0.41 -1.59 2.13" stroke="#f9d8a8" stroke-width="0.5" fill="none" stroke-linecap="round"/>
<path d="M587.85 319.3q-0.6 0.84 -1.59 0.56" stroke="#f9d8a8" stroke-width="0.3" fill="none" stroke-linecap="round"/>
<path d="M559.78 311.82q-1.57 -0.79 -2.46 0.73" stroke="#f2ae6a" stroke-width="0.38" fill="none" stroke-linecap="round"/>
<path d="M548.19 315.06q0.24 1.02 1.29 1.08" stroke="#f9d8a8" stroke-width="0.47" fill="none" stroke-linecap="round"/>
<path d="M555.74 341.5q1.14 0.46 2.37 0.5" stroke="#f6c488" stroke-width="0.42" fill="none" stroke-linecap="round"/>
<path d="M548.28 310.49q-0.64 0.42 -1.37 0.64" stroke="#f9d8a8" stroke-width="0.43" fill="none" stroke-linecap="round"/>
<path d="M574.17 313.7q0.29 0.77 0.42 1.58" stroke="#f6c488" stroke-width="0.33" fill="none" stroke-linecap="round"/>
<path d="M574.76 331.92q-0.87 1.23 -1.94 2.28" stroke="#f9d8a8" stroke-width="0.48" fill="none" stroke-linecap="round"/>
<path d="M568.7 320.76q-0.81 0.02 -1.47 0.5" stroke="#f6c488" stroke-width="0.45" fill="none" stroke-linecap="round"/>
<path d="M550.55 313.6q-0.68 0.9 -0.55 2.02" stroke="#f2ae6a" stroke-width="0.3" fill="none" stroke-linecap="round"/>
<path d="M582.15 313.16q0.11 1.64 1.73 1.91" stroke="#f9d8a8" stroke-width="0.48" fill="none" stroke-linecap="round"/>
<path d="M567.29 339.06q0.45 0.94 1.4 0.5" stroke="#f2ae6a" stroke-width="0.37" fill="none" stroke-linecap="round"/>
<path d="M583.97 318.91q0.71 1.07 0.85 2.36" stroke="#f9d8a8" stroke-width="0.45" fill="none" stroke-linecap="round"/>
<path d="M586.1 334.83q-0.59 0.59 -1.27 0.1" stroke="#f2ae6a" stroke-width="0.42" fill="none" stroke-linecap="round"/>
<path d="M553.82 325.75q-0.13 1.14 0.41 2.15" stroke="#f6c488" stroke-width="0.45" fill="none" stroke-linecap="round"/>
<path d="M572.03 337.97q0.82 0.71 0.38 1.7" stroke="#f9d8a8" stroke-width="0.43" fill="none" stroke-linecap="round"/>
<path d="M564.48 334.06q1.17 0.13 2.06 0.9" stroke="#f9d8a8" stroke-width="0.29" fill="none" stroke-linecap="round"/>
<path d="M563.93 320.11q0.07 0.69 0.42 1.28" stroke="#f6c488" stroke-width="0.34" fill="none" stroke-linecap="round"/>
<path d="M560.59 337.61q0.72 0.76 0.32 1.73" stroke="#f2ae6a" stroke-width="0.26" fill="none" stroke-linecap="round"/>
<path d="M548.25 312.09q-0.18 1.69 1.45 2.16" stroke="#f9d8a8" stroke-width="0.42" fill="none" stroke-linecap="round"/>
<path d="M548.75 332.78q1.18 -0.08 1.66 1" stroke="#f9d8a8" stroke-width="0.37" fill="none" stroke-linecap="round"/>
<path d="M580.13 313.24q-0.15 1.43 -1.33 2.26" stroke="#f6c488" stroke-width="0.29" fill="none" stroke-linecap="round"/>
<path d="M567.83 323.65q1.4 -0.27 2.62 0.45" stroke="#f2ae6a" stroke-width="0.43" fill="none" stroke-linecap="round"/>
<path d="M564.18 338.59q1.69 -0.8 2.92 0.62" stroke="#f9d8a8" stroke-width="0.31" fill="none" stroke-linecap="round"/>
<path d="M572.1 324.56q1.38 -0.14 2.04 1.09" stroke="#f9d8a8" stroke-width="0.35" fill="none" stroke-linecap="round"/>
<path d="M581.78 312.12q-0.64 0.66 -1.52 0.92" stroke="#f2ae6a" stroke-width="0.41" fill="none" stroke-linecap="round"/>
<path d="M587.86 313.97q1.47 -0.48 2.88 0.18" stroke="#f9d8a8" stroke-width="0.25" fill="none" stroke-linecap="round"/>
<path d="M578.11 341.96q-0.84 0.72 -0.83 1.83" stroke="#f9d8a8" stroke-width="0.29" fill="none" stroke-linecap="round"/>
<path d="M584.41 311.16q-1.34 0.69 -2.33 1.84" stroke="#f2ae6a" stroke-width="0.36" fill="none" stroke-linecap="round"/>
<path d="M559.59 332.42q-1.23 0.23 -1.46 1.46" stroke="#f6c488" stroke-width="0.3" fill="none" stroke-linecap="round"/>
<path d="M553.07 327.74q-0.67 0.77 -1.65 0.48" stroke="#f2ae6a" stroke-width="0.32" fill="none" stroke-linecap="round"/>
<path d="M580.35 325.4q-1.08 0.3 -2.18 0.12" stroke="#f6c488" stroke-width="0.36" fill="none" stroke-linecap="round"/>
<path d="M577.62 315.57q-0.05 0.81 0.46 1.44" stroke="#f2ae6a" stroke-width="0.37" fill="none" stroke-linecap="round"/>
<path d="M572.42 336.6q0.95 -0.28 1.45 0.58" stroke="#f9d8a8" stroke-width="0.4" fill="none" stroke-linecap="round"/>
<path d="M564.4 319.27q1.42 -0.09 2.73 0.45" stroke="#f6c488" stroke-width="0.34" fill="none" stroke-linecap="round"/>
<path d="M546.17 328.66q0.41 0.75 0.29 1.6" stroke="#f9d8a8" stroke-width="0.45" fill="none" stroke-linecap="round"/>
<path d="M574.75 331.98q1.63 1.04 0.93 2.84" stroke="#f2ae6a" stroke-width="0.32" fill="none" stroke-linecap="round"/>
<path d="M559.57 313.19q0.09 1.04 -0.81 1.55" stroke="#f6c488" stroke-width="0.41" fill="none" stroke-linecap="round"/>
<path d="M563.49 324.54q1.16 0.64 1.1 1.96" stroke="#f9d8a8" stroke-width="0.33" fill="none" stroke-linecap="round"/>
<path d="M586.47 322.02q0.96 -0.7 1.74 0.2" stroke="#f9d8a8" stroke-width="0.39" fill="none" stroke-linecap="round"/>
<path d="M585.15 343.17q0.53 0.42 1.16 0.63" stroke="#f9d8a8" stroke-width="0.31" fill="none" stroke-linecap="round"/>
<path d="M575.04 310.31q1.3 0.69 1.98 2" stroke="#f6c488" stroke-width="0.33" fill="none" stroke-linecap="round"/>
<path d="M572.72 313.65q-0.94 0.88 -2.06 1.5" stroke="#f6c488" stroke-width="0.25" fill="none" stroke-linecap="round"/>
<path d="M567.52 330.35q-0.59 0.39 -1.28 0.26" stroke="#f9d8a8" stroke-width="0.28" fill="none" stroke-linecap="round"/>
<path d="M575.9 342.98q-0.75 0.96 0.04 1.89" stroke="#f6c488" stroke-width="0.3" fill="none" stroke-linecap="round"/>
<path d="M575.29 328.3q-0.11 1.87 -1.97 2.08" stroke="#f9d8a8" stroke-width="0.28" fill="none" stroke-linecap="round"/>
<path d="M555.92 314.7q0.87 0.59 0.38 1.51" stroke="#4a1006" stroke-width="0.55" fill="none" stroke-linecap="round"/>
<path d="M556.67 319.71q-0.18 0.72 -0.83 1.08" stroke="#4a1006" stroke-width="0.79" fill="none" stroke-linecap="round"/>
<path d="M581.56 334q0.55 1.49 -0.33 2.82" stroke="#701c0a" stroke-width="0.58" fill="none" stroke-linecap="round"/>
<path d="M572.69 318.95q-0.32 0.85 -1.21 0.69" stroke="#5e1608" stroke-width="0.4" fill="none" stroke-linecap="round"/>
<path d="M558.26 330.11q-1.15 -0.12 -2.23 0.27" stroke="#4a1006" stroke-width="0.52" fill="none" stroke-linecap="round"/>
<path d="M564.9 341.04q-1.33 0.9 -1.14 2.5" stroke="#701c0a" stroke-width="0.43" fill="none" stroke-linecap="round"/>
<path d="M576.74 319.06q-0.33 1.38 -0.44 2.79" stroke="#5e1608" stroke-width="0.5" fill="none" stroke-linecap="round"/>
<path d="M565.33 321.78q1.57 -0.23 2.14 1.25" stroke="#4a1006" stroke-width="0.45" fill="none" stroke-linecap="round"/>
<path d="M561.44 325.2q1.28 0.22 2.56 0.51" stroke="#5e1608" stroke-width="0.52" fill="none" stroke-linecap="round"/>
<path d="M588.68 333.26q-0.71 -0.01 -1.43 0" stroke="#4a1006" stroke-width="0.47" fill="none" stroke-linecap="round"/>
<path d="M571.33 310.54q0.87 0.67 1.96 0.64" stroke="#4a1006" stroke-width="0.66" fill="none" stroke-linecap="round"/>
<path d="M550.19 340.8q0.51 1.23 -0.35 2.24" stroke="#4a1006" stroke-width="0.45" fill="none" stroke-linecap="round"/>
<path d="M582.28 338.15q-0.54 0.63 -1.34 0.38" stroke="#5e1608" stroke-width="0.74" fill="none" stroke-linecap="round"/>
<path d="M587.95 337.55q1.66 -0.37 2.79 0.91" stroke="#4a1006" stroke-width="0.41" fill="none" stroke-linecap="round"/>
<path d="M572.62 330.36q-1.18 0.53 -1.29 1.82" stroke="#5e1608" stroke-width="0.71" fill="none" stroke-linecap="round"/>
<path d="M570.21 338.96q-0.82 0.7 -1.49 1.54" stroke="#4a1006" stroke-width="0.51" fill="none" stroke-linecap="round"/>
<path d="M585.76 312.01q1.27 0.67 2.67 0.33" stroke="#4a1006" stroke-width="0.51" fill="none" stroke-linecap="round"/>
<path d="M549.34 336.01q-0.26 1.29 1.02 1.57" stroke="#5e1608" stroke-width="0.67" fill="none" stroke-linecap="round"/>
<path d="M564.89 311.64q-1.26 0.17 -1.43 1.43" stroke="#701c0a" stroke-width="0.6" fill="none" stroke-linecap="round"/>
<path d="M588.48 335.1q-0.39 0.89 -1.23 1.38" stroke="#701c0a" stroke-width="0.46" fill="none" stroke-linecap="round"/>
<path d="M569.79 336.31q-0.36 1.13 -1.51 1.4" stroke="#701c0a" stroke-width="0.4" fill="none" stroke-linecap="round"/>
<path d="M571.31 322.06q-1.1 1.54 -2.8 0.71" stroke="#4a1006" stroke-width="0.73" fill="none" stroke-linecap="round"/>
<path d="M576.92 333.13q-0.11 1.34 -1.46 1.41" stroke="#4a1006" stroke-width="0.59" fill="none" stroke-linecap="round"/>
<path d="M546.74 328.31q-1.44 0.2 -1.89 1.58" stroke="#5e1608" stroke-width="0.79" fill="none" stroke-linecap="round"/>
<path d="M567.43 318.85q1 -0.1 1.58 0.73" stroke="#4a1006" stroke-width="0.62" fill="none" stroke-linecap="round"/>
<path d="M550.03 327.54q-1.12 0.24 -0.9 1.36" stroke="#5e1608" stroke-width="0.56" fill="none" stroke-linecap="round"/>
<path d="M562.52 339.82q-0.35 0.79 -0.41 1.65" stroke="#4a1006" stroke-width="0.51" fill="none" stroke-linecap="round"/>
<path d="M568.93 342.95q0.39 1.25 1.66 0.94" stroke="#5e1608" stroke-width="0.75" fill="none" stroke-linecap="round"/>
<path d="M550.95 339.26q-1.52 -0.62 -2.85 0.34" stroke="#5e1608" stroke-width="0.47" fill="none" stroke-linecap="round"/>
<path d="M576.04 314.18q-0.2 1.12 0.74 1.76" stroke="#701c0a" stroke-width="0.5" fill="none" stroke-linecap="round"/>
<path d="M572.23 334.36q-0.89 -0.07 -1.76 0.08" stroke="#701c0a" stroke-width="0.58" fill="none" stroke-linecap="round"/>
<path d="M553.02 318.69q1.08 1.02 1.32 2.48" stroke="#4a1006" stroke-width="0.52" fill="none" stroke-linecap="round"/>
<path d="M563.08 340.75q-0.83 1.2 -0.8 2.66" stroke="#701c0a" stroke-width="0.72" fill="none" stroke-linecap="round"/>
<path d="M559.95 314.05q0.96 0.21 1.93 0.01" stroke="#5e1608" stroke-width="0.53" fill="none" stroke-linecap="round"/>
<path d="M569.44 331.86q0.9 0.55 1.08 1.59" stroke="#701c0a" stroke-width="0.55" fill="none" stroke-linecap="round"/>
</g>
<rect x="559" y="335" width="16.7" height="6.6" fill="#fff"/>
<text x="561.5" y="339.3" font-size="2.9" class="s" textLength="11.7" lengthAdjust="spacingAndGlyphs">Boletus gruel</text>
<clipPath id="phc"><rect x="390" y="248.7" width="43" height="31.9"/><rect x="442.2" y="248.9" width="44.6" height="33.1"/><rect x="494.8" y="248.8" width="42.9" height="32.2"/><rect x="546.1" y="248.6" width="45.4" height="33"/><rect x="390" y="310.8" width="43" height="31.6"/><rect x="443" y="310.8" width="42.4" height="31.6"/><rect x="494.8" y="311.1" width="42.9" height="31.2"/><rect x="546.1" y="311.1" width="42.9" height="31.5"/></clipPath><g clip-path="url(#phc)"><path d="M299.4 253.6 L299.4 233.3 Q299.4 231 301.7 231 L324.8 231 L324.8 228.7 L332.2 232.7 L324.8 236.7 L324.8 234.5 L302.9 234.5 L302.9 253.6 Z" fill="#f0281a" fill-opacity="0.8" stroke="#4a4ad8" stroke-opacity="0.7" stroke-width="0.4"/>
<path d="M359.7 230.7 L418.7 230.7 Q421 230.7 421 233 L421 260.2 L423 260.2 L418.8 266.8 L414.7 260.2 L416.6 260.2 L416.6 234.9 L359.7 234.9 Z" fill="#f0281a" fill-opacity="0.8" stroke="#4a4ad8" stroke-opacity="0.7" stroke-width="0.4"/>
<path d="M439.2 230.7 L487 230.7 Q489.3 230.7 489.3 233 L489.3 260.2 L491.8 260.2 L487.05 266.8 L482 260.2 L484.8 260.2 L484.8 234.9 L439.2 234.9 Z" fill="#f0281a" fill-opacity="0.8" stroke="#4a4ad8" stroke-opacity="0.7" stroke-width="0.4"/>
<path d="M517.4 230.7 L564.9 230.7 Q567.2 230.7 567.2 233 L567.2 260.2 L570 260.2 L564.95 266.8 L560 260.2 L562.7 260.2 L562.7 234.9 L517.4 234.9 Z" fill="#f0281a" fill-opacity="0.8" stroke="#4a4ad8" stroke-opacity="0.7" stroke-width="0.4"/>
<polygon points="392,295.3 400,290.5 400,293.1 423.5,293.1 423.5,297.5 400,297.5 400,300.1" fill="#f0281a" fill-opacity="0.8" stroke="#4a4ad8" stroke-opacity="0.7" stroke-width="0.4"/>
<polygon points="391.4,312.5 399.4,307.7 399.4,310.3 423.3,310.3 423.3,314.7 399.4,314.7 399.4,317.3" fill="#f0281a" fill-opacity="0.8" stroke="#4a4ad8" stroke-opacity="0.7" stroke-width="0.4"/>
<polygon points="461.2,295.3 469.2,290.5 469.2,293.1 492,293.1 492,297.5 469.2,297.5 469.2,300.1" fill="#f0281a" fill-opacity="0.8" stroke="#4a4ad8" stroke-opacity="0.7" stroke-width="0.4"/>
<polygon points="460.6,312.5 468.6,307.7 468.6,310.3 491.8,310.3 491.8,314.7 468.6,314.7 468.6,317.3" fill="#f0281a" fill-opacity="0.8" stroke="#4a4ad8" stroke-opacity="0.7" stroke-width="0.4"/>
<polygon points="532.6,295.3 540.6,290.5 540.6,293.1 564,293.1 564,297.5 540.6,297.5 540.6,300.1" fill="#f0281a" fill-opacity="0.8" stroke="#4a4ad8" stroke-opacity="0.7" stroke-width="0.4"/>
<polygon points="532,312.5 540,307.7 540,310.3 563.8,310.3 563.8,314.7 540,314.7 540,317.3" fill="#f0281a" fill-opacity="0.8" stroke="#4a4ad8" stroke-opacity="0.7" stroke-width="0.4"/>
<path d="M366 357.8 L422.3 357.8 L422.3 335.4 L419.9 335.4 L424.55 329.6 L429 335.4 L426.8 335.4 L426.8 359.4 Q426.8 361.7 424.5 361.7 L366 361.7 Z" fill="#f0281a" fill-opacity="0.8" stroke="#4a4ad8" stroke-opacity="0.7" stroke-width="0.4"/>
<path d="M437.8 357.8 L482.6 357.8 L482.6 335.4 L480.3 335.4 L484.85 329.6 L489.5 335.4 L487.1 335.4 L487.1 359.4 Q487.1 361.7 484.8 361.7 L437.8 361.7 Z" fill="#f0281a" fill-opacity="0.8" stroke="#4a4ad8" stroke-opacity="0.7" stroke-width="0.4"/>
<path d="M532 357.8 L577.2 357.8 L577.2 335.4 L574.7 335.4 L579.45 329.6 L583.8 335.4 L581.7 335.4 L581.7 359.4 Q581.7 361.7 579.4 361.7 L532 361.7 Z" fill="#f0281a" fill-opacity="0.8" stroke="#4a4ad8" stroke-opacity="0.7" stroke-width="0.4"/>
<polygon points="315.4,356.6 331.8,356.6 331.8,354.4 338.6,358.4 331.8,362.4 331.8,360.2 315.4,360.2" fill="#f0281a" fill-opacity="0.8" stroke="#4a4ad8" stroke-opacity="0.7" stroke-width="0.4"/></g>
</g>
<line x1="367.23" y1="129.45" x2="342" y2="288.6" stroke="#e4b6aa" stroke-width="1.35"/>
<line x1="503.52" y1="132.16" x2="378.5" y2="258" stroke="#e4b6aa" stroke-width="1.35"/>
<line x1="230.04" y1="206.3" x2="292" y2="271.3" stroke="#e4b6aa" stroke-width="1.35"/>
<line x1="202.24" y1="338.71" x2="285" y2="351" stroke="#e4b6aa" stroke-width="1.35"/>
<line x1="657.64" y1="217.89" x2="367.7" y2="301.4" stroke="#e4b6aa" stroke-width="1.35"/>
<line x1="675.5" y1="327.52" x2="401.3" y2="333" stroke="#e4b6aa" stroke-width="1.35"/>
<g clip-path="url(#bld)">
<line x1="367.23" y1="129.45" x2="342" y2="288.6" stroke="#8f9696" stroke-width="1.6"/>
<line x1="503.52" y1="132.16" x2="378.5" y2="258" stroke="#8f9696" stroke-width="1.6"/>
<line x1="230.04" y1="206.3" x2="292" y2="271.3" stroke="#8f9696" stroke-width="1.6"/>
<line x1="202.24" y1="338.71" x2="285" y2="351" stroke="#8f9696" stroke-width="1.6"/>
<line x1="657.64" y1="217.89" x2="367.7" y2="301.4" stroke="#8f9696" stroke-width="1.6"/>
<line x1="675.5" y1="327.52" x2="401.3" y2="333" stroke="#8f9696" stroke-width="1.6"/>
</g>
<circle cx="368.45" cy="88.8" r="44.4" fill="#fff" stroke="#dcb6ac" stroke-width="0.6"/>
<circle cx="368.45" cy="88.8" r="43.05" fill="none" stroke="#9f9b96" stroke-width="2.3"/>
<circle cx="502.6" cy="90.4" r="44.7" fill="#fff" stroke="#dcb6ac" stroke-width="0.6"/>
<circle cx="502.6" cy="90.4" r="43.35" fill="none" stroke="#9f9b96" stroke-width="2.3"/>
<circle cx="189.55" cy="191.3" r="44.45" fill="#fff" stroke="#dcb6ac" stroke-width="0.6"/>
<circle cx="189.55" cy="191.3" r="43.1" fill="none" stroke="#9f9b96" stroke-width="2.3"/>
<circle cx="160.9" cy="330.2" r="44.6" fill="#fff" stroke="#dcb6ac" stroke-width="0.6"/>
<circle cx="160.9" cy="330.2" r="43.25" fill="none" stroke="#9f9b96" stroke-width="2.3"/>
<circle cx="689.9" cy="191" r="44.5" fill="#fff" stroke="#dcb6ac" stroke-width="0.6"/>
<circle cx="689.9" cy="191" r="43.15" fill="none" stroke="#9f9b96" stroke-width="2.3"/>
<circle cx="713.3" cy="335.6" r="42.1" fill="#fff" stroke="#dcb6ac" stroke-width="0.6"/>
<circle cx="713.3" cy="335.6" r="40.75" fill="none" stroke="#9f9b96" stroke-width="2.3"/>
<text x="349.5" y="122.6" font-size="5.7" textLength="34.5" lengthAdjust="spacingAndGlyphs">Circulating fan</text>
<text x="487.6" y="116.8" font-size="5.7" textLength="30.7" lengthAdjust="spacingAndGlyphs">Temperature and</text>
<text x="477.6" y="123.8" font-size="5.7" textLength="52.3" lengthAdjust="spacingAndGlyphs">humidity control equipment</text>
<text x="164" y="222.6" font-size="5.7" textLength="52.7" lengthAdjust="spacingAndGlyphs">Heat supply equipment</text>
<text x="143.4" y="363.2" font-size="5.7" textLength="36.6" lengthAdjust="spacingAndGlyphs">Combustion fan</text>
<text x="671.9" y="222.6" font-size="5.7" textLength="42.1" lengthAdjust="spacingAndGlyphs">Cold air inlet door</text>
<text x="696.4" y="368.1" font-size="5.7" textLength="31.9" lengthAdjust="spacingAndGlyphs">Dehumidifier</text>
<defs>
<linearGradient id="mt" x1="0" x2="1" y1="0" y2="0"><stop offset="0" stop-color="#8b8d8a"/><stop offset=".3" stop-color="#f0f1ee"/><stop offset=".65" stop-color="#b6b8b5"/><stop offset="1" stop-color="#6d6f6c"/></linearGradient>
<linearGradient id="mtv" x1="0" x2="0" y1="0" y2="1"><stop offset="0" stop-color="#8d8f8c"/><stop offset=".3" stop-color="#eceDea"/><stop offset=".7" stop-color="#a9aba8"/><stop offset="1" stop-color="#6f716e"/></linearGradient>
<radialGradient id="disc" cx=".4" cy=".35" r=".7"><stop offset="0" stop-color="#dcddda"/><stop offset=".6" stop-color="#9c9e9a"/><stop offset="1" stop-color="#6c6e6b"/></radialGradient>
<linearGradient id="alu" x1="0" x2="1" y1="0" y2="1"><stop offset="0" stop-color="#eef1f3"/><stop offset=".5" stop-color="#b4bcc2"/><stop offset="1" stop-color="#8c959b"/></linearGradient>
</defs>
<g id="ic1">
<ellipse cx="374.4" cy="82.7" rx="17.8" ry="24.6" fill="#4e5b6c"/>
<ellipse cx="373.2" cy="82.7" rx="17.4" ry="24.9" fill="#5f6d7f"/>
<ellipse cx="368.2" cy="83.2" rx="17.8" ry="25.3" fill="#e4e7eb" stroke="#b4bcc5" stroke-width="0.5"/>
<ellipse cx="369.2" cy="83.2" rx="15.5" ry="22.9" fill="#424d5b"/>
<clipPath id="fanc"><ellipse cx="369.2" cy="83.2" rx="15.5" ry="22.9"/></clipPath><g clip-path="url(#fanc)">
<ellipse cx="373" cy="83" rx="13.8" ry="20.8" fill="#f3f4f6"/>
<ellipse cx="373" cy="83" rx="13.8" ry="20.8" fill="none" stroke="#8995a3" stroke-width="1"/>
<path d="M362.66 64.35 L372.48 62.84 L375.5 68.13 L372.48 72.66 L370.21 76.44 L367.95 68.13 Z" fill="#3d4754"/>
<path d="M376.25 88.52 L385.32 91.54 L382.3 98.34 L377.76 93.81 Z" fill="#3d4754"/>
<path d="M354.35 80.21 L362.66 80.97 L364.92 85.5 L355.11 87.76 Z" fill="#46515f"/>
<path d="M360.85 66.31 L364.17 64.8 L370.21 66.62 L370.97 72.66 L369.46 80.21 L366.44 82.48 L364.17 75.68 Z" fill="#f6f7f8" stroke="#c9ced4" stroke-width="0.3"/>
<path d="M370.21 79.46 L375.5 74.92 L382.3 71.9 L384.11 77.95 L382.3 85.05 L375.5 86.25 L370.97 84.74 Z" fill="#fbfbfc" stroke="#c9ced4" stroke-width="0.3"/>
<path d="M365.68 86.25 L358.13 85.05 L353.9 88.97 L356.62 94.11 L362.66 95.32 L365.98 90.79 Z" fill="#eef0f2" stroke="#c9ced4" stroke-width="0.3"/>
<path d="M366.44 91.54 L364.92 95.32 L366.44 101.36 L372.48 106.19 L377.01 102.87 L375.5 96.07 L370.97 91.54 Z" fill="#e6e9ec" stroke="#c0c6cc" stroke-width="0.3"/>
<line x1="367.95" y1="85.05" x2="357.82" y2="74.17" stroke="#2f3843" stroke-width="1.1"/>
<line x1="369.46" y1="86.25" x2="384.11" y2="94.11" stroke="#2f3843" stroke-width="1.1"/>
<line x1="370.21" y1="83.99" x2="376.25" y2="75.68" stroke="#2f3843" stroke-width="1.1"/>
<line x1="367.19" y1="87.01" x2="364.17" y2="98.34" stroke="#2f3843" stroke-width="1.1"/>
<ellipse cx="368.4" cy="85.65" rx="3.4" ry="3.8" fill="#b9c0c8" stroke="#59636f" stroke-width="0.6"/><circle cx="369.0" cy="85.25" r="1.3" fill="#59636f"/>
</g></g>
<g id="ic2">
<polygon points="513.6,58.6 522.4,57.4 522.4,108 513.6,109.8" fill="#efefef" stroke="#c9c9c9" stroke-width="0.4"/>
<rect x="519.2" y="66" width="2.2" height="5" fill="#dadada"/><rect x="519.2" y="95" width="2.2" height="5" fill="#dadada"/>
<rect x="485.2" y="58.4" width="29" height="51.4" rx="0.8" fill="#f7f7f7" stroke="#c4c4c4" stroke-width="0.5"/>
<rect x="487" y="61.4" width="26.6" height="46" fill="#2b3c9d"/>
<rect x="487.6" y="62" width="25.4" height="2.6" fill="#3c53c0"/><rect x="491" y="62.8" width="18" height="1" fill="#e8e29a"/>
<rect x="489.4" y="66" width="22.6" height="15.4" fill="#95d46e" stroke="#d9dde8" stroke-width="0.5"/>
<rect x="491" y="68.4" width="12" height="2.6" fill="#3e7a33"/><rect x="505" y="68.6" width="4" height="2" fill="#4f8a40"/>
<rect x="490.6" y="72.5" width="0.7" height="7" fill="#4f8f42"/>
<rect x="494.1" y="72.5" width="0.7" height="7" fill="#4f8f42"/>
<rect x="497.6" y="72.5" width="0.7" height="7" fill="#4f8f42"/>
<rect x="501.1" y="72.5" width="0.7" height="7" fill="#4f8f42"/>
<rect x="504.6" y="72.5" width="0.7" height="7" fill="#4f8f42"/>
<rect x="508.1" y="72.5" width="0.7" height="7" fill="#4f8f42"/>
<rect x="490" y="79" width="21" height="1.2" fill="#6fb055"/>
<rect x="490.6" y="84" width="2.6" height="2" fill="#e23a2e"/>
<rect x="494.2" y="84" width="2.6" height="2" fill="#3fc04a"/>
<rect x="499.4" y="84" width="2.6" height="2" fill="#5aa8f0"/>
<rect x="503" y="84" width="2.6" height="2" fill="#5aa8f0"/>
<rect x="508" y="84" width="2.6" height="2" fill="#e9e9e9"/>
<rect x="489.6" y="88.2" width="22" height="0.7" fill="#c8cdf0"/><rect x="489.6" y="90.2" width="22" height="0.9" fill="#f0e27a"/><rect x="489.6" y="92.4" width="22" height="0.6" fill="#aab2e8"/>
<rect x="490" y="95" width="2.6" height="4.2" fill="#e03a2c"/>
<rect x="493.7" y="95" width="2.6" height="4.2" fill="#f2c230"/>
<rect x="497.4" y="95" width="2.6" height="4.2" fill="#e8762a"/>
<rect x="501.1" y="95" width="2.6" height="4.2" fill="#e03a2c"/>
<rect x="504.8" y="95" width="2.6" height="4.2" fill="#f2c230"/>
<rect x="508.5" y="95" width="2.6" height="4.2" fill="#e03a2c"/>
<rect x="489.6" y="101.4" width="22" height="1.6" fill="#d8402e"/><rect x="489.6" y="104" width="22" height="1.2" fill="#e9e9f4"/>
</g>
<g id="ic3">
<rect x="167.4" y="147.5" width="2.4" height="17" fill="#f2f2f2" stroke="#bbb" stroke-width="0.4"/>
<rect x="163.4" y="163.2" width="12" height="2.8" fill="#e4e4e4" stroke="#aaa" stroke-width="0.4"/>
<rect x="181.4" y="181" width="21.4" height="30" rx="2" fill="url(#mt)"/>
<ellipse cx="192.1" cy="182.8" rx="10.7" ry="4.2" fill="#5c5e5b"/><ellipse cx="190" cy="182" rx="5" ry="1.8" fill="#8f918e"/>
<ellipse cx="192.1" cy="210.6" rx="10.7" ry="2.2" fill="#6f716e"/>
<rect x="175" y="161.6" width="32.4" height="16.8" rx="2" fill="#ededed" stroke="#8a8a8a" stroke-width="0.4"/>
<rect x="178.6" y="162.6" width="19.6" height="14.8" fill="#f7f7f7"/>
<line x1="179" y1="164.2" x2="198" y2="164.2" stroke="#5f615e" stroke-width="0.8"/>
<line x1="179" y1="167.1" x2="198" y2="167.1" stroke="#5f615e" stroke-width="0.8"/>
<line x1="179" y1="170" x2="198" y2="170" stroke="#5f615e" stroke-width="0.8"/>
<line x1="179" y1="172.9" x2="198" y2="172.9" stroke="#5f615e" stroke-width="0.8"/>
<line x1="179" y1="175.8" x2="198" y2="175.8" stroke="#5f615e" stroke-width="0.8"/>
<rect x="175" y="161.6" width="3.4" height="16.8" rx="1" fill="#b9bbb8"/><rect x="198.4" y="161.6" width="2.4" height="16.8" fill="#9a9c99"/>
<rect x="201" y="163" width="6.8" height="12" fill="#dcdddb" stroke="#8a8a8a" stroke-width="0.4"/><rect x="203" y="165" width="3" height="4" fill="#8f918e"/>
<path d="M206.8 170 L207.4 178 Q207 183 202 186" fill="none" stroke="#6f716e" stroke-width="1.5"/>
<rect x="175" y="192.4" width="15.4" height="9" fill="#9a9c99" stroke="#6a6a6a" stroke-width="0.3"/><rect x="176" y="193.2" width="9" height="3" fill="#b9bbb8"/><rect x="176" y="205.6" width="15.4" height="8.4" fill="#8c8e8b" stroke="#6a6a6a" stroke-width="0.3"/><rect x="177" y="206.4" width="9" height="2.6" fill="#adafac"/>
<polygon points="190.4,192.4 193.4,194 193.4,202.4 190.4,201.4" fill="#666865"/><polygon points="191.4,205.6 194.4,207 194.4,214 191.4,214" fill="#5e605d"/>
</g>
<g id="ic4">
<defs><linearGradient id="mtv2" x1="0" x2="0" y1="0" y2="1"><stop offset="0" stop-color="#a9aaa7"/><stop offset=".22" stop-color="#dedfdc"/><stop offset=".6" stop-color="#a3a4a1"/><stop offset="1" stop-color="#676865"/></linearGradient></defs>
<polygon points="145.87,342.15 161.75,338.68 175.35,335.05 177.17,338.07 162.5,345.18 160.23,351.22 152.68,350.47 146.63,345.93" fill="#858683"/>
<polygon points="149.35,342.61 160.99,340.64 159.48,349.71 152.98,348.96" fill="#b7b8b5"/>
<polygon points="136.8,338.68 149.65,330.51 159.48,337.17 143.91,347.14" fill="#a2a3a0"/>
<polygon points="139.07,337.17 149.65,330.51 152.68,332.63 141.34,339.89" fill="#c9cac7"/>
<ellipse cx="139.98" cy="342.31" rx="3.33" ry="4.69" fill="#4d4e4b" transform="rotate(-32 139.98 342.31)"/>
<ellipse cx="140.43" cy="342.15" rx="2.12" ry="3.33" fill="#7e7f7c" transform="rotate(-32 140.43 342.15)"/>
<ellipse cx="157.21" cy="315.7" rx="14.97" ry="20.56" fill="#7f807d" transform="rotate(8 157.21 315.7)"/>
<ellipse cx="158.72" cy="315.4" rx="14.06" ry="19.65" fill="url(#disc)" transform="rotate(8 158.72 315.4)"/>
<ellipse cx="162.05" cy="316.3" rx="11.64" ry="17.23" fill="#9c9d9a" transform="rotate(8 162.05 316.3)" stroke="#c9cac7" stroke-width="0.5"/>
<ellipse cx="164.01" cy="316.91" rx="9.37" ry="14.81" fill="#8a8b88" transform="rotate(8 164.01 316.91)"/>
<polygon points="162.05,306.93 182.15,312.68 182.15,333.24 162.05,335.35" fill="url(#mtv2)"/>
<ellipse cx="182.0" cy="322.8" rx="6.5" ry="10.43" fill="#8e8f8c"/>
<ellipse cx="182.46" cy="322.8" rx="4.99" ry="8.47" fill="#c2c3c0"/>
<ellipse cx="182.91" cy="322.96" rx="3.63" ry="6.65" fill="#666764"/>
<line x1="180.19" y1="318.72" x2="185.63" y2="318.72" stroke="#a9aaa7" stroke-width="0.5"/>
<line x1="180.19" y1="320.99" x2="185.63" y2="320.99" stroke="#a9aaa7" stroke-width="0.5"/>
<line x1="180.19" y1="323.26" x2="185.63" y2="323.26" stroke="#a9aaa7" stroke-width="0.5"/>
<line x1="180.19" y1="325.53" x2="185.63" y2="325.53" stroke="#a9aaa7" stroke-width="0.5"/>
<line x1="180.19" y1="327.79" x2="185.63" y2="327.79" stroke="#a9aaa7" stroke-width="0.5"/>
<circle cx="160.84" cy="312.68" r="0.7" fill="#d8cfa0"/><circle cx="160.23" cy="330.06" r="0.7" fill="#d8cfa0"/>
</g>
<g id="ic5">
<polygon points="665,166 705,178 705,199 669,182" fill="#e9edf0"/>
<polygon points="667,170.5 703,182.6 703,185.4 667.6,173.6" fill="#f9fafb" stroke="#b4bec6" stroke-width="0.4"/>
<polygon points="668,175 703,188 703,190.6 668.6,178" fill="#e6e2cc" stroke="#b4bec6" stroke-width="0.4"/>
<polygon points="669,179.4 703,193.4 703,196 669.6,182" fill="#f4f6f8" stroke="#b4bec6" stroke-width="0.4"/>
<polygon points="664.1,163.4 707.4,175.8 707.4,179.6 664.1,167.4" fill="url(#alu)" stroke="#8d979f" stroke-width="0.4"/>
<polygon points="664.1,163.4 666.4,162.8 709,175 707.4,175.8" fill="#eef1f4" stroke="#a8b2ba" stroke-width="0.3"/>
<polygon points="664.1,166 666.9,166.8 671,183 668.2,182" fill="#a4aeb6" stroke="#808a92" stroke-width="0.3"/>
<polygon points="668.2,180.6 670.4,179.6 704,196.6 703.6,200.4" fill="#b4bdc4" stroke="#808a92" stroke-width="0.3"/>
<rect x="702.4" y="176" width="5.2" height="25" fill="url(#alu)" stroke="#808a92" stroke-width="0.4"/>
<rect x="704" y="178" width="1.4" height="21" fill="#8c969e"/>
<polygon points="707.6,186.4 717.8,188.6 717.4,200 707.6,198.4" fill="#e2e2e2" stroke="#b9b9b9" stroke-width="0.4"/><polygon points="707.6,186.4 712,184.2 719,186.4 717.8,188.6" fill="#f3f3f3" stroke="#c4c4c4" stroke-width="0.3"/><polygon points="717.8,188.6 719,186.4 718.8,197.6 717.4,200" fill="#cfcfcf"/>
<ellipse cx="701.7" cy="205.9" rx="5.8" ry="3" fill="none" stroke="#1b1b1b" stroke-width="1.1"/><ellipse cx="701.2" cy="206.1" rx="4" ry="1.9" fill="none" stroke="#2a2a2a" stroke-width="0.7"/>
<path d="M707 204.6 Q711 203 713 200" fill="none" stroke="#2a2a2a" stroke-width="0.6"/>
</g>
<g id="ic6">
<polygon points="714.8,314.2 736,314.2 740.6,352.6 712.8,353.6" fill="#dde1e4" stroke="#b3bbc0" stroke-width="0.8"/>
<line x1="715.2" y1="317" x2="736.4" y2="316.8" stroke="#bac2c7" stroke-width="0.9"/>
<line x1="715.2" y1="318.3" x2="736.4" y2="318.1" stroke="#f2f4f5" stroke-width="0.9"/>
<line x1="715.15" y1="320.2" x2="736.78" y2="320" stroke="#bac2c7" stroke-width="0.9"/>
<line x1="715.15" y1="321.5" x2="736.78" y2="321.3" stroke="#f2f4f5" stroke-width="0.9"/>
<line x1="715.1" y1="323.4" x2="737.16" y2="323.2" stroke="#bac2c7" stroke-width="0.9"/>
<line x1="715.1" y1="324.7" x2="737.16" y2="324.5" stroke="#f2f4f5" stroke-width="0.9"/>
<line x1="715.05" y1="326.6" x2="737.54" y2="326.4" stroke="#bac2c7" stroke-width="0.9"/>
<line x1="715.05" y1="327.9" x2="737.54" y2="327.7" stroke="#f2f4f5" stroke-width="0.9"/>
<line x1="715" y1="329.8" x2="737.92" y2="329.6" stroke="#bac2c7" stroke-width="0.9"/>
<line x1="715" y1="331.1" x2="737.92" y2="330.9" stroke="#f2f4f5" stroke-width="0.9"/>
<line x1="714.95" y1="333" x2="738.3" y2="332.8" stroke="#bac2c7" stroke-width="0.9"/>
<line x1="714.95" y1="334.3" x2="738.3" y2="334.1" stroke="#f2f4f5" stroke-width="0.9"/>
<line x1="714.9" y1="336.2" x2="738.68" y2="336" stroke="#bac2c7" stroke-width="0.9"/>
<line x1="714.9" y1="337.5" x2="738.68" y2="337.3" stroke="#f2f4f5" stroke-width="0.9"/>
<line x1="714.85" y1="339.4" x2="739.06" y2="339.2" stroke="#bac2c7" stroke-width="0.9"/>
<line x1="714.85" y1="340.7" x2="739.06" y2="340.5" stroke="#f2f4f5" stroke-width="0.9"/>
<line x1="714.8" y1="342.6" x2="739.44" y2="342.4" stroke="#bac2c7" stroke-width="0.9"/>
<line x1="714.8" y1="343.9" x2="739.44" y2="343.7" stroke="#f2f4f5" stroke-width="0.9"/>
<line x1="714.75" y1="345.8" x2="739.82" y2="345.6" stroke="#bac2c7" stroke-width="0.9"/>
<line x1="714.75" y1="347.1" x2="739.82" y2="346.9" stroke="#f2f4f5" stroke-width="0.9"/>
<line x1="714.7" y1="349" x2="740.2" y2="348.8" stroke="#bac2c7" stroke-width="0.9"/>
<line x1="714.7" y1="350.3" x2="740.2" y2="350.1" stroke="#f2f4f5" stroke-width="0.9"/>
<polygon points="690.2,314.8 713.8,310.2 711.6,354.8 686,350.2" fill="#e6eaec" stroke="#bcc6cc" stroke-width="1.5"/>
<line x1="691" y1="318.4" x2="712.4" y2="314.4" stroke="#b3bcc2" stroke-width="1"/>
<line x1="691" y1="319.8" x2="712.4" y2="315.8" stroke="#fafbfb" stroke-width="0.9"/>
<line x1="690.63" y1="321.34" x2="712.22" y2="318.1" stroke="#b3bcc2" stroke-width="1"/>
<line x1="690.63" y1="322.74" x2="712.22" y2="319.5" stroke="#fafbfb" stroke-width="0.9"/>
<line x1="690.26" y1="324.28" x2="712.04" y2="321.8" stroke="#b3bcc2" stroke-width="1"/>
<line x1="690.26" y1="325.68" x2="712.04" y2="323.2" stroke="#fafbfb" stroke-width="0.9"/>
<line x1="689.89" y1="327.22" x2="711.86" y2="325.5" stroke="#b3bcc2" stroke-width="1"/>
<line x1="689.89" y1="328.62" x2="711.86" y2="326.9" stroke="#fafbfb" stroke-width="0.9"/>
<line x1="689.52" y1="330.16" x2="711.68" y2="329.2" stroke="#b3bcc2" stroke-width="1"/>
<line x1="689.52" y1="331.56" x2="711.68" y2="330.6" stroke="#fafbfb" stroke-width="0.9"/>
<line x1="689.15" y1="333.1" x2="711.5" y2="332.9" stroke="#b3bcc2" stroke-width="1"/>
<line x1="689.15" y1="334.5" x2="711.5" y2="334.3" stroke="#fafbfb" stroke-width="0.9"/>
<line x1="688.78" y1="336.04" x2="711.32" y2="336.6" stroke="#b3bcc2" stroke-width="1"/>
<line x1="688.78" y1="337.44" x2="711.32" y2="338" stroke="#fafbfb" stroke-width="0.9"/>
<line x1="688.41" y1="338.98" x2="711.14" y2="340.3" stroke="#b3bcc2" stroke-width="1"/>
<line x1="688.41" y1="340.38" x2="711.14" y2="341.7" stroke="#fafbfb" stroke-width="0.9"/>
<line x1="688.04" y1="341.92" x2="710.96" y2="344" stroke="#b3bcc2" stroke-width="1"/>
<line x1="688.04" y1="343.32" x2="710.96" y2="345.4" stroke="#fafbfb" stroke-width="0.9"/>
<line x1="687.67" y1="344.86" x2="710.78" y2="347.7" stroke="#b3bcc2" stroke-width="1"/>
<line x1="687.67" y1="346.26" x2="710.78" y2="349.1" stroke="#fafbfb" stroke-width="0.9"/>
<line x1="687.3" y1="347.8" x2="710.6" y2="351.4" stroke="#b3bcc2" stroke-width="1"/>
<line x1="687.3" y1="349.2" x2="710.6" y2="352.8" stroke="#fafbfb" stroke-width="0.9"/>
</g>
</svg></body></html>
